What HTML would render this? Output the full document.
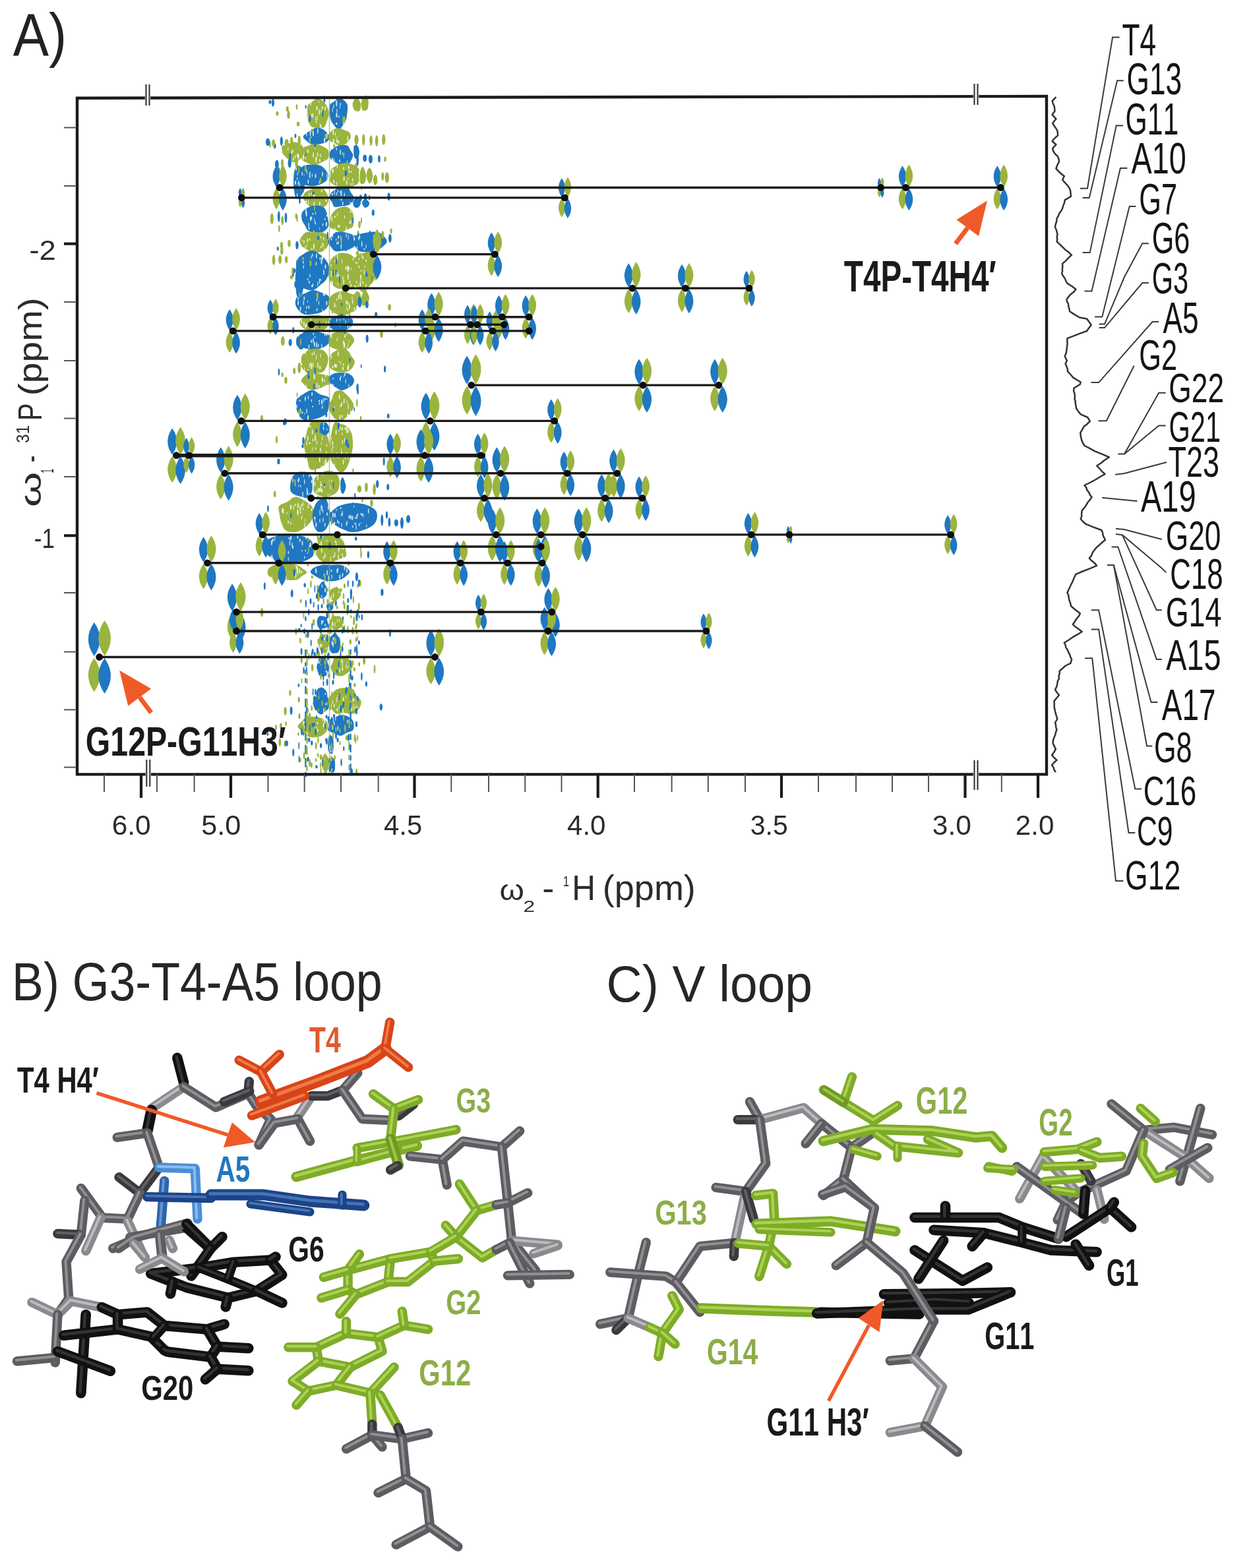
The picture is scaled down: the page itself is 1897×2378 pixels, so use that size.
<!DOCTYPE html>
<html><head><meta charset="utf-8"><title>NMR figure</title>
<style>html,body{margin:0;padding:0;background:#fff;width:1897px;height:2378px;overflow:hidden;} svg text{font-kerning:none;font-family:"Liberation Sans",Arial,sans-serif;}</style>
</head><body><svg width="1897" height="2378" viewBox="0 0 1897 2378" style="display:block"><g id="peaks"><path d="M498.9,172.0 C499.0,175.6 497.3,179.3 496.0,182.9 C494.7,186.4 493.5,191.5 491.2,193.3 C488.8,195.0 485.0,193.4 482.0,193.3 C479.0,193.2 475.6,194.3 473.1,192.7 C470.6,191.1 468.3,186.9 467.2,183.5 C466.0,180.0 466.3,175.9 466.2,172.0 C466.1,168.1 465.3,163.2 466.7,160.1 C468.0,157.1 471.6,155.7 474.1,153.8 C476.7,151.9 479.4,148.7 482.0,148.7 C484.6,148.7 487.6,151.5 489.9,153.6 C492.2,155.7 494.3,158.3 495.8,161.3 C497.3,164.4 498.9,168.4 498.9,172.0Z" fill="#9ab43e"/><ellipse cx="479.7" cy="185.1" rx="0.6" ry="2.2" fill="#ffffff" fill-opacity="0.80"/><ellipse cx="485.8" cy="189.9" rx="0.8" ry="2.7" fill="#ffffff" fill-opacity="0.80"/><ellipse cx="496.3" cy="153.9" rx="1.0" ry="2.4" fill="#ffffff" fill-opacity="0.80"/><ellipse cx="471.3" cy="156.7" rx="0.7" ry="3.9" fill="#ffffff" fill-opacity="0.80"/><ellipse cx="472.4" cy="175.3" rx="0.9" ry="2.6" fill="#ffffff" fill-opacity="0.80"/><ellipse cx="483.4" cy="154.5" rx="0.5" ry="2.1" fill="#ffffff" fill-opacity="0.80"/><ellipse cx="487.4" cy="169.1" rx="0.7" ry="3.3" fill="#ffffff" fill-opacity="0.80"/><ellipse cx="480.6" cy="164.0" rx="1.0" ry="3.6" fill="#ffffff" fill-opacity="0.80"/><ellipse cx="474.3" cy="175.0" rx="0.8" ry="4.1" fill="#ffffff" fill-opacity="0.80"/><ellipse cx="488.9" cy="163.5" rx="1.1" ry="1.9" fill="#ffffff" fill-opacity="0.80"/><ellipse cx="479.5" cy="182.3" rx="0.6" ry="3.0" fill="#ffffff" fill-opacity="0.80"/><ellipse cx="468.2" cy="178.7" rx="1.0" ry="3.2" fill="#ffffff" fill-opacity="0.80"/><ellipse cx="493.3" cy="164.5" rx="0.9" ry="3.3" fill="#ffffff" fill-opacity="0.80"/><ellipse cx="484.4" cy="170.2" rx="1.0" ry="4.3" fill="#ffffff" fill-opacity="0.80"/><ellipse cx="481.2" cy="178.6" rx="0.5" ry="3.6" fill="#ffffff" fill-opacity="0.80"/><ellipse cx="486.4" cy="191.7" rx="1.0" ry="2.4" fill="#ffffff" fill-opacity="0.80"/><ellipse cx="478.6" cy="178.7" rx="0.5" ry="2.9" fill="#ffffff" fill-opacity="0.80"/><path d="M526.4,172.0 C526.0,175.9 525.6,179.7 524.5,182.8 C523.4,185.8 521.6,187.9 519.8,190.3 C517.9,192.8 515.6,197.2 513.5,197.2 C511.4,197.3 509.0,193.0 507.1,190.7 C505.2,188.3 503.3,186.2 502.1,183.1 C500.9,180.0 500.1,176.0 499.8,172.0 C499.5,168.0 499.0,162.2 500.3,159.1 C501.5,156.0 505.0,155.3 507.2,153.5 C509.4,151.8 511.3,149.0 513.5,148.6 C515.7,148.2 518.4,149.5 520.6,151.2 C522.8,153.0 525.8,155.6 526.8,159.1 C527.7,162.5 526.8,168.1 526.4,172.0Z" fill="#1f78c1"/><ellipse cx="520.8" cy="186.6" rx="0.7" ry="2.7" fill="#ffffff" fill-opacity="0.80"/><ellipse cx="510.3" cy="187.4" rx="1.1" ry="2.0" fill="#ffffff" fill-opacity="0.80"/><ellipse cx="506.1" cy="161.3" rx="0.6" ry="3.0" fill="#ffffff" fill-opacity="0.80"/><ellipse cx="515.5" cy="162.5" rx="0.5" ry="2.8" fill="#ffffff" fill-opacity="0.80"/><ellipse cx="510.5" cy="174.7" rx="1.1" ry="3.6" fill="#ffffff" fill-opacity="0.80"/><ellipse cx="513.9" cy="176.7" rx="0.9" ry="1.7" fill="#ffffff" fill-opacity="0.80"/><ellipse cx="522.7" cy="183.2" rx="1.0" ry="3.9" fill="#ffffff" fill-opacity="0.80"/><ellipse cx="511.0" cy="168.0" rx="0.6" ry="3.4" fill="#ffffff" fill-opacity="0.80"/><ellipse cx="503.4" cy="154.7" rx="0.6" ry="2.0" fill="#ffffff" fill-opacity="0.80"/><ellipse cx="509.8" cy="154.1" rx="0.5" ry="2.0" fill="#ffffff" fill-opacity="0.80"/><ellipse cx="504.3" cy="166.5" rx="0.5" ry="4.1" fill="#ffffff" fill-opacity="0.80"/><ellipse cx="516.1" cy="157.9" rx="0.7" ry="2.5" fill="#ffffff" fill-opacity="0.80"/><ellipse cx="510.4" cy="156.9" rx="1.0" ry="4.5" fill="#ffffff" fill-opacity="0.80"/><path d="M499.6,207.5 C499.8,209.6 498.8,212.2 497.1,213.9 C495.4,215.6 491.9,216.7 489.2,217.5 C486.4,218.4 483.5,219.0 480.5,219.1 C477.5,219.3 473.9,219.2 471.2,218.2 C468.6,217.3 466.7,215.4 464.8,213.6 C462.9,211.8 459.7,209.5 459.7,207.5 C459.8,205.5 463.2,203.2 465.2,201.6 C467.2,199.9 469.4,199.0 472.0,197.6 C474.5,196.2 477.5,193.5 480.5,193.2 C483.5,193.0 487.6,194.9 490.2,196.3 C492.7,197.7 494.2,199.7 495.7,201.6 C497.3,203.5 499.4,205.4 499.6,207.5Z" fill="#1f78c1"/><ellipse cx="481.9" cy="198.5" rx="0.8" ry="4.4" fill="#ffffff" fill-opacity="0.80"/><ellipse cx="492.5" cy="211.2" rx="0.7" ry="2.6" fill="#ffffff" fill-opacity="0.80"/><ellipse cx="469.5" cy="212.7" rx="0.8" ry="3.8" fill="#ffffff" fill-opacity="0.80"/><ellipse cx="474.9" cy="202.2" rx="1.0" ry="4.5" fill="#ffffff" fill-opacity="0.80"/><ellipse cx="492.1" cy="213.3" rx="1.0" ry="3.7" fill="#ffffff" fill-opacity="0.80"/><ellipse cx="471.5" cy="207.8" rx="0.7" ry="1.6" fill="#ffffff" fill-opacity="0.80"/><ellipse cx="464.9" cy="203.3" rx="0.7" ry="3.6" fill="#ffffff" fill-opacity="0.80"/><ellipse cx="495.6" cy="206.5" rx="1.1" ry="4.5" fill="#ffffff" fill-opacity="0.80"/><ellipse cx="495.5" cy="204.9" rx="0.6" ry="2.2" fill="#ffffff" fill-opacity="0.80"/><ellipse cx="470.5" cy="201.9" rx="0.9" ry="4.2" fill="#ffffff" fill-opacity="0.80"/><path d="M531.9,207.5 C531.7,209.7 529.9,212.0 528.4,213.9 C527.0,215.8 525.3,217.8 523.1,219.1 C520.8,220.3 517.5,221.6 515.0,221.3 C512.5,221.0 510.3,218.7 508.0,217.5 C505.6,216.4 502.7,215.9 501.0,214.2 C499.3,212.5 497.9,209.8 497.9,207.5 C497.8,205.2 499.1,202.6 500.6,200.6 C502.1,198.7 504.3,196.7 506.7,195.7 C509.1,194.7 512.4,194.4 515.0,194.7 C517.6,194.9 519.8,196.2 522.2,197.2 C524.6,198.2 527.8,198.9 529.4,200.6 C531.1,202.3 532.0,205.3 531.9,207.5Z" fill="#9ab43e"/><ellipse cx="510.6" cy="213.2" rx="1.1" ry="2.7" fill="#ffffff" fill-opacity="0.80"/><ellipse cx="512.4" cy="216.0" rx="0.9" ry="2.0" fill="#ffffff" fill-opacity="0.80"/><ellipse cx="505.3" cy="200.9" rx="1.0" ry="3.9" fill="#ffffff" fill-opacity="0.80"/><ellipse cx="505.8" cy="213.7" rx="1.1" ry="3.5" fill="#ffffff" fill-opacity="0.80"/><ellipse cx="511.1" cy="208.4" rx="0.6" ry="1.5" fill="#ffffff" fill-opacity="0.80"/><ellipse cx="527.2" cy="210.3" rx="0.8" ry="4.3" fill="#ffffff" fill-opacity="0.80"/><ellipse cx="513.3" cy="214.6" rx="1.0" ry="2.1" fill="#ffffff" fill-opacity="0.80"/><ellipse cx="508.5" cy="203.6" rx="0.6" ry="3.3" fill="#ffffff" fill-opacity="0.80"/><path d="M498.6,234.5 C498.5,237.0 498.3,239.9 496.4,241.8 C494.6,243.8 490.7,244.8 487.4,246.3 C484.2,247.8 480.6,250.8 477.0,250.9 C473.4,251.0 469.2,248.5 466.0,247.0 C462.7,245.5 459.4,244.0 457.4,241.9 C455.3,239.8 454.0,237.1 453.7,234.5 C453.3,231.9 453.2,228.4 455.3,226.3 C457.3,224.2 462.2,223.2 465.8,221.8 C469.4,220.4 473.2,218.1 477.0,218.1 C480.8,218.0 485.1,220.1 488.4,221.6 C491.8,223.0 495.3,224.8 497.0,227.0 C498.7,229.1 498.6,232.0 498.6,234.5Z" fill="#9ab43e"/><ellipse cx="477.9" cy="223.4" rx="0.8" ry="2.0" fill="#ffffff" fill-opacity="0.80"/><ellipse cx="457.2" cy="241.4" rx="0.6" ry="2.9" fill="#ffffff" fill-opacity="0.80"/><ellipse cx="486.0" cy="235.8" rx="0.7" ry="3.1" fill="#ffffff" fill-opacity="0.80"/><ellipse cx="479.2" cy="241.0" rx="0.6" ry="3.2" fill="#ffffff" fill-opacity="0.80"/><ellipse cx="466.9" cy="229.4" rx="1.0" ry="3.0" fill="#ffffff" fill-opacity="0.80"/><ellipse cx="479.5" cy="240.5" rx="1.0" ry="2.8" fill="#ffffff" fill-opacity="0.80"/><ellipse cx="481.5" cy="234.6" rx="0.8" ry="3.6" fill="#ffffff" fill-opacity="0.80"/><ellipse cx="475.1" cy="235.3" rx="0.8" ry="4.3" fill="#ffffff" fill-opacity="0.80"/><ellipse cx="485.0" cy="243.2" rx="1.1" ry="2.3" fill="#ffffff" fill-opacity="0.80"/><ellipse cx="479.4" cy="244.7" rx="1.0" ry="1.9" fill="#ffffff" fill-opacity="0.80"/><ellipse cx="461.9" cy="233.2" rx="0.5" ry="2.2" fill="#ffffff" fill-opacity="0.80"/><ellipse cx="459.9" cy="238.4" rx="1.0" ry="4.2" fill="#ffffff" fill-opacity="0.80"/><ellipse cx="463.2" cy="239.5" rx="0.9" ry="1.9" fill="#ffffff" fill-opacity="0.80"/><ellipse cx="492.3" cy="245.3" rx="0.6" ry="4.4" fill="#ffffff" fill-opacity="0.80"/><path d="M535.3,234.5 C535.6,236.8 534.5,239.5 533.2,241.9 C531.9,244.4 530.3,247.5 527.7,249.0 C525.1,250.4 520.6,251.1 517.5,250.6 C514.4,250.2 511.7,247.8 509.1,246.4 C506.6,244.9 503.6,243.8 502.0,241.8 C500.3,239.9 499.2,236.9 499.2,234.5 C499.3,232.1 500.7,229.3 502.3,227.3 C504.0,225.3 506.5,223.7 509.1,222.5 C511.6,221.3 514.5,220.5 517.5,220.2 C520.5,219.9 524.8,219.6 527.1,220.9 C529.4,222.2 530.1,225.6 531.4,227.9 C532.8,230.2 535.0,232.2 535.3,234.5Z" fill="#1f78c1"/><ellipse cx="519.2" cy="233.1" rx="0.5" ry="2.5" fill="#ffffff" fill-opacity="0.80"/><ellipse cx="521.3" cy="234.8" rx="0.5" ry="4.5" fill="#ffffff" fill-opacity="0.80"/><ellipse cx="526.4" cy="245.3" rx="0.6" ry="2.3" fill="#ffffff" fill-opacity="0.80"/><ellipse cx="503.2" cy="240.9" rx="0.7" ry="1.9" fill="#ffffff" fill-opacity="0.80"/><ellipse cx="515.1" cy="244.0" rx="1.0" ry="2.3" fill="#ffffff" fill-opacity="0.80"/><ellipse cx="506.6" cy="244.1" rx="0.8" ry="3.6" fill="#ffffff" fill-opacity="0.80"/><ellipse cx="504.8" cy="224.3" rx="0.9" ry="2.8" fill="#ffffff" fill-opacity="0.80"/><ellipse cx="504.2" cy="244.6" rx="0.9" ry="3.9" fill="#ffffff" fill-opacity="0.80"/><ellipse cx="504.6" cy="242.7" rx="0.5" ry="4.1" fill="#ffffff" fill-opacity="0.80"/><ellipse cx="516.1" cy="230.8" rx="0.8" ry="4.3" fill="#ffffff" fill-opacity="0.80"/><ellipse cx="510.3" cy="226.0" rx="0.8" ry="2.2" fill="#ffffff" fill-opacity="0.80"/><path d="M497.6,266.0 C497.7,268.6 496.7,271.8 494.8,274.0 C492.8,276.3 489.2,278.2 485.9,279.5 C482.5,280.9 478.4,282.1 474.5,282.3 C470.6,282.4 465.8,281.8 462.3,280.5 C458.8,279.2 455.9,276.8 453.5,274.3 C451.0,271.9 447.4,268.8 447.4,266.0 C447.4,263.2 451.2,260.2 453.5,257.7 C455.9,255.2 458.3,252.1 461.8,250.8 C465.3,249.5 470.3,249.8 474.5,249.8 C478.7,249.9 483.5,250.0 486.8,251.4 C490.0,252.8 492.2,255.8 494.0,258.3 C495.8,260.7 497.5,263.4 497.6,266.0Z" fill="#1f78c1"/><ellipse cx="463.3" cy="252.4" rx="0.9" ry="3.2" fill="#ffffff" fill-opacity="0.80"/><ellipse cx="460.5" cy="265.3" rx="1.1" ry="1.8" fill="#ffffff" fill-opacity="0.80"/><ellipse cx="488.9" cy="264.1" rx="0.8" ry="4.0" fill="#ffffff" fill-opacity="0.80"/><ellipse cx="469.7" cy="266.2" rx="0.9" ry="4.4" fill="#ffffff" fill-opacity="0.80"/><ellipse cx="467.4" cy="275.3" rx="0.9" ry="3.4" fill="#ffffff" fill-opacity="0.80"/><ellipse cx="470.2" cy="261.7" rx="0.5" ry="1.9" fill="#ffffff" fill-opacity="0.80"/><ellipse cx="455.2" cy="272.7" rx="0.7" ry="2.0" fill="#ffffff" fill-opacity="0.80"/><ellipse cx="455.8" cy="275.6" rx="1.0" ry="3.5" fill="#ffffff" fill-opacity="0.80"/><ellipse cx="464.7" cy="258.8" rx="0.7" ry="2.9" fill="#ffffff" fill-opacity="0.80"/><ellipse cx="459.1" cy="264.5" rx="0.7" ry="4.4" fill="#ffffff" fill-opacity="0.80"/><ellipse cx="495.8" cy="267.3" rx="0.6" ry="4.4" fill="#ffffff" fill-opacity="0.80"/><ellipse cx="465.9" cy="262.0" rx="0.5" ry="2.6" fill="#ffffff" fill-opacity="0.80"/><ellipse cx="473.4" cy="266.1" rx="0.6" ry="3.0" fill="#ffffff" fill-opacity="0.80"/><ellipse cx="452.2" cy="259.4" rx="0.6" ry="2.7" fill="#ffffff" fill-opacity="0.80"/><ellipse cx="453.9" cy="252.6" rx="0.7" ry="2.2" fill="#ffffff" fill-opacity="0.80"/><ellipse cx="478.4" cy="266.8" rx="1.0" ry="3.5" fill="#ffffff" fill-opacity="0.80"/><ellipse cx="484.2" cy="276.6" rx="0.7" ry="2.5" fill="#ffffff" fill-opacity="0.80"/><ellipse cx="496.3" cy="256.2" rx="0.9" ry="3.4" fill="#ffffff" fill-opacity="0.80"/><path d="M543.3,266.0 C543.3,269.2 545.7,272.7 544.4,275.5 C543.1,278.2 538.9,281.2 535.3,282.6 C531.7,284.0 526.7,284.1 522.5,284.0 C518.3,283.9 513.8,283.5 510.1,282.0 C506.5,280.6 502.2,278.1 500.7,275.4 C499.2,272.7 500.9,269.0 501.1,266.0 C501.4,263.0 500.5,259.7 502.1,257.2 C503.7,254.7 507.4,252.5 510.8,250.8 C514.2,249.1 518.5,247.3 522.5,247.1 C526.5,246.9 531.4,248.1 535.1,249.7 C538.7,251.3 543.0,253.8 544.4,256.6 C545.7,259.3 543.3,262.8 543.3,266.0Z" fill="#9ab43e"/><ellipse cx="525.9" cy="277.0" rx="0.9" ry="3.6" fill="#ffffff" fill-opacity="0.80"/><ellipse cx="511.4" cy="252.9" rx="0.6" ry="2.6" fill="#ffffff" fill-opacity="0.80"/><ellipse cx="506.3" cy="275.4" rx="0.8" ry="3.4" fill="#ffffff" fill-opacity="0.80"/><ellipse cx="527.7" cy="271.1" rx="0.8" ry="1.5" fill="#ffffff" fill-opacity="0.80"/><ellipse cx="534.7" cy="273.0" rx="0.8" ry="3.1" fill="#ffffff" fill-opacity="0.80"/><ellipse cx="529.0" cy="253.8" rx="0.9" ry="2.3" fill="#ffffff" fill-opacity="0.80"/><ellipse cx="505.1" cy="259.4" rx="0.9" ry="2.1" fill="#ffffff" fill-opacity="0.80"/><ellipse cx="532.3" cy="279.3" rx="0.8" ry="2.6" fill="#ffffff" fill-opacity="0.80"/><ellipse cx="521.6" cy="271.1" rx="1.0" ry="3.4" fill="#ffffff" fill-opacity="0.80"/><ellipse cx="528.4" cy="254.2" rx="0.6" ry="2.3" fill="#ffffff" fill-opacity="0.80"/><ellipse cx="532.5" cy="260.5" rx="0.8" ry="1.5" fill="#ffffff" fill-opacity="0.80"/><ellipse cx="504.5" cy="259.5" rx="0.9" ry="3.6" fill="#ffffff" fill-opacity="0.80"/><ellipse cx="529.7" cy="260.1" rx="0.8" ry="2.9" fill="#ffffff" fill-opacity="0.80"/><ellipse cx="521.1" cy="255.3" rx="1.0" ry="2.1" fill="#ffffff" fill-opacity="0.80"/><ellipse cx="542.1" cy="278.2" rx="0.5" ry="2.9" fill="#ffffff" fill-opacity="0.80"/><ellipse cx="535.6" cy="279.1" rx="0.8" ry="2.3" fill="#ffffff" fill-opacity="0.80"/><ellipse cx="510.6" cy="278.5" rx="0.6" ry="3.2" fill="#ffffff" fill-opacity="0.80"/><path d="M498.1,299.5 C498.4,301.9 498.4,304.6 497.3,307.0 C496.1,309.4 494.0,312.8 491.2,313.8 C488.4,314.9 484.0,313.2 480.5,313.1 C477.0,313.0 472.9,314.5 470.1,313.4 C467.4,312.4 465.6,309.3 463.8,307.0 C462.0,304.7 459.6,302.1 459.5,299.5 C459.3,296.9 461.0,293.7 463.0,291.7 C465.0,289.7 468.6,288.8 471.5,287.4 C474.4,286.0 477.4,283.3 480.5,283.1 C483.6,283.0 487.6,285.0 490.1,286.6 C492.5,288.2 493.9,290.7 495.3,292.9 C496.6,295.0 497.8,297.1 498.1,299.5Z" fill="#9ab43e"/><ellipse cx="464.1" cy="299.3" rx="0.8" ry="2.4" fill="#ffffff" fill-opacity="0.80"/><ellipse cx="468.6" cy="295.9" rx="0.7" ry="4.0" fill="#ffffff" fill-opacity="0.80"/><ellipse cx="464.1" cy="305.3" rx="1.0" ry="1.9" fill="#ffffff" fill-opacity="0.80"/><ellipse cx="494.6" cy="304.4" rx="1.0" ry="2.4" fill="#ffffff" fill-opacity="0.80"/><ellipse cx="476.3" cy="297.0" rx="1.1" ry="3.3" fill="#ffffff" fill-opacity="0.80"/><ellipse cx="475.9" cy="297.8" rx="0.7" ry="1.6" fill="#ffffff" fill-opacity="0.80"/><ellipse cx="467.4" cy="307.2" rx="0.7" ry="4.3" fill="#ffffff" fill-opacity="0.80"/><ellipse cx="472.2" cy="294.1" rx="0.8" ry="2.1" fill="#ffffff" fill-opacity="0.80"/><ellipse cx="476.3" cy="310.0" rx="1.0" ry="3.9" fill="#ffffff" fill-opacity="0.80"/><ellipse cx="484.8" cy="309.0" rx="1.1" ry="3.1" fill="#ffffff" fill-opacity="0.80"/><ellipse cx="487.7" cy="289.1" rx="0.9" ry="2.9" fill="#ffffff" fill-opacity="0.80"/><path d="M536.8,299.5 C537.0,302.0 535.6,305.2 533.8,307.2 C532.0,309.3 528.9,310.8 526.1,311.8 C523.4,312.7 520.6,312.5 517.5,312.8 C514.4,313.1 509.9,314.8 507.5,313.8 C505.1,312.7 504.5,308.7 503.1,306.3 C501.8,303.9 499.6,301.8 499.4,299.5 C499.3,297.2 500.8,294.4 502.3,292.3 C503.9,290.3 506.3,288.6 508.8,287.2 C511.4,285.8 514.4,284.1 517.5,283.7 C520.6,283.4 525.2,283.6 527.6,285.1 C530.1,286.5 530.8,290.1 532.4,292.5 C533.9,294.9 536.6,297.0 536.8,299.5Z" fill="#1f78c1"/><ellipse cx="522.3" cy="294.9" rx="0.8" ry="2.7" fill="#ffffff" fill-opacity="0.80"/><ellipse cx="507.2" cy="291.7" rx="0.6" ry="4.2" fill="#ffffff" fill-opacity="0.80"/><ellipse cx="517.4" cy="293.1" rx="1.0" ry="4.5" fill="#ffffff" fill-opacity="0.80"/><ellipse cx="515.9" cy="291.2" rx="0.6" ry="1.8" fill="#ffffff" fill-opacity="0.80"/><ellipse cx="512.6" cy="290.1" rx="0.6" ry="2.3" fill="#ffffff" fill-opacity="0.80"/><ellipse cx="519.7" cy="308.4" rx="0.9" ry="2.7" fill="#ffffff" fill-opacity="0.80"/><ellipse cx="514.8" cy="300.1" rx="0.7" ry="2.5" fill="#ffffff" fill-opacity="0.80"/><ellipse cx="503.9" cy="294.4" rx="1.1" ry="1.9" fill="#ffffff" fill-opacity="0.80"/><ellipse cx="517.6" cy="302.5" rx="1.0" ry="2.1" fill="#ffffff" fill-opacity="0.80"/><ellipse cx="510.4" cy="293.7" rx="0.7" ry="2.8" fill="#ffffff" fill-opacity="0.80"/><ellipse cx="531.6" cy="307.5" rx="1.0" ry="1.6" fill="#ffffff" fill-opacity="0.80"/><path d="M497.4,333.0 C497.8,336.2 499.1,340.2 497.9,343.3 C496.7,346.4 493.4,350.0 490.2,351.6 C486.9,353.1 482.3,352.7 478.5,352.4 C474.7,352.2 470.3,352.1 467.6,350.3 C464.9,348.5 463.9,344.5 462.3,341.6 C460.6,338.7 458.4,336.2 457.7,333.0 C457.1,329.8 456.6,325.3 458.1,322.2 C459.7,319.2 463.6,316.5 467.0,314.7 C470.4,313.0 474.6,311.9 478.5,311.8 C482.4,311.7 487.5,312.1 490.4,314.1 C493.3,316.1 494.7,320.7 495.8,323.8 C497.0,327.0 497.1,329.8 497.4,333.0Z" fill="#1f78c1"/><ellipse cx="464.0" cy="321.9" rx="0.8" ry="3.5" fill="#ffffff" fill-opacity="0.80"/><ellipse cx="494.8" cy="340.1" rx="0.9" ry="3.8" fill="#ffffff" fill-opacity="0.80"/><ellipse cx="476.9" cy="334.6" rx="0.5" ry="3.8" fill="#ffffff" fill-opacity="0.80"/><ellipse cx="468.6" cy="346.4" rx="0.9" ry="2.4" fill="#ffffff" fill-opacity="0.80"/><ellipse cx="464.7" cy="325.1" rx="0.9" ry="3.6" fill="#ffffff" fill-opacity="0.80"/><ellipse cx="464.1" cy="319.3" rx="0.8" ry="3.2" fill="#ffffff" fill-opacity="0.80"/><ellipse cx="474.4" cy="324.2" rx="0.9" ry="1.5" fill="#ffffff" fill-opacity="0.80"/><ellipse cx="471.2" cy="331.7" rx="1.1" ry="3.4" fill="#ffffff" fill-opacity="0.80"/><ellipse cx="492.7" cy="332.2" rx="0.6" ry="2.2" fill="#ffffff" fill-opacity="0.80"/><ellipse cx="495.5" cy="339.5" rx="0.7" ry="1.6" fill="#ffffff" fill-opacity="0.80"/><ellipse cx="478.4" cy="338.6" rx="0.8" ry="2.3" fill="#ffffff" fill-opacity="0.80"/><ellipse cx="484.7" cy="346.6" rx="0.6" ry="1.6" fill="#ffffff" fill-opacity="0.80"/><ellipse cx="472.5" cy="330.5" rx="0.9" ry="2.1" fill="#ffffff" fill-opacity="0.80"/><ellipse cx="489.5" cy="340.7" rx="0.8" ry="2.1" fill="#ffffff" fill-opacity="0.80"/><ellipse cx="495.9" cy="327.0" rx="1.0" ry="2.2" fill="#ffffff" fill-opacity="0.80"/><ellipse cx="468.2" cy="341.3" rx="0.7" ry="4.4" fill="#ffffff" fill-opacity="0.80"/><ellipse cx="478.3" cy="323.0" rx="0.6" ry="2.8" fill="#ffffff" fill-opacity="0.80"/><path d="M536.4,333.0 C536.5,336.6 536.7,341.3 535.0,343.8 C533.2,346.4 528.7,347.1 525.8,348.5 C522.9,349.9 520.3,352.0 517.5,352.1 C514.7,352.1 512.0,350.1 509.0,348.8 C506.1,347.4 501.3,346.5 499.9,343.9 C498.6,341.3 500.3,336.3 500.9,333.0 C501.4,329.7 502.0,326.8 503.4,324.3 C504.8,321.7 507.0,319.6 509.4,317.8 C511.7,316.1 514.5,314.5 517.5,313.9 C520.5,313.4 524.6,313.0 527.5,314.4 C530.3,315.8 533.2,319.2 534.7,322.3 C536.2,325.4 536.4,329.4 536.4,333.0Z" fill="#9ab43e"/><ellipse cx="524.7" cy="348.9" rx="1.1" ry="2.5" fill="#ffffff" fill-opacity="0.80"/><ellipse cx="507.8" cy="346.9" rx="0.9" ry="1.6" fill="#ffffff" fill-opacity="0.80"/><ellipse cx="522.6" cy="329.1" rx="0.7" ry="2.5" fill="#ffffff" fill-opacity="0.80"/><ellipse cx="507.2" cy="317.1" rx="0.7" ry="2.6" fill="#ffffff" fill-opacity="0.80"/><ellipse cx="531.6" cy="321.0" rx="1.1" ry="2.1" fill="#ffffff" fill-opacity="0.80"/><ellipse cx="513.1" cy="343.3" rx="1.0" ry="2.8" fill="#ffffff" fill-opacity="0.80"/><ellipse cx="503.5" cy="332.2" rx="0.7" ry="4.3" fill="#ffffff" fill-opacity="0.80"/><ellipse cx="508.0" cy="328.7" rx="1.0" ry="1.6" fill="#ffffff" fill-opacity="0.80"/><ellipse cx="514.7" cy="343.0" rx="1.0" ry="1.6" fill="#ffffff" fill-opacity="0.80"/><ellipse cx="503.1" cy="319.0" rx="1.1" ry="2.3" fill="#ffffff" fill-opacity="0.80"/><ellipse cx="525.2" cy="345.8" rx="0.7" ry="2.3" fill="#ffffff" fill-opacity="0.80"/><ellipse cx="531.7" cy="336.7" rx="0.7" ry="3.6" fill="#ffffff" fill-opacity="0.80"/><ellipse cx="511.8" cy="325.8" rx="0.5" ry="3.8" fill="#ffffff" fill-opacity="0.80"/><ellipse cx="530.4" cy="337.3" rx="1.1" ry="1.6" fill="#ffffff" fill-opacity="0.80"/><path d="M498.4,366.5 C498.2,369.1 498.2,371.5 496.7,373.9 C495.2,376.3 493.0,379.3 489.7,380.9 C486.4,382.4 481.0,383.4 477.0,383.1 C473.0,382.8 469.0,380.7 465.9,379.1 C462.8,377.5 460.3,375.6 458.4,373.5 C456.5,371.4 454.7,368.9 454.5,366.5 C454.3,364.1 455.6,361.4 457.2,359.0 C458.9,356.7 461.1,353.3 464.4,352.2 C467.7,351.2 472.9,352.6 477.0,352.7 C481.1,352.8 485.8,351.6 489.3,352.6 C492.8,353.6 496.4,356.3 497.9,358.6 C499.5,360.9 498.6,363.9 498.4,366.5Z" fill="#9ab43e"/><ellipse cx="489.9" cy="372.8" rx="0.9" ry="2.5" fill="#ffffff" fill-opacity="0.80"/><ellipse cx="469.8" cy="363.3" rx="1.0" ry="1.7" fill="#ffffff" fill-opacity="0.80"/><ellipse cx="464.9" cy="372.3" rx="0.6" ry="1.7" fill="#ffffff" fill-opacity="0.80"/><ellipse cx="458.4" cy="367.7" rx="0.7" ry="4.4" fill="#ffffff" fill-opacity="0.80"/><ellipse cx="492.3" cy="377.7" rx="0.7" ry="1.8" fill="#ffffff" fill-opacity="0.80"/><ellipse cx="460.9" cy="366.5" rx="0.9" ry="2.8" fill="#ffffff" fill-opacity="0.80"/><ellipse cx="466.4" cy="364.6" rx="0.9" ry="3.5" fill="#ffffff" fill-opacity="0.80"/><ellipse cx="486.9" cy="374.5" rx="0.9" ry="1.9" fill="#ffffff" fill-opacity="0.80"/><ellipse cx="490.6" cy="361.8" rx="0.8" ry="2.6" fill="#ffffff" fill-opacity="0.80"/><ellipse cx="486.5" cy="359.6" rx="0.6" ry="2.2" fill="#ffffff" fill-opacity="0.80"/><ellipse cx="463.1" cy="375.3" rx="0.8" ry="2.5" fill="#ffffff" fill-opacity="0.80"/><ellipse cx="472.8" cy="377.8" rx="0.8" ry="2.2" fill="#ffffff" fill-opacity="0.80"/><ellipse cx="489.3" cy="370.0" rx="1.1" ry="1.8" fill="#ffffff" fill-opacity="0.80"/><ellipse cx="476.0" cy="373.8" rx="1.0" ry="4.2" fill="#ffffff" fill-opacity="0.80"/><path d="M538.5,366.5 C538.2,369.0 538.6,371.6 537.1,373.6 C535.6,375.6 532.3,377.1 529.4,378.3 C526.6,379.4 523.5,379.9 520.0,380.3 C516.5,380.8 511.5,381.9 508.4,380.9 C505.4,379.9 503.5,376.5 501.6,374.1 C499.7,371.7 496.9,369.0 497.1,366.5 C497.2,364.0 500.6,361.6 502.5,359.3 C504.5,356.9 505.8,353.7 508.7,352.4 C511.6,351.2 516.5,351.4 520.0,351.7 C523.5,352.1 526.6,353.2 529.8,354.3 C533.0,355.4 537.8,356.5 539.2,358.5 C540.7,360.6 538.9,364.0 538.5,366.5Z" fill="#1f78c1"/><ellipse cx="536.0" cy="357.4" rx="0.9" ry="3.4" fill="#ffffff" fill-opacity="0.80"/><ellipse cx="509.8" cy="363.5" rx="0.6" ry="2.1" fill="#ffffff" fill-opacity="0.80"/><ellipse cx="511.2" cy="368.8" rx="0.9" ry="2.1" fill="#ffffff" fill-opacity="0.80"/><ellipse cx="502.4" cy="362.5" rx="0.9" ry="2.1" fill="#ffffff" fill-opacity="0.80"/><ellipse cx="513.2" cy="359.7" rx="1.0" ry="3.1" fill="#ffffff" fill-opacity="0.80"/><ellipse cx="504.3" cy="357.3" rx="0.7" ry="3.2" fill="#ffffff" fill-opacity="0.80"/><ellipse cx="525.0" cy="357.1" rx="0.6" ry="3.6" fill="#ffffff" fill-opacity="0.80"/><ellipse cx="516.8" cy="361.5" rx="0.7" ry="4.4" fill="#ffffff" fill-opacity="0.80"/><ellipse cx="513.2" cy="368.0" rx="0.7" ry="2.7" fill="#ffffff" fill-opacity="0.80"/><ellipse cx="533.1" cy="377.9" rx="0.7" ry="2.1" fill="#ffffff" fill-opacity="0.80"/><ellipse cx="528.2" cy="359.7" rx="0.5" ry="4.2" fill="#ffffff" fill-opacity="0.80"/><ellipse cx="517.3" cy="373.9" rx="0.7" ry="4.1" fill="#ffffff" fill-opacity="0.80"/><path d="M499.8,410.0 C499.7,414.6 497.0,419.9 494.6,423.7 C492.2,427.5 488.7,430.1 485.2,432.9 C481.7,435.6 477.7,439.6 473.5,440.2 C469.3,440.9 464.0,439.0 459.8,436.7 C455.6,434.4 450.0,430.9 448.3,426.4 C446.6,421.9 449.3,415.3 449.6,410.0 C449.9,404.7 448.0,398.8 449.9,394.6 C451.7,390.4 456.7,387.4 460.7,384.9 C464.6,382.5 469.3,379.9 473.5,380.1 C477.7,380.3 482.0,383.7 485.6,386.3 C489.3,389.0 492.9,391.9 495.3,395.8 C497.6,399.8 499.9,405.4 499.8,410.0Z" fill="#1f78c1"/><ellipse cx="474.5" cy="432.1" rx="0.6" ry="3.0" fill="#ffffff" fill-opacity="0.80"/><ellipse cx="487.8" cy="434.3" rx="0.6" ry="1.9" fill="#ffffff" fill-opacity="0.80"/><ellipse cx="494.3" cy="434.7" rx="0.8" ry="1.7" fill="#ffffff" fill-opacity="0.80"/><ellipse cx="493.5" cy="404.2" rx="1.0" ry="3.4" fill="#ffffff" fill-opacity="0.80"/><ellipse cx="488.8" cy="392.3" rx="1.0" ry="2.2" fill="#ffffff" fill-opacity="0.80"/><ellipse cx="469.0" cy="428.0" rx="1.0" ry="2.0" fill="#ffffff" fill-opacity="0.80"/><ellipse cx="460.3" cy="404.8" rx="0.8" ry="2.7" fill="#ffffff" fill-opacity="0.80"/><ellipse cx="455.8" cy="396.8" rx="0.9" ry="4.2" fill="#ffffff" fill-opacity="0.80"/><ellipse cx="451.9" cy="413.2" rx="1.0" ry="1.6" fill="#ffffff" fill-opacity="0.80"/><ellipse cx="489.4" cy="390.1" rx="0.9" ry="3.2" fill="#ffffff" fill-opacity="0.80"/><ellipse cx="479.5" cy="399.9" rx="0.8" ry="3.2" fill="#ffffff" fill-opacity="0.80"/><ellipse cx="470.0" cy="418.3" rx="0.8" ry="2.8" fill="#ffffff" fill-opacity="0.80"/><ellipse cx="451.1" cy="416.2" rx="0.8" ry="2.2" fill="#ffffff" fill-opacity="0.80"/><ellipse cx="485.9" cy="424.6" rx="0.8" ry="2.0" fill="#ffffff" fill-opacity="0.80"/><ellipse cx="472.2" cy="389.6" rx="0.6" ry="2.8" fill="#ffffff" fill-opacity="0.80"/><ellipse cx="454.3" cy="407.0" rx="0.8" ry="1.6" fill="#ffffff" fill-opacity="0.80"/><ellipse cx="479.9" cy="388.3" rx="0.9" ry="3.8" fill="#ffffff" fill-opacity="0.80"/><ellipse cx="474.0" cy="386.8" rx="0.8" ry="2.6" fill="#ffffff" fill-opacity="0.80"/><ellipse cx="494.7" cy="391.1" rx="1.0" ry="4.5" fill="#ffffff" fill-opacity="0.80"/><ellipse cx="484.4" cy="426.4" rx="0.6" ry="4.4" fill="#ffffff" fill-opacity="0.80"/><ellipse cx="473.1" cy="433.7" rx="1.0" ry="2.0" fill="#ffffff" fill-opacity="0.80"/><ellipse cx="487.1" cy="432.4" rx="0.5" ry="2.6" fill="#ffffff" fill-opacity="0.80"/><ellipse cx="485.5" cy="392.3" rx="1.0" ry="2.3" fill="#ffffff" fill-opacity="0.80"/><ellipse cx="488.3" cy="391.5" rx="0.8" ry="4.3" fill="#ffffff" fill-opacity="0.80"/><ellipse cx="459.8" cy="397.7" rx="0.8" ry="2.5" fill="#ffffff" fill-opacity="0.80"/><ellipse cx="451.7" cy="393.5" rx="0.6" ry="4.3" fill="#ffffff" fill-opacity="0.80"/><ellipse cx="481.9" cy="430.6" rx="0.6" ry="3.9" fill="#ffffff" fill-opacity="0.80"/><ellipse cx="455.4" cy="411.6" rx="0.9" ry="2.6" fill="#ffffff" fill-opacity="0.80"/><ellipse cx="491.0" cy="412.9" rx="0.8" ry="4.1" fill="#ffffff" fill-opacity="0.80"/><ellipse cx="454.9" cy="435.6" rx="0.9" ry="2.7" fill="#ffffff" fill-opacity="0.80"/><ellipse cx="487.5" cy="397.8" rx="1.1" ry="3.2" fill="#ffffff" fill-opacity="0.80"/><ellipse cx="466.9" cy="423.8" rx="0.8" ry="2.0" fill="#ffffff" fill-opacity="0.80"/><path d="M547.3,410.0 C547.2,414.5 542.6,418.7 540.6,423.3 C538.5,428.0 538.1,435.4 535.1,437.9 C532.1,440.3 526.6,438.3 522.5,438.1 C518.4,437.9 514.2,438.6 510.4,436.7 C506.6,434.8 501.8,431.1 499.9,426.7 C497.9,422.2 498.4,415.4 498.6,410.0 C498.9,404.6 499.3,398.6 501.4,394.5 C503.6,390.4 507.8,387.1 511.3,385.3 C514.8,383.5 518.9,383.4 522.5,383.7 C526.1,384.0 529.8,384.9 532.9,387.0 C536.0,389.1 538.7,392.5 541.1,396.3 C543.5,400.2 547.3,405.5 547.3,410.0Z" fill="#9ab43e"/><ellipse cx="527.3" cy="406.5" rx="0.8" ry="4.2" fill="#ffffff" fill-opacity="0.80"/><ellipse cx="507.4" cy="395.8" rx="0.9" ry="1.6" fill="#ffffff" fill-opacity="0.80"/><ellipse cx="502.1" cy="402.5" rx="0.6" ry="2.6" fill="#ffffff" fill-opacity="0.80"/><ellipse cx="511.2" cy="414.3" rx="0.9" ry="2.1" fill="#ffffff" fill-opacity="0.80"/><ellipse cx="527.6" cy="408.7" rx="0.6" ry="4.3" fill="#ffffff" fill-opacity="0.80"/><ellipse cx="512.0" cy="391.8" rx="0.6" ry="3.4" fill="#ffffff" fill-opacity="0.80"/><ellipse cx="537.7" cy="424.7" rx="0.7" ry="2.3" fill="#ffffff" fill-opacity="0.80"/><ellipse cx="502.5" cy="417.5" rx="0.8" ry="2.6" fill="#ffffff" fill-opacity="0.80"/><ellipse cx="528.5" cy="407.1" rx="1.1" ry="3.7" fill="#ffffff" fill-opacity="0.80"/><ellipse cx="512.2" cy="431.0" rx="0.5" ry="3.1" fill="#ffffff" fill-opacity="0.80"/><ellipse cx="518.6" cy="396.4" rx="0.5" ry="3.8" fill="#ffffff" fill-opacity="0.80"/><ellipse cx="502.5" cy="412.6" rx="1.1" ry="1.9" fill="#ffffff" fill-opacity="0.80"/><ellipse cx="510.2" cy="415.6" rx="0.8" ry="3.4" fill="#ffffff" fill-opacity="0.80"/><ellipse cx="535.3" cy="393.1" rx="0.7" ry="2.4" fill="#ffffff" fill-opacity="0.80"/><ellipse cx="504.0" cy="430.2" rx="1.0" ry="3.6" fill="#ffffff" fill-opacity="0.80"/><ellipse cx="502.3" cy="427.9" rx="0.9" ry="2.9" fill="#ffffff" fill-opacity="0.80"/><ellipse cx="532.4" cy="407.5" rx="0.6" ry="1.8" fill="#ffffff" fill-opacity="0.80"/><ellipse cx="511.5" cy="386.0" rx="0.7" ry="3.7" fill="#ffffff" fill-opacity="0.80"/><ellipse cx="530.5" cy="428.0" rx="0.9" ry="2.3" fill="#ffffff" fill-opacity="0.80"/><ellipse cx="524.7" cy="406.7" rx="1.0" ry="3.1" fill="#ffffff" fill-opacity="0.80"/><ellipse cx="512.9" cy="417.4" rx="1.1" ry="2.2" fill="#ffffff" fill-opacity="0.80"/><ellipse cx="538.1" cy="384.8" rx="0.7" ry="2.2" fill="#ffffff" fill-opacity="0.80"/><ellipse cx="532.5" cy="433.1" rx="0.9" ry="2.5" fill="#ffffff" fill-opacity="0.80"/><ellipse cx="538.1" cy="401.1" rx="0.6" ry="4.2" fill="#ffffff" fill-opacity="0.80"/><ellipse cx="527.9" cy="420.0" rx="0.9" ry="4.4" fill="#ffffff" fill-opacity="0.80"/><ellipse cx="521.2" cy="427.7" rx="0.9" ry="4.1" fill="#ffffff" fill-opacity="0.80"/><ellipse cx="519.9" cy="421.7" rx="0.8" ry="2.4" fill="#ffffff" fill-opacity="0.80"/><ellipse cx="510.7" cy="416.4" rx="0.5" ry="4.2" fill="#ffffff" fill-opacity="0.80"/><ellipse cx="507.9" cy="385.4" rx="0.6" ry="4.3" fill="#ffffff" fill-opacity="0.80"/><path d="M499.0,459.5 C498.4,462.7 496.9,465.8 494.7,468.2 C492.5,470.6 489.2,472.8 485.8,474.1 C482.4,475.5 478.6,476.0 474.5,476.5 C470.4,476.9 465.0,478.0 461.2,476.8 C457.4,475.6 454.0,472.2 451.7,469.3 C449.5,466.5 447.9,462.8 447.8,459.5 C447.7,456.2 448.6,451.9 451.2,449.4 C453.7,447.0 459.2,446.3 463.1,444.7 C467.0,443.2 470.5,440.2 474.5,440.0 C478.5,439.8 482.9,442.0 486.8,443.5 C490.8,445.1 496.2,446.6 498.2,449.2 C500.3,451.9 499.6,456.3 499.0,459.5Z" fill="#1f78c1"/><ellipse cx="488.9" cy="471.6" rx="0.5" ry="4.1" fill="#ffffff" fill-opacity="0.80"/><ellipse cx="493.1" cy="473.3" rx="0.6" ry="2.1" fill="#ffffff" fill-opacity="0.80"/><ellipse cx="457.0" cy="445.1" rx="1.0" ry="3.9" fill="#ffffff" fill-opacity="0.80"/><ellipse cx="480.5" cy="469.6" rx="0.9" ry="2.4" fill="#ffffff" fill-opacity="0.80"/><ellipse cx="456.5" cy="447.0" rx="1.0" ry="2.1" fill="#ffffff" fill-opacity="0.80"/><ellipse cx="466.4" cy="457.1" rx="0.5" ry="2.3" fill="#ffffff" fill-opacity="0.80"/><ellipse cx="464.7" cy="466.2" rx="0.7" ry="2.5" fill="#ffffff" fill-opacity="0.80"/><ellipse cx="495.4" cy="459.6" rx="1.0" ry="3.4" fill="#ffffff" fill-opacity="0.80"/><ellipse cx="453.4" cy="456.8" rx="0.8" ry="3.8" fill="#ffffff" fill-opacity="0.80"/><ellipse cx="467.6" cy="465.8" rx="0.8" ry="2.1" fill="#ffffff" fill-opacity="0.80"/><ellipse cx="490.8" cy="446.8" rx="1.0" ry="2.0" fill="#ffffff" fill-opacity="0.80"/><ellipse cx="452.1" cy="450.3" rx="1.0" ry="4.4" fill="#ffffff" fill-opacity="0.80"/><ellipse cx="452.2" cy="459.2" rx="0.8" ry="3.9" fill="#ffffff" fill-opacity="0.80"/><ellipse cx="460.3" cy="459.3" rx="0.7" ry="4.0" fill="#ffffff" fill-opacity="0.80"/><ellipse cx="463.7" cy="473.3" rx="0.7" ry="2.1" fill="#ffffff" fill-opacity="0.80"/><ellipse cx="483.5" cy="459.4" rx="0.6" ry="3.4" fill="#ffffff" fill-opacity="0.80"/><ellipse cx="455.6" cy="468.4" rx="0.9" ry="3.9" fill="#ffffff" fill-opacity="0.80"/><ellipse cx="480.3" cy="455.0" rx="0.7" ry="2.7" fill="#ffffff" fill-opacity="0.80"/><ellipse cx="492.1" cy="446.7" rx="1.0" ry="1.6" fill="#ffffff" fill-opacity="0.80"/><ellipse cx="461.3" cy="452.2" rx="1.0" ry="3.0" fill="#ffffff" fill-opacity="0.80"/><path d="M540.2,459.5 C540.2,463.0 541.4,467.3 539.7,469.9 C537.9,472.5 533.0,473.5 529.7,474.9 C526.5,476.4 523.4,478.2 520.0,478.4 C516.6,478.6 512.7,477.6 509.5,476.1 C506.3,474.7 502.8,472.4 500.9,469.6 C499.0,466.8 497.9,462.8 497.9,459.5 C498.0,456.2 499.3,452.3 501.4,449.6 C503.4,447.0 506.9,445.0 510.0,443.6 C513.1,442.2 516.7,441.1 520.0,441.2 C523.3,441.4 526.3,443.0 529.5,444.4 C532.8,445.7 537.7,446.7 539.5,449.2 C541.3,451.7 540.2,456.0 540.2,459.5Z" fill="#9ab43e"/><ellipse cx="525.8" cy="467.0" rx="0.6" ry="2.8" fill="#ffffff" fill-opacity="0.80"/><ellipse cx="529.8" cy="462.0" rx="0.6" ry="2.9" fill="#ffffff" fill-opacity="0.80"/><ellipse cx="533.9" cy="451.4" rx="0.6" ry="2.4" fill="#ffffff" fill-opacity="0.80"/><ellipse cx="527.3" cy="470.2" rx="0.6" ry="2.0" fill="#ffffff" fill-opacity="0.80"/><ellipse cx="510.9" cy="454.1" rx="0.8" ry="2.0" fill="#ffffff" fill-opacity="0.80"/><ellipse cx="513.8" cy="449.9" rx="1.1" ry="3.7" fill="#ffffff" fill-opacity="0.80"/><ellipse cx="505.7" cy="473.8" rx="0.6" ry="2.7" fill="#ffffff" fill-opacity="0.80"/><ellipse cx="537.4" cy="468.6" rx="0.9" ry="2.8" fill="#ffffff" fill-opacity="0.80"/><ellipse cx="509.1" cy="463.8" rx="0.6" ry="2.1" fill="#ffffff" fill-opacity="0.80"/><ellipse cx="516.0" cy="445.1" rx="0.7" ry="3.9" fill="#ffffff" fill-opacity="0.80"/><ellipse cx="527.0" cy="459.5" rx="0.9" ry="2.9" fill="#ffffff" fill-opacity="0.80"/><ellipse cx="507.1" cy="462.7" rx="0.7" ry="3.7" fill="#ffffff" fill-opacity="0.80"/><ellipse cx="534.7" cy="457.3" rx="0.8" ry="3.7" fill="#ffffff" fill-opacity="0.80"/><ellipse cx="517.2" cy="451.1" rx="0.9" ry="4.1" fill="#ffffff" fill-opacity="0.80"/><ellipse cx="529.9" cy="465.7" rx="1.0" ry="3.5" fill="#ffffff" fill-opacity="0.80"/><ellipse cx="525.1" cy="458.1" rx="0.7" ry="3.4" fill="#ffffff" fill-opacity="0.80"/><path d="M497.7,490.0 C497.3,492.1 497.8,494.2 496.4,496.1 C495.0,498.0 492.5,500.3 489.2,501.4 C486.0,502.6 481.0,503.1 477.0,503.0 C473.0,502.9 468.3,502.2 465.2,501.0 C462.1,499.8 460.2,497.6 458.4,495.8 C456.6,494.0 454.7,492.0 454.5,490.0 C454.4,488.0 455.6,485.7 457.4,483.9 C459.2,482.1 462.0,480.0 465.2,479.0 C468.5,478.0 473.1,477.9 477.0,477.9 C480.9,477.9 485.3,478.0 488.9,478.8 C492.6,479.7 497.4,481.3 498.9,483.2 C500.3,485.0 498.1,487.9 497.7,490.0Z" fill="#9ab43e"/><ellipse cx="464.3" cy="492.8" rx="1.0" ry="2.7" fill="#ffffff" fill-opacity="0.80"/><ellipse cx="476.6" cy="498.5" rx="0.5" ry="3.1" fill="#ffffff" fill-opacity="0.80"/><ellipse cx="463.4" cy="495.1" rx="1.1" ry="3.1" fill="#ffffff" fill-opacity="0.80"/><ellipse cx="461.0" cy="491.3" rx="0.8" ry="3.7" fill="#ffffff" fill-opacity="0.80"/><ellipse cx="477.5" cy="492.5" rx="1.0" ry="3.1" fill="#ffffff" fill-opacity="0.80"/><ellipse cx="473.4" cy="498.1" rx="0.6" ry="3.6" fill="#ffffff" fill-opacity="0.80"/><ellipse cx="472.7" cy="494.7" rx="0.6" ry="4.5" fill="#ffffff" fill-opacity="0.80"/><ellipse cx="471.2" cy="482.0" rx="0.7" ry="2.7" fill="#ffffff" fill-opacity="0.80"/><ellipse cx="457.5" cy="488.5" rx="0.8" ry="3.6" fill="#ffffff" fill-opacity="0.80"/><ellipse cx="471.1" cy="485.8" rx="0.6" ry="3.7" fill="#ffffff" fill-opacity="0.80"/><ellipse cx="494.6" cy="490.5" rx="0.6" ry="3.9" fill="#ffffff" fill-opacity="0.80"/><path d="M535.2,490.0 C535.0,492.0 533.7,494.1 532.2,495.8 C530.6,497.4 528.2,498.5 525.8,499.8 C523.3,501.0 520.5,502.9 517.5,503.2 C514.5,503.5 510.4,502.6 507.7,501.5 C505.0,500.4 502.6,498.3 501.2,496.4 C499.8,494.5 499.4,492.1 499.4,490.0 C499.5,487.9 499.9,485.4 501.5,483.7 C503.1,482.1 506.3,481.2 509.0,480.0 C511.7,478.8 514.6,476.3 517.5,476.3 C520.4,476.2 523.6,478.4 526.3,479.7 C529.0,480.9 532.3,481.9 533.8,483.6 C535.3,485.3 535.5,488.0 535.2,490.0Z" fill="#1f78c1"/><ellipse cx="527.4" cy="495.7" rx="0.8" ry="2.4" fill="#ffffff" fill-opacity="0.80"/><ellipse cx="519.0" cy="483.3" rx="1.0" ry="2.6" fill="#ffffff" fill-opacity="0.80"/><ellipse cx="528.4" cy="485.8" rx="0.7" ry="2.3" fill="#ffffff" fill-opacity="0.80"/><ellipse cx="515.2" cy="484.3" rx="0.5" ry="3.7" fill="#ffffff" fill-opacity="0.80"/><ellipse cx="510.7" cy="485.4" rx="0.7" ry="2.9" fill="#ffffff" fill-opacity="0.80"/><ellipse cx="515.3" cy="492.5" rx="0.9" ry="2.6" fill="#ffffff" fill-opacity="0.80"/><ellipse cx="530.8" cy="496.4" rx="0.5" ry="4.0" fill="#ffffff" fill-opacity="0.80"/><ellipse cx="530.1" cy="495.1" rx="0.6" ry="4.0" fill="#ffffff" fill-opacity="0.80"/><ellipse cx="521.6" cy="481.3" rx="0.5" ry="4.4" fill="#ffffff" fill-opacity="0.80"/><path d="M500.9,516.5 C500.3,519.0 497.8,521.6 495.4,523.5 C493.0,525.5 489.9,527.1 486.6,528.2 C483.2,529.3 479.2,530.1 475.5,530.2 C471.8,530.2 467.8,529.6 464.1,528.6 C460.3,527.7 454.9,526.5 452.9,524.5 C450.9,522.4 451.4,519.0 452.0,516.5 C452.5,514.0 454.4,512.0 456.1,509.7 C457.8,507.3 458.9,503.8 462.1,502.3 C465.3,500.8 471.4,500.1 475.5,500.5 C479.6,500.9 482.9,503.3 486.7,504.6 C490.6,505.9 496.3,506.3 498.7,508.3 C501.0,510.3 501.4,514.0 500.9,516.5Z" fill="#1f78c1"/><ellipse cx="480.2" cy="523.0" rx="0.9" ry="4.2" fill="#ffffff" fill-opacity="0.80"/><ellipse cx="487.9" cy="524.3" rx="0.6" ry="3.6" fill="#ffffff" fill-opacity="0.80"/><ellipse cx="476.8" cy="522.1" rx="0.8" ry="4.1" fill="#ffffff" fill-opacity="0.80"/><ellipse cx="477.9" cy="511.1" rx="0.6" ry="1.9" fill="#ffffff" fill-opacity="0.80"/><ellipse cx="475.2" cy="506.3" rx="0.8" ry="1.9" fill="#ffffff" fill-opacity="0.80"/><ellipse cx="475.1" cy="516.5" rx="0.8" ry="4.1" fill="#ffffff" fill-opacity="0.80"/><ellipse cx="454.3" cy="524.3" rx="0.8" ry="3.2" fill="#ffffff" fill-opacity="0.80"/><ellipse cx="482.6" cy="524.3" rx="0.7" ry="2.8" fill="#ffffff" fill-opacity="0.80"/><ellipse cx="495.3" cy="506.7" rx="0.9" ry="3.4" fill="#ffffff" fill-opacity="0.80"/><ellipse cx="455.2" cy="519.0" rx="0.9" ry="4.3" fill="#ffffff" fill-opacity="0.80"/><ellipse cx="468.2" cy="527.6" rx="0.8" ry="3.0" fill="#ffffff" fill-opacity="0.80"/><ellipse cx="492.6" cy="505.8" rx="0.9" ry="3.4" fill="#ffffff" fill-opacity="0.80"/><ellipse cx="468.6" cy="524.8" rx="0.7" ry="2.9" fill="#ffffff" fill-opacity="0.80"/><ellipse cx="476.6" cy="522.7" rx="0.6" ry="2.8" fill="#ffffff" fill-opacity="0.80"/><ellipse cx="472.2" cy="517.7" rx="1.0" ry="2.4" fill="#ffffff" fill-opacity="0.80"/><path d="M537.1,516.5 C537.0,519.0 534.7,521.6 532.9,523.8 C531.1,526.0 529.2,528.3 526.6,529.4 C524.0,530.6 520.5,530.6 517.5,530.6 C514.5,530.6 511.3,530.4 508.4,529.5 C505.5,528.5 501.6,527.0 499.9,524.8 C498.3,522.7 498.5,519.2 498.6,516.5 C498.7,513.8 498.9,510.6 500.6,508.5 C502.3,506.4 506.0,505.1 508.8,504.1 C511.6,503.0 514.6,502.2 517.5,502.2 C520.4,502.2 523.5,503.1 526.2,504.2 C528.8,505.3 531.8,506.8 533.6,508.9 C535.4,510.9 537.2,514.0 537.1,516.5Z" fill="#9ab43e"/><ellipse cx="521.7" cy="523.0" rx="0.5" ry="3.7" fill="#ffffff" fill-opacity="0.80"/><ellipse cx="529.5" cy="517.5" rx="0.5" ry="2.4" fill="#ffffff" fill-opacity="0.80"/><ellipse cx="502.2" cy="509.4" rx="1.1" ry="3.3" fill="#ffffff" fill-opacity="0.80"/><ellipse cx="522.4" cy="523.1" rx="1.0" ry="3.3" fill="#ffffff" fill-opacity="0.80"/><ellipse cx="521.1" cy="519.4" rx="0.9" ry="3.3" fill="#ffffff" fill-opacity="0.80"/><ellipse cx="523.1" cy="509.9" rx="0.9" ry="2.9" fill="#ffffff" fill-opacity="0.80"/><ellipse cx="525.6" cy="507.3" rx="0.6" ry="1.6" fill="#ffffff" fill-opacity="0.80"/><ellipse cx="526.0" cy="526.0" rx="0.9" ry="2.6" fill="#ffffff" fill-opacity="0.80"/><ellipse cx="527.5" cy="523.1" rx="0.8" ry="2.3" fill="#ffffff" fill-opacity="0.80"/><ellipse cx="511.4" cy="514.7" rx="0.7" ry="2.8" fill="#ffffff" fill-opacity="0.80"/><ellipse cx="521.9" cy="526.5" rx="0.5" ry="3.2" fill="#ffffff" fill-opacity="0.80"/><path d="M497.4,548.0 C497.1,550.8 496.3,553.2 495.0,556.0 C493.7,558.7 492.3,562.6 489.3,564.3 C486.3,565.9 481.1,565.8 477.0,565.8 C472.9,565.9 467.7,566.2 464.4,564.7 C461.2,563.2 458.7,559.4 457.4,556.6 C456.2,553.9 456.7,550.9 456.8,548.0 C456.8,545.1 456.3,542.1 457.7,539.5 C459.1,536.9 462.1,534.3 465.3,532.5 C468.5,530.7 472.9,528.9 477.0,528.7 C481.1,528.4 486.5,529.3 489.8,531.1 C493.0,532.9 495.4,536.5 496.7,539.3 C498.0,542.1 497.6,545.2 497.4,548.0Z" fill="#9ab43e"/><ellipse cx="473.5" cy="536.9" rx="0.9" ry="2.1" fill="#ffffff" fill-opacity="0.80"/><ellipse cx="463.1" cy="534.4" rx="0.5" ry="3.6" fill="#ffffff" fill-opacity="0.80"/><ellipse cx="461.9" cy="561.1" rx="0.6" ry="4.1" fill="#ffffff" fill-opacity="0.80"/><ellipse cx="462.2" cy="534.5" rx="0.9" ry="2.2" fill="#ffffff" fill-opacity="0.80"/><ellipse cx="486.3" cy="539.2" rx="0.5" ry="3.8" fill="#ffffff" fill-opacity="0.80"/><ellipse cx="485.5" cy="558.0" rx="0.9" ry="1.8" fill="#ffffff" fill-opacity="0.80"/><ellipse cx="482.1" cy="553.9" rx="0.8" ry="4.3" fill="#ffffff" fill-opacity="0.80"/><ellipse cx="467.2" cy="561.0" rx="0.9" ry="1.5" fill="#ffffff" fill-opacity="0.80"/><ellipse cx="457.6" cy="552.2" rx="1.0" ry="1.7" fill="#ffffff" fill-opacity="0.80"/><ellipse cx="469.4" cy="554.4" rx="0.6" ry="4.1" fill="#ffffff" fill-opacity="0.80"/><ellipse cx="476.5" cy="535.7" rx="0.7" ry="3.2" fill="#ffffff" fill-opacity="0.80"/><ellipse cx="474.5" cy="553.0" rx="0.6" ry="3.9" fill="#ffffff" fill-opacity="0.80"/><ellipse cx="471.5" cy="552.1" rx="0.9" ry="2.8" fill="#ffffff" fill-opacity="0.80"/><ellipse cx="472.4" cy="556.0" rx="1.1" ry="3.9" fill="#ffffff" fill-opacity="0.80"/><ellipse cx="479.7" cy="542.2" rx="0.5" ry="4.4" fill="#ffffff" fill-opacity="0.80"/><ellipse cx="485.1" cy="557.2" rx="0.7" ry="3.3" fill="#ffffff" fill-opacity="0.80"/><path d="M537.8,548.0 C538.1,551.0 536.3,554.9 534.5,557.5 C532.7,560.0 529.7,562.3 526.8,563.5 C524.0,564.7 520.5,564.8 517.5,564.7 C514.5,564.6 511.4,564.1 508.6,562.9 C505.7,561.7 501.7,560.1 500.3,557.6 C498.8,555.1 499.7,551.1 499.8,548.0 C500.0,544.9 499.6,541.4 501.0,538.9 C502.4,536.3 505.4,534.1 508.2,532.5 C510.9,530.8 514.3,529.0 517.5,528.8 C520.7,528.7 524.8,529.9 527.3,531.7 C529.8,533.5 530.7,537.0 532.4,539.7 C534.2,542.4 537.4,545.0 537.8,548.0Z" fill="#9ab43e"/><ellipse cx="502.1" cy="541.4" rx="0.8" ry="3.3" fill="#ffffff" fill-opacity="0.80"/><ellipse cx="527.3" cy="558.8" rx="0.5" ry="4.0" fill="#ffffff" fill-opacity="0.80"/><ellipse cx="527.2" cy="558.3" rx="0.8" ry="2.3" fill="#ffffff" fill-opacity="0.80"/><ellipse cx="528.4" cy="556.6" rx="0.9" ry="4.2" fill="#ffffff" fill-opacity="0.80"/><ellipse cx="512.8" cy="536.4" rx="0.8" ry="3.9" fill="#ffffff" fill-opacity="0.80"/><ellipse cx="508.2" cy="555.0" rx="1.1" ry="2.2" fill="#ffffff" fill-opacity="0.80"/><ellipse cx="520.8" cy="553.0" rx="0.8" ry="2.1" fill="#ffffff" fill-opacity="0.80"/><ellipse cx="509.9" cy="555.0" rx="1.0" ry="2.9" fill="#ffffff" fill-opacity="0.80"/><ellipse cx="504.7" cy="556.6" rx="1.0" ry="2.2" fill="#ffffff" fill-opacity="0.80"/><ellipse cx="520.0" cy="559.1" rx="1.0" ry="3.1" fill="#ffffff" fill-opacity="0.80"/><ellipse cx="516.8" cy="550.5" rx="0.6" ry="2.1" fill="#ffffff" fill-opacity="0.80"/><ellipse cx="507.6" cy="553.6" rx="0.7" ry="3.2" fill="#ffffff" fill-opacity="0.80"/><ellipse cx="514.5" cy="548.5" rx="0.6" ry="1.6" fill="#ffffff" fill-opacity="0.80"/><path d="M502.4,577.5 C501.9,579.7 498.8,582.1 496.4,583.7 C494.0,585.4 491.1,586.4 488.2,587.6 C485.2,588.8 482.0,590.5 478.5,590.8 C475.0,591.1 469.9,590.6 467.1,589.4 C464.3,588.2 463.3,585.4 461.6,583.4 C459.8,581.4 456.8,579.5 456.7,577.5 C456.5,575.5 458.9,573.2 460.7,571.3 C462.6,569.4 464.8,567.2 467.8,566.3 C470.8,565.4 475.1,565.9 478.5,566.1 C481.9,566.3 484.5,566.9 488.0,567.6 C491.4,568.3 496.7,568.7 499.1,570.3 C501.5,572.0 502.8,575.3 502.4,577.5Z" fill="#9ab43e"/><ellipse cx="492.0" cy="577.2" rx="0.8" ry="2.3" fill="#ffffff" fill-opacity="0.80"/><ellipse cx="488.8" cy="576.1" rx="1.1" ry="3.8" fill="#ffffff" fill-opacity="0.80"/><ellipse cx="490.3" cy="586.3" rx="0.7" ry="1.6" fill="#ffffff" fill-opacity="0.80"/><ellipse cx="467.4" cy="571.4" rx="0.6" ry="1.7" fill="#ffffff" fill-opacity="0.80"/><ellipse cx="480.6" cy="584.5" rx="0.8" ry="4.3" fill="#ffffff" fill-opacity="0.80"/><ellipse cx="493.7" cy="569.2" rx="0.9" ry="2.7" fill="#ffffff" fill-opacity="0.80"/><ellipse cx="464.4" cy="586.2" rx="0.7" ry="3.2" fill="#ffffff" fill-opacity="0.80"/><ellipse cx="483.7" cy="586.2" rx="0.9" ry="2.7" fill="#ffffff" fill-opacity="0.80"/><ellipse cx="476.6" cy="571.0" rx="1.1" ry="4.5" fill="#ffffff" fill-opacity="0.80"/><ellipse cx="468.2" cy="568.7" rx="0.7" ry="2.6" fill="#ffffff" fill-opacity="0.80"/><ellipse cx="493.4" cy="585.2" rx="1.0" ry="1.6" fill="#ffffff" fill-opacity="0.80"/><path d="M537.0,577.5 C536.9,579.8 535.7,582.3 534.1,584.3 C532.4,586.2 529.7,587.8 526.9,589.0 C524.2,590.3 520.4,592.1 517.5,591.9 C514.6,591.6 511.8,588.9 509.4,587.5 C507.0,586.0 504.9,585.0 503.1,583.4 C501.2,581.7 498.7,579.7 498.2,577.5 C497.7,575.3 498.4,572.3 500.1,570.4 C501.7,568.4 505.1,566.7 508.0,565.9 C510.9,565.0 514.4,565.2 517.5,565.2 C520.6,565.3 524.0,565.2 526.8,566.1 C529.6,567.0 532.5,568.8 534.2,570.7 C535.9,572.6 537.0,575.2 537.0,577.5Z" fill="#1f78c1"/><ellipse cx="505.3" cy="574.2" rx="0.7" ry="1.9" fill="#ffffff" fill-opacity="0.80"/><ellipse cx="516.9" cy="571.2" rx="0.6" ry="1.9" fill="#ffffff" fill-opacity="0.80"/><ellipse cx="523.0" cy="568.2" rx="0.9" ry="2.1" fill="#ffffff" fill-opacity="0.80"/><ellipse cx="503.1" cy="585.6" rx="0.6" ry="4.3" fill="#ffffff" fill-opacity="0.80"/><ellipse cx="528.9" cy="584.9" rx="0.6" ry="2.8" fill="#ffffff" fill-opacity="0.80"/><ellipse cx="505.0" cy="585.6" rx="1.0" ry="3.4" fill="#ffffff" fill-opacity="0.80"/><ellipse cx="516.0" cy="574.5" rx="1.0" ry="2.9" fill="#ffffff" fill-opacity="0.80"/><ellipse cx="521.5" cy="570.7" rx="0.6" ry="1.7" fill="#ffffff" fill-opacity="0.80"/><ellipse cx="524.1" cy="578.5" rx="0.6" ry="4.1" fill="#ffffff" fill-opacity="0.80"/><path d="M498.5,615.5 C498.0,619.4 498.1,623.4 496.0,626.3 C493.8,629.3 489.4,631.4 485.7,633.1 C481.9,634.8 477.9,635.9 473.5,636.4 C469.1,637.0 462.8,638.0 459.2,636.2 C455.5,634.5 453.1,629.6 451.4,626.1 C449.8,622.7 449.2,619.1 449.1,615.5 C449.0,611.9 448.6,607.5 450.6,604.5 C452.5,601.4 457.0,599.4 460.8,597.2 C464.6,595.0 469.4,591.1 473.5,591.2 C477.6,591.4 481.3,596.1 485.5,598.1 C489.8,600.1 496.9,600.3 499.1,603.2 C501.3,606.1 499.1,611.6 498.5,615.5Z" fill="#1f78c1"/><ellipse cx="452.7" cy="630.1" rx="0.9" ry="2.1" fill="#ffffff" fill-opacity="0.80"/><ellipse cx="472.4" cy="607.6" rx="0.7" ry="2.1" fill="#ffffff" fill-opacity="0.80"/><ellipse cx="467.1" cy="633.7" rx="1.1" ry="4.3" fill="#ffffff" fill-opacity="0.80"/><ellipse cx="454.6" cy="607.7" rx="1.0" ry="1.7" fill="#ffffff" fill-opacity="0.80"/><ellipse cx="484.1" cy="607.9" rx="1.1" ry="1.5" fill="#ffffff" fill-opacity="0.80"/><ellipse cx="487.9" cy="609.6" rx="0.6" ry="1.5" fill="#ffffff" fill-opacity="0.80"/><ellipse cx="489.1" cy="616.5" rx="0.6" ry="2.8" fill="#ffffff" fill-opacity="0.80"/><ellipse cx="492.9" cy="605.1" rx="0.8" ry="1.9" fill="#ffffff" fill-opacity="0.80"/><ellipse cx="458.5" cy="625.5" rx="0.9" ry="2.1" fill="#ffffff" fill-opacity="0.80"/><ellipse cx="453.7" cy="600.2" rx="0.9" ry="3.0" fill="#ffffff" fill-opacity="0.80"/><ellipse cx="462.9" cy="604.6" rx="0.9" ry="3.6" fill="#ffffff" fill-opacity="0.80"/><ellipse cx="488.1" cy="618.6" rx="0.6" ry="1.7" fill="#ffffff" fill-opacity="0.80"/><ellipse cx="484.4" cy="612.1" rx="0.9" ry="1.7" fill="#ffffff" fill-opacity="0.80"/><ellipse cx="488.1" cy="609.4" rx="1.0" ry="4.1" fill="#ffffff" fill-opacity="0.80"/><ellipse cx="473.2" cy="597.6" rx="1.0" ry="2.9" fill="#ffffff" fill-opacity="0.80"/><ellipse cx="491.0" cy="606.9" rx="0.6" ry="4.0" fill="#ffffff" fill-opacity="0.80"/><ellipse cx="467.3" cy="603.0" rx="0.7" ry="3.3" fill="#ffffff" fill-opacity="0.80"/><ellipse cx="450.2" cy="616.2" rx="0.8" ry="3.0" fill="#ffffff" fill-opacity="0.80"/><ellipse cx="455.7" cy="623.4" rx="1.0" ry="4.1" fill="#ffffff" fill-opacity="0.80"/><ellipse cx="465.1" cy="623.3" rx="0.7" ry="3.8" fill="#ffffff" fill-opacity="0.80"/><ellipse cx="452.9" cy="629.3" rx="1.1" ry="3.0" fill="#ffffff" fill-opacity="0.80"/><ellipse cx="474.1" cy="616.6" rx="0.8" ry="1.6" fill="#ffffff" fill-opacity="0.80"/><ellipse cx="495.5" cy="605.3" rx="0.6" ry="1.8" fill="#ffffff" fill-opacity="0.80"/><ellipse cx="461.8" cy="627.2" rx="0.5" ry="1.8" fill="#ffffff" fill-opacity="0.80"/><path d="M536.6,615.5 C536.6,618.9 533.9,622.9 532.1,625.8 C530.3,628.6 528.0,630.4 525.5,632.5 C523.1,634.5 520.4,637.7 517.5,638.2 C514.6,638.6 510.9,637.0 508.2,635.0 C505.6,633.1 503.3,629.9 501.7,626.6 C500.0,623.4 498.2,619.0 498.4,615.5 C498.7,612.0 501.7,609.0 503.2,605.5 C504.8,602.0 505.2,596.8 507.6,594.6 C510.0,592.4 514.5,591.6 517.5,592.2 C520.5,592.8 523.2,596.2 525.6,598.4 C528.0,600.6 530.0,602.6 531.8,605.4 C533.7,608.3 536.5,612.1 536.6,615.5Z" fill="#9ab43e"/><ellipse cx="517.3" cy="615.5" rx="0.7" ry="1.9" fill="#ffffff" fill-opacity="0.80"/><ellipse cx="514.6" cy="602.1" rx="0.9" ry="4.1" fill="#ffffff" fill-opacity="0.80"/><ellipse cx="506.6" cy="618.2" rx="0.9" ry="2.0" fill="#ffffff" fill-opacity="0.80"/><ellipse cx="527.6" cy="631.7" rx="0.7" ry="2.8" fill="#ffffff" fill-opacity="0.80"/><ellipse cx="528.0" cy="616.4" rx="0.7" ry="4.3" fill="#ffffff" fill-opacity="0.80"/><ellipse cx="526.1" cy="609.5" rx="0.6" ry="2.5" fill="#ffffff" fill-opacity="0.80"/><ellipse cx="515.5" cy="633.3" rx="1.0" ry="4.2" fill="#ffffff" fill-opacity="0.80"/><ellipse cx="527.3" cy="628.4" rx="0.5" ry="3.1" fill="#ffffff" fill-opacity="0.80"/><ellipse cx="531.7" cy="631.6" rx="0.6" ry="2.8" fill="#ffffff" fill-opacity="0.80"/><ellipse cx="521.6" cy="610.5" rx="0.8" ry="1.7" fill="#ffffff" fill-opacity="0.80"/><ellipse cx="515.4" cy="615.7" rx="0.5" ry="1.9" fill="#ffffff" fill-opacity="0.80"/><ellipse cx="532.1" cy="625.7" rx="1.1" ry="3.4" fill="#ffffff" fill-opacity="0.80"/><ellipse cx="527.1" cy="629.7" rx="1.0" ry="1.6" fill="#ffffff" fill-opacity="0.80"/><ellipse cx="521.9" cy="606.8" rx="0.9" ry="2.3" fill="#ffffff" fill-opacity="0.80"/><ellipse cx="518.8" cy="631.2" rx="0.9" ry="2.3" fill="#ffffff" fill-opacity="0.80"/><ellipse cx="518.1" cy="613.0" rx="1.1" ry="2.4" fill="#ffffff" fill-opacity="0.80"/><path d="M461.9,275.0 C462.1,279.2 462.2,285.0 461.4,288.3 C460.7,291.7 458.8,293.1 457.5,295.3 C456.2,297.4 455.0,300.6 453.5,301.3 C452.0,302.1 449.9,302.0 448.6,299.7 C447.3,297.5 446.4,292.0 445.8,287.9 C445.2,283.8 445.1,279.3 445.2,275.0 C445.2,270.7 445.3,266.0 445.9,262.2 C446.6,258.5 447.8,254.3 449.0,252.5 C450.3,250.7 452.1,251.1 453.5,251.4 C454.9,251.8 456.4,252.7 457.5,254.7 C458.7,256.7 459.7,259.9 460.5,263.3 C461.2,266.6 461.8,270.8 461.9,275.0Z" fill="#1f78c1"/><ellipse cx="450.8" cy="270.9" rx="0.7" ry="2.2" fill="#ffffff" fill-opacity="0.80"/><ellipse cx="448.1" cy="277.0" rx="1.0" ry="3.3" fill="#ffffff" fill-opacity="0.80"/><ellipse cx="454.4" cy="281.6" rx="0.6" ry="3.6" fill="#ffffff" fill-opacity="0.80"/><ellipse cx="453.0" cy="277.1" rx="0.9" ry="2.9" fill="#ffffff" fill-opacity="0.80"/><ellipse cx="451.0" cy="263.7" rx="0.6" ry="3.0" fill="#ffffff" fill-opacity="0.80"/><ellipse cx="452.0" cy="278.8" rx="0.5" ry="2.6" fill="#ffffff" fill-opacity="0.80"/><ellipse cx="458.2" cy="263.5" rx="0.8" ry="3.0" fill="#ffffff" fill-opacity="0.80"/><ellipse cx="450.7" cy="296.5" rx="0.7" ry="3.8" fill="#ffffff" fill-opacity="0.80"/><ellipse cx="449.1" cy="255.9" rx="1.0" ry="2.8" fill="#ffffff" fill-opacity="0.80"/><path d="M459.0,230.0 C458.8,232.6 459.2,235.3 458.1,237.5 C457.1,239.7 454.9,241.7 452.7,243.2 C450.5,244.7 447.5,246.5 445.0,246.3 C442.5,246.1 440.0,243.6 437.9,242.1 C435.8,240.6 434.1,239.2 432.4,237.2 C430.7,235.2 428.0,232.6 427.7,230.0 C427.4,227.4 429.0,223.9 430.7,221.8 C432.4,219.8 435.5,218.8 437.8,217.7 C440.2,216.6 442.6,215.3 445.0,215.2 C447.4,215.0 450.2,216.0 452.5,217.1 C454.9,218.2 458.0,219.8 459.1,221.9 C460.2,224.1 459.1,227.4 459.0,230.0Z" fill="#9ab43e"/><ellipse cx="448.0" cy="238.4" rx="1.0" ry="3.1" fill="#ffffff" fill-opacity="0.80"/><ellipse cx="451.2" cy="235.8" rx="1.0" ry="2.9" fill="#ffffff" fill-opacity="0.80"/><ellipse cx="452.4" cy="235.0" rx="1.0" ry="1.9" fill="#ffffff" fill-opacity="0.80"/><ellipse cx="454.6" cy="218.1" rx="1.0" ry="3.3" fill="#ffffff" fill-opacity="0.80"/><ellipse cx="444.9" cy="241.1" rx="0.8" ry="2.8" fill="#ffffff" fill-opacity="0.80"/><ellipse cx="452.4" cy="238.9" rx="0.9" ry="2.6" fill="#ffffff" fill-opacity="0.80"/><ellipse cx="443.8" cy="229.0" rx="0.9" ry="2.4" fill="#ffffff" fill-opacity="0.80"/><ellipse cx="442.2" cy="231.3" rx="0.7" ry="2.5" fill="#ffffff" fill-opacity="0.80"/><ellipse cx="452.5" cy="238.4" rx="0.8" ry="2.8" fill="#ffffff" fill-opacity="0.80"/><ellipse cx="436.8" cy="225.3" rx="0.6" ry="3.2" fill="#ffffff" fill-opacity="0.80"/><path d="M544.2,263.5 C544.4,266.9 544.3,272.6 543.6,275.4 C542.9,278.2 541.2,280.2 540.0,280.3 C538.8,280.4 536.9,278.7 536.2,275.9 C535.6,273.1 535.9,267.3 536.0,263.5 C536.1,259.8 536.3,256.3 536.9,253.4 C537.6,250.5 539.1,246.1 540.0,246.4 C540.9,246.6 541.9,252.3 542.6,255.1 C543.3,258.0 544.0,260.2 544.2,263.5Z" fill="#9ab43e"/><path d="M555.3,266.4 C555.3,269.4 554.4,274.0 553.5,276.1 C552.7,278.2 551.2,278.8 550.0,279.0 C548.8,279.1 546.9,279.0 546.2,276.9 C545.4,274.8 545.4,269.6 545.5,266.4 C545.6,263.2 546.0,259.8 546.8,257.6 C547.6,255.4 549.0,253.0 550.0,253.1 C551.0,253.2 552.2,255.8 553.0,258.0 C553.9,260.2 555.2,263.4 555.3,266.4Z" fill="#9ab43e"/><path d="M565.3,266.6 C565.3,269.4 564.3,273.4 563.4,275.3 C562.5,277.3 561.0,278.6 560.0,278.3 C559.0,277.9 558.0,275.4 557.3,273.4 C556.6,271.5 555.8,269.0 555.7,266.6 C555.7,264.1 556.2,260.7 556.9,258.7 C557.7,256.7 558.9,254.8 560.0,254.7 C561.1,254.6 562.4,256.2 563.3,258.1 C564.2,260.1 565.3,263.7 565.3,266.6Z" fill="#9ab43e"/><path d="M586.7,366.5 C586.4,369.1 583.1,371.8 580.5,373.9 C578.0,376.1 574.9,377.9 571.3,379.2 C567.7,380.6 563.4,381.6 559.0,381.9 C554.6,382.2 548.5,382.3 545.0,381.0 C541.6,379.6 540.1,376.1 538.2,373.7 C536.3,371.3 534.3,369.0 533.9,366.5 C533.5,364.0 533.5,360.5 535.7,358.5 C538.0,356.5 543.6,355.6 547.5,354.6 C551.4,353.5 554.8,352.6 559.0,352.2 C563.2,351.8 569.0,351.0 572.9,352.1 C576.8,353.1 580.0,356.0 582.3,358.4 C584.6,360.9 587.0,363.9 586.7,366.5Z" fill="#1f78c1"/><ellipse cx="559.6" cy="357.5" rx="1.0" ry="3.6" fill="#ffffff" fill-opacity="0.80"/><ellipse cx="573.1" cy="377.8" rx="1.0" ry="2.8" fill="#ffffff" fill-opacity="0.80"/><ellipse cx="543.9" cy="361.7" rx="0.8" ry="3.0" fill="#ffffff" fill-opacity="0.80"/><ellipse cx="545.3" cy="359.2" rx="0.9" ry="3.3" fill="#ffffff" fill-opacity="0.80"/><ellipse cx="552.5" cy="377.9" rx="0.9" ry="1.6" fill="#ffffff" fill-opacity="0.80"/><ellipse cx="555.1" cy="373.1" rx="0.7" ry="3.6" fill="#ffffff" fill-opacity="0.80"/><ellipse cx="537.2" cy="362.0" rx="1.0" ry="3.3" fill="#ffffff" fill-opacity="0.80"/><ellipse cx="566.4" cy="359.5" rx="0.8" ry="3.2" fill="#ffffff" fill-opacity="0.80"/><ellipse cx="548.7" cy="369.9" rx="0.8" ry="4.5" fill="#ffffff" fill-opacity="0.80"/><ellipse cx="562.3" cy="364.5" rx="0.6" ry="2.0" fill="#ffffff" fill-opacity="0.80"/><ellipse cx="570.4" cy="357.5" rx="0.6" ry="2.0" fill="#ffffff" fill-opacity="0.80"/><ellipse cx="560.0" cy="373.9" rx="0.9" ry="3.9" fill="#ffffff" fill-opacity="0.80"/><ellipse cx="539.7" cy="355.3" rx="1.0" ry="2.5" fill="#ffffff" fill-opacity="0.80"/><ellipse cx="568.5" cy="363.1" rx="0.6" ry="2.3" fill="#ffffff" fill-opacity="0.80"/><ellipse cx="541.4" cy="375.8" rx="0.8" ry="2.5" fill="#ffffff" fill-opacity="0.80"/><path d="M569.5,410.5 C569.2,415.7 568.5,421.4 566.9,425.3 C565.3,429.2 562.4,430.9 559.9,434.0 C557.4,437.1 554.8,443.2 552.0,443.7 C549.2,444.3 545.8,440.1 543.0,437.3 C540.2,434.6 536.4,431.8 535.0,427.4 C533.6,422.9 534.4,415.9 534.6,410.5 C534.8,405.1 534.7,399.0 536.2,394.9 C537.8,390.7 541.1,387.7 543.7,385.8 C546.3,383.9 549.0,384.2 552.0,383.4 C555.0,382.7 559.0,379.7 561.8,381.5 C564.5,383.2 567.3,389.2 568.6,394.0 C569.9,398.9 569.8,405.3 569.5,410.5Z" fill="#9ab43e"/><ellipse cx="546.4" cy="431.6" rx="1.0" ry="2.4" fill="#ffffff" fill-opacity="0.80"/><ellipse cx="555.1" cy="434.9" rx="0.8" ry="4.3" fill="#ffffff" fill-opacity="0.80"/><ellipse cx="544.3" cy="404.7" rx="0.9" ry="2.2" fill="#ffffff" fill-opacity="0.80"/><ellipse cx="546.3" cy="430.4" rx="0.8" ry="3.9" fill="#ffffff" fill-opacity="0.80"/><ellipse cx="544.3" cy="393.2" rx="0.7" ry="2.1" fill="#ffffff" fill-opacity="0.80"/><ellipse cx="566.1" cy="399.4" rx="0.8" ry="1.8" fill="#ffffff" fill-opacity="0.80"/><ellipse cx="553.0" cy="404.4" rx="0.7" ry="1.7" fill="#ffffff" fill-opacity="0.80"/><ellipse cx="540.7" cy="427.8" rx="0.7" ry="2.2" fill="#ffffff" fill-opacity="0.80"/><ellipse cx="542.7" cy="399.0" rx="0.6" ry="1.6" fill="#ffffff" fill-opacity="0.80"/><ellipse cx="556.9" cy="402.1" rx="0.6" ry="3.6" fill="#ffffff" fill-opacity="0.80"/><ellipse cx="539.8" cy="398.3" rx="1.0" ry="1.9" fill="#ffffff" fill-opacity="0.80"/><ellipse cx="550.3" cy="428.3" rx="1.0" ry="2.0" fill="#ffffff" fill-opacity="0.80"/><ellipse cx="547.6" cy="422.3" rx="0.7" ry="4.4" fill="#ffffff" fill-opacity="0.80"/><ellipse cx="543.2" cy="434.4" rx="0.8" ry="2.2" fill="#ffffff" fill-opacity="0.80"/><ellipse cx="550.6" cy="390.9" rx="0.9" ry="2.3" fill="#ffffff" fill-opacity="0.80"/><ellipse cx="564.0" cy="415.1" rx="0.7" ry="2.2" fill="#ffffff" fill-opacity="0.80"/><ellipse cx="555.2" cy="395.3" rx="1.0" ry="1.9" fill="#ffffff" fill-opacity="0.80"/><ellipse cx="552.4" cy="412.8" rx="0.7" ry="3.8" fill="#ffffff" fill-opacity="0.80"/><ellipse cx="548.5" cy="418.8" rx="0.8" ry="2.4" fill="#ffffff" fill-opacity="0.80"/><ellipse cx="548.7" cy="388.6" rx="0.6" ry="4.1" fill="#ffffff" fill-opacity="0.80"/><ellipse cx="546.6" cy="419.1" rx="0.6" ry="3.2" fill="#ffffff" fill-opacity="0.80"/><ellipse cx="547.8" cy="410.5" rx="0.7" ry="1.7" fill="#ffffff" fill-opacity="0.80"/><path d="M461.8,423.4 C461.9,429.4 460.2,437.4 459.1,442.1 C457.9,446.7 456.5,450.4 455.0,451.2 C453.5,452.1 451.0,451.9 449.8,447.2 C448.7,442.6 448.0,431.3 448.0,423.4 C448.0,415.4 448.7,405.3 449.9,399.7 C451.0,394.2 453.5,389.2 455.0,390.2 C456.5,391.2 457.7,400.3 458.8,405.9 C459.9,411.4 461.8,417.3 461.8,423.4Z" fill="#1f78c1"/><path d="M547.2,307.2 C547.2,309.0 546.0,311.4 545.0,312.7 C544.0,314.1 542.6,315.1 541.2,315.3 C539.9,315.4 538.0,314.8 537.0,313.5 C536.0,312.1 535.1,309.1 535.2,307.2 C535.3,305.2 536.7,303.4 537.7,301.8 C538.7,300.3 540.0,297.7 541.2,297.6 C542.5,297.6 544.0,300.0 545.0,301.6 C546.0,303.2 547.2,305.3 547.2,307.2Z" fill="#1f78c1"/><path d="M560.3,308.1 C560.4,309.6 559.2,311.9 558.1,313.0 C557.0,314.2 555.0,315.2 553.8,315.0 C552.5,314.8 551.3,312.9 550.5,311.8 C549.7,310.6 549.2,309.4 549.2,308.1 C549.1,306.8 549.5,305.1 550.3,304.2 C551.1,303.2 552.6,302.5 553.8,302.5 C554.9,302.4 556.3,303.0 557.4,303.9 C558.5,304.9 560.2,306.6 560.3,308.1Z" fill="#1f78c1"/><path d="M547.2,452.2 C547.1,454.7 545.7,456.8 544.7,458.8 C543.7,460.8 542.5,464.1 541.2,464.3 C540.0,464.5 538.2,462.0 537.2,460.0 C536.1,458.0 535.1,454.7 535.1,452.2 C535.2,449.8 536.6,447.2 537.7,445.5 C538.7,443.7 539.9,442.1 541.2,441.9 C542.6,441.7 544.5,442.4 545.5,444.2 C546.5,445.9 547.3,449.8 547.2,452.2Z" fill="#9ab43e"/><path d="M560.0,452.0 C560.0,454.8 558.4,458.8 557.4,460.7 C556.3,462.5 555.1,462.6 553.8,462.9 C552.4,463.3 550.2,464.6 549.2,462.8 C548.2,461.0 547.7,455.1 547.9,452.0 C548.1,448.9 549.5,446.3 550.5,444.3 C551.5,442.3 552.6,440.0 553.8,440.0 C554.9,440.0 556.1,442.0 557.1,444.0 C558.2,446.0 560.0,449.2 560.0,452.0Z" fill="#9ab43e"/><path d="M460.6,517.5 C460.6,520.9 461.0,525.3 460.3,527.3 C459.6,529.4 457.8,529.8 456.5,529.9 C455.2,529.9 453.6,529.6 452.7,527.5 C451.7,525.5 450.8,520.6 450.9,517.5 C451.0,514.4 452.4,510.9 453.3,509.1 C454.2,507.3 455.3,507.1 456.5,506.7 C457.7,506.3 459.9,504.9 460.6,506.7 C461.3,508.5 460.7,514.0 460.6,517.5Z" fill="#1f78c1"/><path d="M544.9,230.1 C545.0,232.7 544.4,236.7 543.6,238.5 C542.8,240.4 541.1,241.3 540.0,241.1 C538.9,241.0 537.5,239.2 536.9,237.4 C536.3,235.5 536.4,232.6 536.3,230.1 C536.3,227.5 535.9,223.8 536.6,222.0 C537.2,220.3 538.9,219.8 540.0,219.9 C541.1,219.9 542.4,220.9 543.2,222.6 C544.0,224.3 544.9,227.4 544.9,230.1Z" fill="#1f78c1"/><path d="M547.3,159.1 C547.5,161.6 546.7,166.0 545.7,167.6 C544.7,169.2 542.7,168.9 541.2,168.8 C539.8,168.7 538.3,168.4 537.2,166.8 C536.1,165.2 534.6,161.7 534.6,159.1 C534.5,156.4 535.9,152.9 537.1,151.0 C538.2,149.2 540.0,147.9 541.2,148.1 C542.5,148.3 543.8,150.4 544.8,152.2 C545.8,154.0 547.2,156.5 547.3,159.1Z" fill="#9ab43e"/><path d="M558.7,156.6 C558.6,159.6 558.3,163.3 557.4,165.2 C556.6,167.0 555.1,167.5 553.8,167.8 C552.4,168.0 550.4,168.5 549.4,166.6 C548.4,164.8 547.6,159.7 547.7,156.6 C547.9,153.6 549.2,150.4 550.2,148.4 C551.2,146.5 552.5,145.1 553.8,145.0 C555.0,144.8 556.9,145.4 557.8,147.4 C558.6,149.3 558.8,153.7 558.7,156.6Z" fill="#9ab43e"/><path d="M499.5,676.0 C500.0,682.3 500.5,691.3 498.9,696.5 C497.3,701.6 492.8,704.5 489.8,707.0 C486.7,709.4 483.8,710.6 480.5,711.3 C477.2,712.0 472.5,714.1 470.0,711.1 C467.5,708.0 466.8,698.8 465.3,692.9 C463.8,687.1 461.1,681.8 461.0,676.0 C460.8,670.2 463.0,664.0 464.5,658.2 C466.0,652.4 467.5,644.7 470.2,641.5 C472.8,638.2 477.1,638.4 480.5,638.5 C483.9,638.6 488.2,638.5 490.7,641.9 C493.3,645.3 494.4,653.2 495.8,658.9 C497.3,664.6 499.0,669.7 499.5,676.0Z" fill="#9ab43e"/><ellipse cx="486.0" cy="682.5" rx="0.8" ry="3.8" fill="#ffffff" fill-opacity="0.80"/><ellipse cx="491.4" cy="650.6" rx="0.7" ry="2.6" fill="#ffffff" fill-opacity="0.80"/><ellipse cx="470.8" cy="647.0" rx="0.7" ry="2.1" fill="#ffffff" fill-opacity="0.80"/><ellipse cx="487.2" cy="672.6" rx="0.6" ry="2.5" fill="#ffffff" fill-opacity="0.80"/><ellipse cx="479.5" cy="667.0" rx="0.6" ry="1.7" fill="#ffffff" fill-opacity="0.80"/><ellipse cx="464.4" cy="708.5" rx="1.0" ry="1.8" fill="#ffffff" fill-opacity="0.80"/><ellipse cx="487.7" cy="707.7" rx="0.8" ry="1.8" fill="#ffffff" fill-opacity="0.80"/><ellipse cx="480.1" cy="671.7" rx="0.6" ry="3.1" fill="#ffffff" fill-opacity="0.80"/><ellipse cx="464.3" cy="703.7" rx="0.9" ry="3.4" fill="#ffffff" fill-opacity="0.80"/><ellipse cx="494.9" cy="686.1" rx="0.7" ry="2.2" fill="#ffffff" fill-opacity="0.80"/><ellipse cx="468.6" cy="644.8" rx="1.0" ry="4.0" fill="#ffffff" fill-opacity="0.80"/><ellipse cx="473.8" cy="655.3" rx="0.9" ry="4.0" fill="#ffffff" fill-opacity="0.80"/><ellipse cx="494.6" cy="654.1" rx="1.0" ry="4.0" fill="#ffffff" fill-opacity="0.80"/><ellipse cx="488.5" cy="664.6" rx="0.6" ry="4.0" fill="#ffffff" fill-opacity="0.80"/><ellipse cx="474.6" cy="667.3" rx="0.8" ry="2.6" fill="#ffffff" fill-opacity="0.80"/><ellipse cx="491.4" cy="658.8" rx="0.5" ry="3.2" fill="#ffffff" fill-opacity="0.80"/><ellipse cx="484.7" cy="697.1" rx="0.9" ry="4.2" fill="#ffffff" fill-opacity="0.80"/><ellipse cx="495.2" cy="675.6" rx="0.8" ry="2.0" fill="#ffffff" fill-opacity="0.80"/><ellipse cx="473.9" cy="681.4" rx="0.5" ry="3.6" fill="#ffffff" fill-opacity="0.80"/><ellipse cx="469.4" cy="672.3" rx="1.1" ry="1.8" fill="#ffffff" fill-opacity="0.80"/><ellipse cx="465.3" cy="672.0" rx="0.6" ry="3.7" fill="#ffffff" fill-opacity="0.80"/><ellipse cx="464.1" cy="698.5" rx="1.0" ry="3.9" fill="#ffffff" fill-opacity="0.80"/><ellipse cx="478.0" cy="661.7" rx="0.9" ry="3.0" fill="#ffffff" fill-opacity="0.80"/><ellipse cx="477.9" cy="665.4" rx="0.8" ry="3.5" fill="#ffffff" fill-opacity="0.80"/><ellipse cx="491.3" cy="702.7" rx="0.6" ry="2.4" fill="#ffffff" fill-opacity="0.80"/><ellipse cx="478.6" cy="680.2" rx="0.7" ry="2.1" fill="#ffffff" fill-opacity="0.80"/><ellipse cx="466.8" cy="664.4" rx="0.8" ry="4.4" fill="#ffffff" fill-opacity="0.80"/><ellipse cx="494.0" cy="700.1" rx="1.1" ry="4.4" fill="#ffffff" fill-opacity="0.80"/><ellipse cx="484.5" cy="696.5" rx="0.5" ry="3.5" fill="#ffffff" fill-opacity="0.80"/><path d="M535.1,676.0 C534.9,682.2 533.1,688.2 531.6,693.6 C530.0,699.1 528.4,704.7 526.0,708.7 C523.6,712.6 520.0,717.2 517.0,717.1 C514.0,717.0 510.8,711.6 508.2,708.0 C505.6,704.3 502.5,700.5 501.1,695.2 C499.8,689.9 500.0,682.2 500.2,676.0 C500.4,669.8 501.1,664.0 502.3,658.2 C503.5,652.3 504.9,643.4 507.3,640.9 C509.8,638.4 514.0,642.2 517.0,643.1 C520.0,644.0 522.5,644.0 525.2,646.3 C527.8,648.5 531.3,651.7 533.0,656.7 C534.6,661.6 535.4,669.8 535.1,676.0Z" fill="#9ab43e"/><ellipse cx="515.4" cy="648.6" rx="0.9" ry="2.6" fill="#ffffff" fill-opacity="0.80"/><ellipse cx="519.4" cy="670.5" rx="0.8" ry="3.2" fill="#ffffff" fill-opacity="0.80"/><ellipse cx="513.9" cy="650.5" rx="0.6" ry="4.2" fill="#ffffff" fill-opacity="0.80"/><ellipse cx="518.4" cy="650.4" rx="1.0" ry="2.3" fill="#ffffff" fill-opacity="0.80"/><ellipse cx="504.8" cy="678.0" rx="0.7" ry="3.0" fill="#ffffff" fill-opacity="0.80"/><ellipse cx="518.6" cy="658.0" rx="0.8" ry="1.8" fill="#ffffff" fill-opacity="0.80"/><ellipse cx="517.4" cy="681.8" rx="0.5" ry="2.7" fill="#ffffff" fill-opacity="0.80"/><ellipse cx="504.2" cy="672.0" rx="1.0" ry="3.2" fill="#ffffff" fill-opacity="0.80"/><ellipse cx="523.4" cy="693.0" rx="0.6" ry="4.5" fill="#ffffff" fill-opacity="0.80"/><ellipse cx="523.6" cy="649.7" rx="1.0" ry="2.7" fill="#ffffff" fill-opacity="0.80"/><ellipse cx="507.1" cy="706.4" rx="0.8" ry="3.8" fill="#ffffff" fill-opacity="0.80"/><ellipse cx="506.1" cy="694.2" rx="0.5" ry="2.2" fill="#ffffff" fill-opacity="0.80"/><ellipse cx="513.2" cy="644.0" rx="0.9" ry="2.1" fill="#ffffff" fill-opacity="0.80"/><ellipse cx="511.0" cy="689.7" rx="0.8" ry="4.2" fill="#ffffff" fill-opacity="0.80"/><ellipse cx="520.6" cy="700.6" rx="0.8" ry="4.3" fill="#ffffff" fill-opacity="0.80"/><ellipse cx="528.1" cy="654.1" rx="0.9" ry="2.5" fill="#ffffff" fill-opacity="0.80"/><ellipse cx="524.9" cy="687.9" rx="1.0" ry="1.9" fill="#ffffff" fill-opacity="0.80"/><ellipse cx="513.2" cy="691.7" rx="1.1" ry="3.7" fill="#ffffff" fill-opacity="0.80"/><ellipse cx="503.3" cy="682.9" rx="0.6" ry="3.1" fill="#ffffff" fill-opacity="0.80"/><ellipse cx="526.1" cy="650.5" rx="1.1" ry="3.5" fill="#ffffff" fill-opacity="0.80"/><ellipse cx="509.6" cy="655.7" rx="0.8" ry="4.0" fill="#ffffff" fill-opacity="0.80"/><ellipse cx="519.4" cy="650.5" rx="0.5" ry="1.8" fill="#ffffff" fill-opacity="0.80"/><ellipse cx="526.0" cy="655.2" rx="0.8" ry="2.4" fill="#ffffff" fill-opacity="0.80"/><ellipse cx="522.6" cy="668.1" rx="0.6" ry="4.1" fill="#ffffff" fill-opacity="0.80"/><ellipse cx="518.2" cy="688.5" rx="1.0" ry="4.3" fill="#ffffff" fill-opacity="0.80"/><ellipse cx="502.4" cy="665.6" rx="0.6" ry="3.0" fill="#ffffff" fill-opacity="0.80"/><ellipse cx="528.2" cy="695.8" rx="0.5" ry="2.0" fill="#ffffff" fill-opacity="0.80"/><path d="M499.8,650.0 C500.0,651.7 499.3,653.9 498.6,655.4 C497.9,656.8 496.6,657.9 495.5,658.7 C494.5,659.5 493.1,660.3 492.0,660.2 C490.9,660.2 489.8,659.0 488.7,658.2 C487.5,657.4 485.8,656.9 485.2,655.6 C484.5,654.2 484.9,651.9 484.9,650.0 C484.9,648.1 484.6,645.9 485.1,644.4 C485.7,642.9 487.1,641.4 488.3,640.8 C489.4,640.2 490.8,640.6 492.0,640.7 C493.2,640.8 494.5,640.7 495.5,641.4 C496.5,642.2 497.2,643.8 497.9,645.2 C498.6,646.6 499.7,648.3 499.8,650.0Z" fill="#1f78c1"/><ellipse cx="495.9" cy="651.2" rx="0.5" ry="2.0" fill="#ffffff" fill-opacity="0.80"/><ellipse cx="490.6" cy="649.5" rx="0.8" ry="2.7" fill="#ffffff" fill-opacity="0.80"/><ellipse cx="490.5" cy="643.1" rx="0.8" ry="2.5" fill="#ffffff" fill-opacity="0.80"/><path d="M473.6,735.0 C473.6,738.4 474.1,741.9 473.1,745.2 C472.1,748.5 470.3,753.6 467.7,754.9 C465.1,756.3 460.6,754.0 457.5,753.4 C454.4,752.8 451.9,752.6 449.2,751.3 C446.4,750.1 442.6,748.4 441.1,745.7 C439.6,743.0 440.0,738.4 440.3,735.0 C440.5,731.6 441.2,728.2 442.6,725.3 C443.9,722.3 445.9,718.8 448.4,717.2 C450.9,715.5 454.4,715.6 457.5,715.6 C460.6,715.5 464.1,715.4 466.8,716.9 C469.4,718.4 472.2,721.6 473.4,724.6 C474.5,727.7 473.6,731.6 473.6,735.0Z" fill="#1f78c1"/><ellipse cx="471.7" cy="751.7" rx="0.5" ry="3.2" fill="#ffffff" fill-opacity="0.80"/><ellipse cx="465.9" cy="747.7" rx="1.0" ry="3.4" fill="#ffffff" fill-opacity="0.80"/><ellipse cx="461.7" cy="730.3" rx="0.7" ry="3.9" fill="#ffffff" fill-opacity="0.80"/><ellipse cx="469.1" cy="749.9" rx="0.9" ry="2.4" fill="#ffffff" fill-opacity="0.80"/><ellipse cx="465.7" cy="743.1" rx="0.8" ry="3.4" fill="#ffffff" fill-opacity="0.80"/><ellipse cx="452.9" cy="736.7" rx="0.7" ry="1.7" fill="#ffffff" fill-opacity="0.80"/><ellipse cx="452.5" cy="729.0" rx="1.1" ry="2.9" fill="#ffffff" fill-opacity="0.80"/><ellipse cx="453.4" cy="726.3" rx="0.6" ry="2.5" fill="#ffffff" fill-opacity="0.80"/><ellipse cx="446.2" cy="718.2" rx="1.0" ry="2.9" fill="#ffffff" fill-opacity="0.80"/><ellipse cx="455.8" cy="737.3" rx="0.7" ry="2.0" fill="#ffffff" fill-opacity="0.80"/><ellipse cx="444.1" cy="728.3" rx="0.7" ry="3.7" fill="#ffffff" fill-opacity="0.80"/><ellipse cx="459.1" cy="749.9" rx="0.7" ry="4.3" fill="#ffffff" fill-opacity="0.80"/><ellipse cx="460.1" cy="720.7" rx="0.6" ry="3.2" fill="#ffffff" fill-opacity="0.80"/><ellipse cx="472.6" cy="730.1" rx="1.0" ry="2.8" fill="#ffffff" fill-opacity="0.80"/><ellipse cx="468.9" cy="720.3" rx="0.8" ry="4.2" fill="#ffffff" fill-opacity="0.80"/><path d="M514.7,735.0 C514.4,738.4 513.7,742.1 512.0,744.7 C510.2,747.3 507.0,749.3 504.2,750.8 C501.4,752.3 498.2,753.8 495.0,753.9 C491.8,754.1 488.3,753.2 485.2,751.8 C482.0,750.5 477.7,748.6 476.1,745.8 C474.5,743.0 475.4,738.5 475.6,735.0 C475.8,731.5 475.8,727.7 477.4,724.9 C479.0,722.2 482.4,720.3 485.3,718.4 C488.3,716.6 491.5,714.4 495.0,713.9 C498.5,713.4 503.2,713.9 506.3,715.6 C509.4,717.3 512.3,721.1 513.7,724.3 C515.0,727.6 515.0,731.6 514.7,735.0Z" fill="#9ab43e"/><ellipse cx="484.1" cy="743.0" rx="1.1" ry="3.3" fill="#ffffff" fill-opacity="0.80"/><ellipse cx="479.9" cy="745.5" rx="1.0" ry="2.5" fill="#ffffff" fill-opacity="0.80"/><ellipse cx="481.9" cy="724.4" rx="0.8" ry="4.1" fill="#ffffff" fill-opacity="0.80"/><ellipse cx="500.0" cy="749.4" rx="0.6" ry="2.5" fill="#ffffff" fill-opacity="0.80"/><ellipse cx="504.0" cy="740.1" rx="0.7" ry="3.5" fill="#ffffff" fill-opacity="0.80"/><ellipse cx="489.2" cy="720.0" rx="0.7" ry="1.6" fill="#ffffff" fill-opacity="0.80"/><ellipse cx="499.5" cy="729.4" rx="0.8" ry="3.3" fill="#ffffff" fill-opacity="0.80"/><ellipse cx="486.3" cy="733.8" rx="0.5" ry="4.3" fill="#ffffff" fill-opacity="0.80"/><ellipse cx="497.3" cy="751.6" rx="0.5" ry="3.3" fill="#ffffff" fill-opacity="0.80"/><ellipse cx="503.1" cy="729.2" rx="0.6" ry="2.0" fill="#ffffff" fill-opacity="0.80"/><ellipse cx="482.1" cy="744.1" rx="0.6" ry="3.9" fill="#ffffff" fill-opacity="0.80"/><ellipse cx="492.2" cy="736.3" rx="0.9" ry="3.2" fill="#ffffff" fill-opacity="0.80"/><ellipse cx="500.7" cy="738.5" rx="0.7" ry="3.7" fill="#ffffff" fill-opacity="0.80"/><ellipse cx="486.3" cy="742.2" rx="1.0" ry="3.8" fill="#ffffff" fill-opacity="0.80"/><ellipse cx="488.1" cy="744.3" rx="1.1" ry="2.9" fill="#ffffff" fill-opacity="0.80"/><ellipse cx="487.0" cy="735.8" rx="1.1" ry="1.9" fill="#ffffff" fill-opacity="0.80"/><ellipse cx="477.3" cy="734.2" rx="0.9" ry="3.8" fill="#ffffff" fill-opacity="0.80"/><path d="M524.5,737.9 C524.4,740.7 523.1,744.1 522.3,746.0 C521.5,747.8 520.6,748.9 519.8,749.0 C518.9,749.0 517.8,748.0 517.2,746.1 C516.6,744.3 516.3,740.9 516.2,737.9 C516.2,735.0 516.1,730.6 516.7,728.3 C517.3,726.0 518.8,723.8 519.8,724.0 C520.7,724.2 521.6,727.2 522.4,729.5 C523.2,731.9 524.5,735.2 524.5,737.9Z" fill="#1f78c1"/><path d="M475.2,781.0 C474.7,785.0 472.7,789.0 470.4,792.3 C468.0,795.6 464.9,798.3 461.2,800.8 C457.6,803.2 453.1,806.5 448.5,807.1 C443.9,807.8 437.0,807.0 433.3,804.6 C429.7,802.1 428.1,796.3 426.6,792.4 C425.0,788.4 424.6,785.1 424.1,781.0 C423.5,776.9 421.1,771.2 423.0,767.8 C425.0,764.5 431.3,763.3 435.6,760.9 C439.8,758.5 444.0,753.6 448.5,753.4 C453.0,753.2 458.2,757.1 462.3,759.6 C466.4,762.1 471.0,764.7 473.1,768.2 C475.3,771.8 475.6,777.0 475.2,781.0Z" fill="#9ab43e"/><ellipse cx="440.9" cy="793.6" rx="0.8" ry="2.5" fill="#ffffff" fill-opacity="0.80"/><ellipse cx="468.3" cy="764.5" rx="0.9" ry="1.7" fill="#ffffff" fill-opacity="0.80"/><ellipse cx="455.6" cy="776.9" rx="1.0" ry="1.7" fill="#ffffff" fill-opacity="0.80"/><ellipse cx="451.6" cy="777.2" rx="1.1" ry="4.3" fill="#ffffff" fill-opacity="0.80"/><ellipse cx="454.7" cy="769.4" rx="0.7" ry="2.3" fill="#ffffff" fill-opacity="0.80"/><ellipse cx="445.3" cy="769.7" rx="0.6" ry="3.8" fill="#ffffff" fill-opacity="0.80"/><ellipse cx="455.5" cy="772.5" rx="1.1" ry="2.1" fill="#ffffff" fill-opacity="0.80"/><ellipse cx="451.9" cy="766.6" rx="1.0" ry="4.1" fill="#ffffff" fill-opacity="0.80"/><ellipse cx="437.1" cy="791.6" rx="1.0" ry="2.3" fill="#ffffff" fill-opacity="0.80"/><ellipse cx="440.2" cy="780.4" rx="1.0" ry="2.0" fill="#ffffff" fill-opacity="0.80"/><ellipse cx="457.5" cy="785.1" rx="0.8" ry="3.2" fill="#ffffff" fill-opacity="0.80"/><ellipse cx="467.3" cy="768.8" rx="1.0" ry="2.6" fill="#ffffff" fill-opacity="0.80"/><ellipse cx="462.2" cy="796.3" rx="0.6" ry="4.1" fill="#ffffff" fill-opacity="0.80"/><ellipse cx="472.7" cy="772.5" rx="0.5" ry="1.8" fill="#ffffff" fill-opacity="0.80"/><ellipse cx="471.7" cy="760.4" rx="1.0" ry="2.0" fill="#ffffff" fill-opacity="0.80"/><ellipse cx="460.1" cy="764.1" rx="0.6" ry="3.5" fill="#ffffff" fill-opacity="0.80"/><ellipse cx="428.4" cy="774.3" rx="1.1" ry="3.6" fill="#ffffff" fill-opacity="0.80"/><ellipse cx="467.2" cy="801.1" rx="0.5" ry="2.2" fill="#ffffff" fill-opacity="0.80"/><ellipse cx="462.8" cy="789.0" rx="0.5" ry="3.0" fill="#ffffff" fill-opacity="0.80"/><ellipse cx="435.3" cy="778.1" rx="0.6" ry="1.6" fill="#ffffff" fill-opacity="0.80"/><ellipse cx="472.5" cy="773.3" rx="1.0" ry="1.9" fill="#ffffff" fill-opacity="0.80"/><ellipse cx="447.9" cy="765.7" rx="0.8" ry="2.0" fill="#ffffff" fill-opacity="0.80"/><ellipse cx="457.6" cy="766.2" rx="0.9" ry="3.0" fill="#ffffff" fill-opacity="0.80"/><ellipse cx="429.5" cy="774.9" rx="0.8" ry="4.3" fill="#ffffff" fill-opacity="0.80"/><ellipse cx="441.1" cy="769.0" rx="1.1" ry="4.1" fill="#ffffff" fill-opacity="0.80"/><ellipse cx="459.8" cy="771.5" rx="0.6" ry="2.3" fill="#ffffff" fill-opacity="0.80"/><ellipse cx="427.4" cy="761.8" rx="0.8" ry="2.7" fill="#ffffff" fill-opacity="0.80"/><ellipse cx="451.3" cy="775.2" rx="0.5" ry="3.6" fill="#ffffff" fill-opacity="0.80"/><path d="M501.0,781.0 C501.0,785.1 500.0,789.9 498.9,793.5 C497.7,797.1 496.0,800.4 494.1,802.7 C492.2,804.9 489.8,806.5 487.5,806.8 C485.2,807.2 482.3,806.9 480.2,804.9 C478.2,802.8 476.3,798.5 475.2,794.5 C474.2,790.5 473.6,785.3 473.8,781.0 C474.0,776.7 475.3,772.4 476.5,768.9 C477.8,765.5 479.5,762.6 481.3,760.5 C483.1,758.5 485.3,757.3 487.5,756.8 C489.7,756.2 492.9,755.1 494.7,757.2 C496.6,759.2 497.4,765.0 498.5,769.0 C499.5,772.9 500.9,776.9 501.0,781.0Z" fill="#1f78c1"/><ellipse cx="485.1" cy="777.2" rx="0.6" ry="4.5" fill="#ffffff" fill-opacity="0.80"/><ellipse cx="477.1" cy="785.5" rx="1.1" ry="2.3" fill="#ffffff" fill-opacity="0.80"/><ellipse cx="489.8" cy="775.8" rx="0.6" ry="2.1" fill="#ffffff" fill-opacity="0.80"/><ellipse cx="479.4" cy="795.4" rx="1.0" ry="4.2" fill="#ffffff" fill-opacity="0.80"/><ellipse cx="478.0" cy="789.2" rx="0.7" ry="3.4" fill="#ffffff" fill-opacity="0.80"/><ellipse cx="488.5" cy="773.3" rx="1.1" ry="1.5" fill="#ffffff" fill-opacity="0.80"/><ellipse cx="492.7" cy="795.8" rx="0.8" ry="3.3" fill="#ffffff" fill-opacity="0.80"/><ellipse cx="497.9" cy="769.8" rx="0.9" ry="3.7" fill="#ffffff" fill-opacity="0.80"/><ellipse cx="485.0" cy="789.9" rx="0.7" ry="3.1" fill="#ffffff" fill-opacity="0.80"/><ellipse cx="489.9" cy="788.4" rx="0.7" ry="3.4" fill="#ffffff" fill-opacity="0.80"/><ellipse cx="488.4" cy="769.4" rx="0.9" ry="2.3" fill="#ffffff" fill-opacity="0.80"/><ellipse cx="496.1" cy="779.9" rx="0.9" ry="3.1" fill="#ffffff" fill-opacity="0.80"/><ellipse cx="487.0" cy="769.3" rx="0.6" ry="4.3" fill="#ffffff" fill-opacity="0.80"/><path d="M571.7,785.0 C571.2,788.6 569.8,792.4 566.7,795.4 C563.6,798.4 558.6,801.0 553.3,803.0 C548.0,804.9 540.9,807.4 535.0,807.1 C529.1,806.9 522.8,803.8 517.9,801.7 C513.1,799.6 509.6,797.3 506.0,794.5 C502.3,791.7 496.2,788.3 495.8,785.0 C495.4,781.7 500.4,777.9 503.8,774.8 C507.2,771.7 511.0,768.6 516.2,766.6 C521.4,764.6 528.5,763.0 535.0,762.8 C541.5,762.6 549.2,763.6 554.9,765.5 C560.6,767.3 566.5,770.5 569.3,773.8 C572.1,777.0 572.1,781.4 571.7,785.0Z" fill="#1f78c1"/><ellipse cx="504.9" cy="781.0" rx="1.0" ry="4.0" fill="#ffffff" fill-opacity="0.80"/><ellipse cx="510.1" cy="773.2" rx="0.7" ry="1.8" fill="#ffffff" fill-opacity="0.80"/><ellipse cx="525.5" cy="795.3" rx="0.8" ry="2.9" fill="#ffffff" fill-opacity="0.80"/><ellipse cx="507.8" cy="781.4" rx="1.1" ry="3.6" fill="#ffffff" fill-opacity="0.80"/><ellipse cx="531.7" cy="784.3" rx="1.0" ry="3.8" fill="#ffffff" fill-opacity="0.80"/><ellipse cx="511.9" cy="791.1" rx="0.7" ry="3.1" fill="#ffffff" fill-opacity="0.80"/><ellipse cx="517.7" cy="780.6" rx="0.7" ry="2.6" fill="#ffffff" fill-opacity="0.80"/><ellipse cx="503.2" cy="774.8" rx="0.8" ry="1.7" fill="#ffffff" fill-opacity="0.80"/><ellipse cx="513.8" cy="792.4" rx="0.7" ry="2.5" fill="#ffffff" fill-opacity="0.80"/><ellipse cx="518.0" cy="796.4" rx="0.6" ry="3.4" fill="#ffffff" fill-opacity="0.80"/><ellipse cx="558.7" cy="774.9" rx="0.8" ry="3.9" fill="#ffffff" fill-opacity="0.80"/><ellipse cx="542.8" cy="780.6" rx="0.5" ry="2.8" fill="#ffffff" fill-opacity="0.80"/><ellipse cx="526.2" cy="792.2" rx="0.7" ry="2.7" fill="#ffffff" fill-opacity="0.80"/><ellipse cx="544.8" cy="795.6" rx="0.7" ry="2.7" fill="#ffffff" fill-opacity="0.80"/><ellipse cx="540.2" cy="799.4" rx="0.6" ry="4.4" fill="#ffffff" fill-opacity="0.80"/><ellipse cx="549.0" cy="780.7" rx="0.9" ry="2.5" fill="#ffffff" fill-opacity="0.80"/><ellipse cx="506.7" cy="793.7" rx="0.7" ry="3.1" fill="#ffffff" fill-opacity="0.80"/><ellipse cx="534.8" cy="798.6" rx="1.0" ry="1.6" fill="#ffffff" fill-opacity="0.80"/><ellipse cx="541.1" cy="783.7" rx="0.8" ry="4.0" fill="#ffffff" fill-opacity="0.80"/><ellipse cx="529.4" cy="784.1" rx="1.0" ry="2.8" fill="#ffffff" fill-opacity="0.80"/><ellipse cx="534.4" cy="785.4" rx="1.0" ry="3.5" fill="#ffffff" fill-opacity="0.80"/><ellipse cx="550.9" cy="781.7" rx="0.5" ry="3.5" fill="#ffffff" fill-opacity="0.80"/><ellipse cx="538.6" cy="794.2" rx="1.0" ry="1.9" fill="#ffffff" fill-opacity="0.80"/><ellipse cx="516.6" cy="770.6" rx="1.0" ry="1.8" fill="#ffffff" fill-opacity="0.80"/><ellipse cx="507.8" cy="793.6" rx="0.8" ry="1.7" fill="#ffffff" fill-opacity="0.80"/><ellipse cx="546.9" cy="792.2" rx="0.8" ry="1.7" fill="#ffffff" fill-opacity="0.80"/><ellipse cx="547.6" cy="782.2" rx="0.9" ry="4.5" fill="#ffffff" fill-opacity="0.80"/><ellipse cx="555.9" cy="797.6" rx="0.6" ry="2.5" fill="#ffffff" fill-opacity="0.80"/><ellipse cx="536.2" cy="768.2" rx="1.1" ry="2.3" fill="#ffffff" fill-opacity="0.80"/><ellipse cx="519.3" cy="778.6" rx="0.7" ry="4.1" fill="#ffffff" fill-opacity="0.80"/><ellipse cx="538.7" cy="785.4" rx="0.8" ry="1.7" fill="#ffffff" fill-opacity="0.80"/><path d="M474.7,831.5 C475.1,835.4 477.0,840.1 474.2,843.5 C471.5,847.0 464.5,850.1 458.4,852.1 C452.3,854.1 444.0,856.0 437.5,855.5 C431.0,855.1 424.4,851.9 419.1,849.6 C413.9,847.3 408.9,844.8 406.1,841.8 C403.4,838.8 403.1,835.1 402.7,831.5 C402.2,827.9 400.8,823.4 403.4,820.3 C406.1,817.2 412.9,814.7 418.6,812.9 C424.3,811.1 431.1,809.6 437.5,809.5 C443.9,809.5 451.2,810.6 456.9,812.4 C462.7,814.1 469.0,817.0 472.0,820.2 C474.9,823.4 474.3,827.6 474.7,831.5Z" fill="#1f78c1"/><ellipse cx="428.0" cy="842.7" rx="0.6" ry="4.3" fill="#ffffff" fill-opacity="0.80"/><ellipse cx="441.5" cy="814.9" rx="0.7" ry="3.1" fill="#ffffff" fill-opacity="0.80"/><ellipse cx="431.0" cy="833.9" rx="0.7" ry="2.3" fill="#ffffff" fill-opacity="0.80"/><ellipse cx="458.5" cy="823.8" rx="0.9" ry="3.9" fill="#ffffff" fill-opacity="0.80"/><ellipse cx="444.0" cy="829.8" rx="1.1" ry="2.8" fill="#ffffff" fill-opacity="0.80"/><ellipse cx="464.3" cy="815.1" rx="0.8" ry="3.4" fill="#ffffff" fill-opacity="0.80"/><ellipse cx="405.5" cy="844.9" rx="0.5" ry="3.3" fill="#ffffff" fill-opacity="0.80"/><ellipse cx="414.8" cy="847.1" rx="0.8" ry="3.9" fill="#ffffff" fill-opacity="0.80"/><ellipse cx="437.4" cy="837.9" rx="0.9" ry="2.4" fill="#ffffff" fill-opacity="0.80"/><ellipse cx="417.0" cy="844.0" rx="0.6" ry="4.3" fill="#ffffff" fill-opacity="0.80"/><ellipse cx="416.7" cy="816.7" rx="0.6" ry="3.9" fill="#ffffff" fill-opacity="0.80"/><ellipse cx="469.5" cy="828.3" rx="0.9" ry="2.3" fill="#ffffff" fill-opacity="0.80"/><ellipse cx="466.3" cy="838.4" rx="0.6" ry="1.7" fill="#ffffff" fill-opacity="0.80"/><ellipse cx="451.4" cy="814.5" rx="1.0" ry="2.4" fill="#ffffff" fill-opacity="0.80"/><ellipse cx="418.5" cy="834.5" rx="0.7" ry="3.2" fill="#ffffff" fill-opacity="0.80"/><ellipse cx="412.9" cy="846.7" rx="0.7" ry="4.0" fill="#ffffff" fill-opacity="0.80"/><ellipse cx="412.8" cy="842.6" rx="1.1" ry="2.7" fill="#ffffff" fill-opacity="0.80"/><ellipse cx="404.3" cy="827.1" rx="0.9" ry="2.2" fill="#ffffff" fill-opacity="0.80"/><ellipse cx="440.7" cy="816.5" rx="0.8" ry="3.7" fill="#ffffff" fill-opacity="0.80"/><ellipse cx="432.5" cy="838.1" rx="0.6" ry="4.0" fill="#ffffff" fill-opacity="0.80"/><ellipse cx="410.7" cy="847.2" rx="1.1" ry="4.3" fill="#ffffff" fill-opacity="0.80"/><ellipse cx="439.4" cy="823.8" rx="0.7" ry="3.8" fill="#ffffff" fill-opacity="0.80"/><ellipse cx="437.3" cy="847.4" rx="0.6" ry="3.0" fill="#ffffff" fill-opacity="0.80"/><ellipse cx="463.3" cy="835.1" rx="0.8" ry="1.8" fill="#ffffff" fill-opacity="0.80"/><ellipse cx="411.9" cy="823.0" rx="1.0" ry="4.0" fill="#ffffff" fill-opacity="0.80"/><ellipse cx="418.1" cy="847.2" rx="0.5" ry="3.3" fill="#ffffff" fill-opacity="0.80"/><ellipse cx="470.7" cy="825.7" rx="1.1" ry="3.5" fill="#ffffff" fill-opacity="0.80"/><ellipse cx="405.6" cy="825.3" rx="0.8" ry="2.2" fill="#ffffff" fill-opacity="0.80"/><ellipse cx="454.7" cy="819.6" rx="1.0" ry="2.4" fill="#ffffff" fill-opacity="0.80"/><ellipse cx="406.9" cy="833.7" rx="0.6" ry="3.2" fill="#ffffff" fill-opacity="0.80"/><ellipse cx="457.9" cy="835.0" rx="0.8" ry="1.6" fill="#ffffff" fill-opacity="0.80"/><ellipse cx="438.4" cy="816.6" rx="0.9" ry="1.9" fill="#ffffff" fill-opacity="0.80"/><ellipse cx="443.0" cy="826.1" rx="0.7" ry="3.5" fill="#ffffff" fill-opacity="0.80"/><ellipse cx="413.6" cy="819.3" rx="1.1" ry="2.5" fill="#ffffff" fill-opacity="0.80"/><ellipse cx="461.8" cy="845.3" rx="0.8" ry="1.9" fill="#ffffff" fill-opacity="0.80"/><path d="M523.5,831.5 C524.1,835.2 526.5,840.7 524.6,843.6 C522.6,846.5 515.9,847.2 511.8,848.9 C507.7,850.6 504.2,853.3 500.0,853.6 C495.8,853.9 490.3,852.9 486.9,850.8 C483.5,848.8 481.7,844.8 479.5,841.6 C477.4,838.3 474.2,834.9 474.2,831.5 C474.2,828.1 477.2,824.5 479.3,821.3 C481.4,818.1 483.4,814.2 486.9,812.2 C490.3,810.2 495.7,809.2 500.0,809.3 C504.3,809.4 509.1,810.9 512.6,812.9 C516.1,814.9 519.1,818.1 520.9,821.2 C522.7,824.3 522.9,827.8 523.5,831.5Z" fill="#9ab43e"/><ellipse cx="495.6" cy="820.5" rx="0.6" ry="2.2" fill="#ffffff" fill-opacity="0.80"/><ellipse cx="517.1" cy="831.6" rx="1.0" ry="1.5" fill="#ffffff" fill-opacity="0.80"/><ellipse cx="520.4" cy="831.1" rx="1.0" ry="3.2" fill="#ffffff" fill-opacity="0.80"/><ellipse cx="508.7" cy="821.5" rx="1.0" ry="2.0" fill="#ffffff" fill-opacity="0.80"/><ellipse cx="489.2" cy="814.1" rx="0.7" ry="3.1" fill="#ffffff" fill-opacity="0.80"/><ellipse cx="490.4" cy="845.9" rx="0.6" ry="3.2" fill="#ffffff" fill-opacity="0.80"/><ellipse cx="487.8" cy="835.0" rx="1.0" ry="3.6" fill="#ffffff" fill-opacity="0.80"/><ellipse cx="479.9" cy="822.1" rx="0.9" ry="4.4" fill="#ffffff" fill-opacity="0.80"/><ellipse cx="478.9" cy="835.9" rx="0.9" ry="3.9" fill="#ffffff" fill-opacity="0.80"/><ellipse cx="492.7" cy="843.0" rx="0.8" ry="4.3" fill="#ffffff" fill-opacity="0.80"/><ellipse cx="477.5" cy="847.8" rx="0.7" ry="2.7" fill="#ffffff" fill-opacity="0.80"/><ellipse cx="481.1" cy="822.1" rx="0.9" ry="3.5" fill="#ffffff" fill-opacity="0.80"/><ellipse cx="484.0" cy="825.7" rx="0.6" ry="2.1" fill="#ffffff" fill-opacity="0.80"/><ellipse cx="487.1" cy="825.2" rx="1.1" ry="4.5" fill="#ffffff" fill-opacity="0.80"/><ellipse cx="513.4" cy="830.7" rx="0.8" ry="3.8" fill="#ffffff" fill-opacity="0.80"/><ellipse cx="518.8" cy="840.8" rx="0.9" ry="2.1" fill="#ffffff" fill-opacity="0.80"/><ellipse cx="505.8" cy="844.3" rx="1.0" ry="1.8" fill="#ffffff" fill-opacity="0.80"/><ellipse cx="510.0" cy="825.9" rx="0.6" ry="4.4" fill="#ffffff" fill-opacity="0.80"/><ellipse cx="507.9" cy="840.6" rx="0.6" ry="4.0" fill="#ffffff" fill-opacity="0.80"/><ellipse cx="520.1" cy="846.5" rx="0.9" ry="4.0" fill="#ffffff" fill-opacity="0.80"/><ellipse cx="513.9" cy="834.8" rx="0.8" ry="4.0" fill="#ffffff" fill-opacity="0.80"/><ellipse cx="513.1" cy="845.2" rx="0.7" ry="4.4" fill="#ffffff" fill-opacity="0.80"/><ellipse cx="501.5" cy="848.0" rx="0.6" ry="4.4" fill="#ffffff" fill-opacity="0.80"/><path d="M465.2,868.0 C465.0,870.0 460.3,871.9 457.6,873.8 C455.0,875.7 453.5,878.6 449.5,879.6 C445.5,880.5 438.5,879.8 433.5,879.6 C428.5,879.3 424.0,878.8 419.8,877.9 C415.5,877.0 410.4,875.8 408.1,874.1 C405.8,872.5 405.8,870.0 405.7,868.0 C405.7,866.0 406.0,863.8 407.9,861.8 C409.8,859.9 413.0,857.4 417.2,856.2 C421.5,855.1 428.2,855.0 433.5,855.1 C438.8,855.2 444.9,855.6 449.1,856.8 C453.2,857.9 455.8,860.1 458.5,862.0 C461.2,863.9 465.3,866.0 465.2,868.0Z" fill="#9ab43e"/><ellipse cx="448.5" cy="873.3" rx="0.9" ry="4.3" fill="#ffffff" fill-opacity="0.80"/><ellipse cx="450.8" cy="866.3" rx="0.6" ry="3.5" fill="#ffffff" fill-opacity="0.80"/><ellipse cx="451.3" cy="865.1" rx="0.9" ry="4.0" fill="#ffffff" fill-opacity="0.80"/><ellipse cx="449.0" cy="859.1" rx="0.8" ry="1.5" fill="#ffffff" fill-opacity="0.80"/><ellipse cx="412.9" cy="873.6" rx="0.8" ry="3.3" fill="#ffffff" fill-opacity="0.80"/><ellipse cx="431.2" cy="865.0" rx="0.6" ry="2.6" fill="#ffffff" fill-opacity="0.80"/><ellipse cx="451.8" cy="870.1" rx="0.7" ry="1.8" fill="#ffffff" fill-opacity="0.80"/><ellipse cx="421.4" cy="871.6" rx="0.8" ry="3.5" fill="#ffffff" fill-opacity="0.80"/><ellipse cx="449.8" cy="861.2" rx="0.9" ry="1.6" fill="#ffffff" fill-opacity="0.80"/><ellipse cx="450.6" cy="862.3" rx="0.7" ry="4.4" fill="#ffffff" fill-opacity="0.80"/><ellipse cx="426.2" cy="863.0" rx="1.0" ry="3.3" fill="#ffffff" fill-opacity="0.80"/><ellipse cx="454.4" cy="866.1" rx="0.8" ry="4.4" fill="#ffffff" fill-opacity="0.80"/><ellipse cx="433.9" cy="876.8" rx="0.6" ry="4.0" fill="#ffffff" fill-opacity="0.80"/><ellipse cx="415.6" cy="868.5" rx="0.5" ry="2.0" fill="#ffffff" fill-opacity="0.80"/><ellipse cx="457.1" cy="867.2" rx="1.0" ry="2.3" fill="#ffffff" fill-opacity="0.80"/><path d="M530.1,868.0 C529.7,869.9 527.1,871.8 524.9,873.6 C522.7,875.4 520.7,877.5 517.0,878.8 C513.2,880.1 507.3,881.5 502.5,881.4 C497.7,881.4 492.2,880.0 488.2,878.7 C484.1,877.5 481.3,875.8 478.5,874.0 C475.6,872.2 471.5,870.1 471.0,868.0 C470.4,865.9 472.6,863.1 475.4,861.2 C478.2,859.4 483.1,857.6 487.6,856.9 C492.1,856.1 497.6,856.9 502.5,856.9 C507.4,856.9 513.2,856.1 517.2,857.0 C521.3,857.8 524.8,860.1 526.9,861.9 C529.1,863.7 530.4,866.1 530.1,868.0Z" fill="#1f78c1"/><ellipse cx="525.9" cy="865.5" rx="0.9" ry="3.4" fill="#ffffff" fill-opacity="0.80"/><ellipse cx="496.2" cy="868.4" rx="0.9" ry="4.2" fill="#ffffff" fill-opacity="0.80"/><ellipse cx="502.4" cy="865.5" rx="1.1" ry="1.7" fill="#ffffff" fill-opacity="0.80"/><ellipse cx="519.6" cy="871.3" rx="0.8" ry="2.8" fill="#ffffff" fill-opacity="0.80"/><ellipse cx="515.3" cy="875.0" rx="0.9" ry="3.7" fill="#ffffff" fill-opacity="0.80"/><ellipse cx="478.8" cy="864.9" rx="0.6" ry="4.4" fill="#ffffff" fill-opacity="0.80"/><ellipse cx="522.5" cy="861.6" rx="0.9" ry="3.2" fill="#ffffff" fill-opacity="0.80"/><ellipse cx="479.4" cy="866.1" rx="0.9" ry="3.4" fill="#ffffff" fill-opacity="0.80"/><ellipse cx="491.3" cy="872.7" rx="0.7" ry="3.1" fill="#ffffff" fill-opacity="0.80"/><ellipse cx="498.5" cy="876.6" rx="0.9" ry="3.9" fill="#ffffff" fill-opacity="0.80"/><ellipse cx="511.5" cy="865.8" rx="1.1" ry="3.6" fill="#ffffff" fill-opacity="0.80"/><ellipse cx="512.2" cy="864.0" rx="0.6" ry="3.2" fill="#ffffff" fill-opacity="0.80"/><ellipse cx="519.1" cy="873.3" rx="0.7" ry="1.9" fill="#ffffff" fill-opacity="0.80"/><ellipse cx="503.3" cy="874.8" rx="0.6" ry="3.7" fill="#ffffff" fill-opacity="0.80"/><path d="M495.7,896.0 C495.7,898.0 495.6,900.3 495.0,901.9 C494.4,903.5 493.3,904.6 492.2,905.6 C491.2,906.5 490.1,907.6 489.0,907.8 C487.9,907.9 486.6,907.2 485.5,906.4 C484.3,905.6 482.7,904.6 482.0,902.9 C481.2,901.1 480.7,898.1 480.9,896.0 C481.1,893.9 482.4,892.0 483.2,890.3 C483.9,888.6 484.6,887.1 485.5,885.8 C486.5,884.5 487.9,882.3 489.0,882.3 C490.1,882.4 491.4,884.8 492.4,886.1 C493.4,887.4 494.5,888.4 495.0,890.1 C495.6,891.7 495.7,894.0 495.7,896.0Z" fill="#1f78c1"/><ellipse cx="488.4" cy="889.0" rx="0.7" ry="2.7" fill="#ffffff" fill-opacity="0.80"/><ellipse cx="487.9" cy="904.3" rx="0.7" ry="2.1" fill="#ffffff" fill-opacity="0.80"/><ellipse cx="493.1" cy="895.1" rx="1.0" ry="3.4" fill="#ffffff" fill-opacity="0.80"/><path d="M516.9,901.0 C516.8,902.7 515.7,904.6 514.9,905.9 C514.0,907.3 513.0,908.2 511.8,909.2 C510.7,910.2 509.3,911.8 508.0,911.9 C506.7,912.0 505.1,910.8 503.9,909.9 C502.7,908.9 501.4,907.7 500.7,906.2 C499.9,904.7 499.4,902.8 499.3,901.0 C499.3,899.2 499.6,896.9 500.4,895.5 C501.1,894.1 502.8,893.3 504.1,892.6 C505.3,891.8 506.6,891.3 508.0,891.0 C509.4,890.8 511.4,890.4 512.6,891.2 C513.8,892.0 514.5,894.2 515.3,895.8 C516.0,897.4 516.9,899.3 516.9,901.0Z" fill="#9ab43e"/><ellipse cx="505.5" cy="902.8" rx="0.7" ry="3.8" fill="#ffffff" fill-opacity="0.80"/><ellipse cx="502.5" cy="905.6" rx="0.8" ry="2.6" fill="#ffffff" fill-opacity="0.80"/><ellipse cx="513.3" cy="897.7" rx="0.6" ry="1.7" fill="#ffffff" fill-opacity="0.80"/><path d="M505.3,920.5 C505.3,921.5 505.2,922.7 504.8,923.5 C504.4,924.4 503.5,925.2 502.7,925.6 C501.9,926.0 500.9,926.0 500.0,926.0 C499.1,926.1 497.9,926.3 497.2,925.8 C496.5,925.3 496.3,923.9 495.9,923.1 C495.6,922.2 495.1,921.4 495.0,920.5 C494.9,919.6 495.0,918.5 495.3,917.6 C495.7,916.7 496.3,915.5 497.1,915.0 C497.9,914.6 499.1,914.6 500.0,914.7 C500.9,914.7 501.9,914.9 502.7,915.4 C503.5,915.8 504.4,916.6 504.8,917.5 C505.2,918.3 505.3,919.5 505.3,920.5Z" fill="#1f78c1"/><ellipse cx="499.4" cy="922.7" rx="0.9" ry="2.5" fill="#ffffff" fill-opacity="0.80"/><path d="M497.1,944.0 C497.3,945.7 497.4,948.1 496.7,949.5 C496.1,951.0 494.3,951.9 493.0,952.6 C491.7,953.3 490.4,953.3 489.0,953.5 C487.6,953.7 485.7,954.4 484.5,953.7 C483.3,953.0 482.4,950.8 481.7,949.2 C481.1,947.6 480.7,945.8 480.6,944.0 C480.6,942.2 480.9,940.3 481.5,938.6 C482.1,937.0 483.2,934.9 484.4,934.2 C485.7,933.5 487.6,934.4 489.0,934.6 C490.4,934.8 491.9,934.6 493.0,935.4 C494.1,936.2 494.8,938.0 495.5,939.4 C496.1,940.8 496.9,942.3 497.1,944.0Z" fill="#1f78c1"/><ellipse cx="488.0" cy="944.0" rx="1.0" ry="3.5" fill="#ffffff" fill-opacity="0.80"/><ellipse cx="489.9" cy="942.7" rx="0.8" ry="2.3" fill="#ffffff" fill-opacity="0.80"/><ellipse cx="493.1" cy="948.0" rx="1.0" ry="2.0" fill="#ffffff" fill-opacity="0.80"/><path d="M519.7,944.0 C519.8,945.8 519.4,948.0 518.6,949.5 C517.8,951.0 516.1,952.0 514.7,952.9 C513.2,953.9 511.6,955.1 510.0,955.3 C508.4,955.4 506.3,954.7 504.9,953.8 C503.4,952.8 502.2,951.1 501.4,949.5 C500.6,947.8 499.9,945.8 499.9,944.0 C499.9,942.2 500.8,940.3 501.6,938.7 C502.4,937.0 503.5,934.9 504.9,934.3 C506.3,933.6 508.3,934.5 510.0,934.6 C511.7,934.7 513.5,934.0 514.9,934.6 C516.3,935.3 517.7,937.0 518.5,938.6 C519.3,940.2 519.7,942.2 519.7,944.0Z" fill="#9ab43e"/><ellipse cx="511.6" cy="940.9" rx="0.5" ry="3.3" fill="#ffffff" fill-opacity="0.80"/><ellipse cx="514.5" cy="940.8" rx="0.6" ry="2.2" fill="#ffffff" fill-opacity="0.80"/><ellipse cx="504.3" cy="946.5" rx="1.1" ry="3.9" fill="#ffffff" fill-opacity="0.80"/><ellipse cx="508.0" cy="946.8" rx="0.5" ry="4.0" fill="#ffffff" fill-opacity="0.80"/><path d="M499.0,976.0 C498.9,978.3 498.0,980.5 497.3,982.8 C496.7,985.1 496.3,988.6 495.3,989.8 C494.2,991.0 492.4,990.3 491.0,990.1 C489.6,989.9 488.1,989.9 487.1,988.7 C486.0,987.5 485.3,985.0 484.6,982.9 C483.8,980.8 482.9,978.5 482.8,976.0 C482.6,973.5 483.1,970.6 483.7,968.2 C484.3,965.8 485.3,962.6 486.5,961.6 C487.7,960.6 489.5,962.3 491.0,962.3 C492.5,962.2 494.4,960.4 495.5,961.6 C496.6,962.7 497.0,966.6 497.5,969.0 C498.1,971.4 499.0,973.7 499.0,976.0Z" fill="#9ab43e"/><ellipse cx="487.7" cy="979.1" rx="0.7" ry="2.5" fill="#ffffff" fill-opacity="0.80"/><ellipse cx="491.8" cy="969.2" rx="1.0" ry="2.1" fill="#ffffff" fill-opacity="0.80"/><ellipse cx="495.1" cy="983.4" rx="0.8" ry="1.6" fill="#ffffff" fill-opacity="0.80"/><ellipse cx="494.3" cy="964.7" rx="0.8" ry="2.8" fill="#ffffff" fill-opacity="0.80"/><ellipse cx="485.8" cy="979.1" rx="0.9" ry="3.3" fill="#ffffff" fill-opacity="0.80"/><path d="M516.1,976.0 C516.1,978.6 515.9,981.5 515.2,983.7 C514.6,986.0 513.5,988.6 512.2,989.7 C511.0,990.8 509.5,990.3 508.0,990.4 C506.5,990.6 504.8,991.5 503.5,990.6 C502.1,989.6 500.7,987.1 499.9,984.6 C499.2,982.2 499.1,978.9 499.1,976.0 C499.1,973.1 499.2,969.6 500.0,967.4 C500.8,965.3 502.7,964.6 504.0,963.2 C505.3,961.7 506.7,958.6 508.0,958.7 C509.3,958.9 510.5,962.4 511.7,964.0 C512.9,965.6 514.4,966.3 515.2,968.3 C515.9,970.3 516.1,973.4 516.1,976.0Z" fill="#1f78c1"/><ellipse cx="503.6" cy="974.9" rx="0.9" ry="3.6" fill="#ffffff" fill-opacity="0.80"/><ellipse cx="507.5" cy="972.2" rx="0.6" ry="2.7" fill="#ffffff" fill-opacity="0.80"/><ellipse cx="505.4" cy="968.7" rx="0.9" ry="3.0" fill="#ffffff" fill-opacity="0.80"/><ellipse cx="507.3" cy="968.7" rx="0.9" ry="2.1" fill="#ffffff" fill-opacity="0.80"/><ellipse cx="505.2" cy="977.4" rx="0.9" ry="4.4" fill="#ffffff" fill-opacity="0.80"/><path d="M498.9,1011.5 C499.1,1013.9 498.8,1017.0 498.0,1019.2 C497.2,1021.4 495.6,1023.6 494.2,1024.8 C492.7,1025.9 490.7,1026.2 489.0,1026.1 C487.3,1026.1 485.3,1025.6 484.1,1024.2 C482.9,1022.8 482.4,1019.8 481.7,1017.7 C481.1,1015.6 480.3,1013.6 480.3,1011.5 C480.3,1009.4 481.2,1007.5 481.8,1005.4 C482.4,1003.2 482.7,999.8 483.9,998.4 C485.1,997.0 487.3,996.7 489.0,996.9 C490.7,997.0 492.6,997.7 493.8,999.1 C495.1,1000.4 495.8,1002.9 496.6,1004.9 C497.5,1007.0 498.7,1009.1 498.9,1011.5Z" fill="#1f78c1"/><ellipse cx="487.0" cy="1004.4" rx="0.9" ry="4.5" fill="#ffffff" fill-opacity="0.80"/><ellipse cx="486.3" cy="1001.9" rx="0.6" ry="2.6" fill="#ffffff" fill-opacity="0.80"/><ellipse cx="494.6" cy="1017.9" rx="0.8" ry="1.8" fill="#ffffff" fill-opacity="0.80"/><ellipse cx="483.5" cy="1004.2" rx="1.0" ry="2.9" fill="#ffffff" fill-opacity="0.80"/><ellipse cx="495.9" cy="1020.1" rx="1.0" ry="2.9" fill="#ffffff" fill-opacity="0.80"/><path d="M534.9,1011.5 C534.4,1013.8 531.9,1016.0 530.1,1017.8 C528.4,1019.7 526.7,1021.1 524.5,1022.4 C522.4,1023.7 519.6,1025.4 517.0,1025.6 C514.4,1025.8 510.9,1024.8 508.7,1023.6 C506.4,1022.3 504.8,1020.0 503.6,1018.0 C502.4,1016.0 501.2,1013.6 501.4,1011.5 C501.5,1009.4 503.2,1007.6 504.2,1005.3 C505.3,1003.1 505.7,999.7 507.9,998.3 C510.0,996.9 513.9,996.9 517.0,996.9 C520.1,996.9 523.5,997.0 526.2,998.2 C528.9,999.3 531.6,1001.5 533.1,1003.7 C534.5,1006.0 535.4,1009.2 534.9,1011.5Z" fill="#9ab43e"/><ellipse cx="515.2" cy="1016.4" rx="0.7" ry="3.9" fill="#ffffff" fill-opacity="0.80"/><ellipse cx="526.6" cy="1003.8" rx="0.5" ry="2.1" fill="#ffffff" fill-opacity="0.80"/><ellipse cx="519.4" cy="1009.0" rx="0.5" ry="4.0" fill="#ffffff" fill-opacity="0.80"/><ellipse cx="525.0" cy="1010.7" rx="0.5" ry="4.2" fill="#ffffff" fill-opacity="0.80"/><ellipse cx="518.0" cy="1002.5" rx="0.7" ry="3.4" fill="#ffffff" fill-opacity="0.80"/><ellipse cx="527.8" cy="1011.2" rx="0.9" ry="2.1" fill="#ffffff" fill-opacity="0.80"/><ellipse cx="509.8" cy="1020.0" rx="0.7" ry="1.8" fill="#ffffff" fill-opacity="0.80"/><ellipse cx="519.6" cy="1003.7" rx="0.6" ry="2.9" fill="#ffffff" fill-opacity="0.80"/><ellipse cx="519.4" cy="1014.4" rx="0.9" ry="2.8" fill="#ffffff" fill-opacity="0.80"/><path d="M498.2,1063.5 C498.5,1066.8 499.3,1071.5 498.4,1074.1 C497.5,1076.7 494.7,1077.5 492.8,1079.0 C491.0,1080.6 489.4,1083.2 487.5,1083.4 C485.6,1083.7 483.5,1082.1 481.7,1080.5 C479.9,1078.9 477.8,1076.8 476.7,1074.0 C475.6,1071.1 474.7,1066.8 474.9,1063.5 C475.1,1060.2 476.7,1057.1 477.8,1054.1 C478.9,1051.1 479.7,1047.4 481.3,1045.5 C482.9,1043.5 485.5,1042.4 487.5,1042.5 C489.5,1042.6 491.9,1044.3 493.4,1046.2 C495.0,1048.2 496.2,1051.4 497.0,1054.3 C497.8,1057.2 498.0,1060.2 498.2,1063.5Z" fill="#1f78c1"/><ellipse cx="495.3" cy="1066.8" rx="0.5" ry="2.2" fill="#ffffff" fill-opacity="0.80"/><ellipse cx="496.8" cy="1054.5" rx="0.7" ry="3.9" fill="#ffffff" fill-opacity="0.80"/><ellipse cx="493.7" cy="1067.9" rx="0.9" ry="1.6" fill="#ffffff" fill-opacity="0.80"/><ellipse cx="479.8" cy="1079.2" rx="1.0" ry="1.6" fill="#ffffff" fill-opacity="0.80"/><ellipse cx="478.9" cy="1054.9" rx="1.1" ry="2.2" fill="#ffffff" fill-opacity="0.80"/><ellipse cx="490.8" cy="1077.7" rx="0.9" ry="4.3" fill="#ffffff" fill-opacity="0.80"/><ellipse cx="483.0" cy="1052.1" rx="0.5" ry="3.8" fill="#ffffff" fill-opacity="0.80"/><ellipse cx="480.0" cy="1079.1" rx="0.9" ry="2.1" fill="#ffffff" fill-opacity="0.80"/><ellipse cx="493.3" cy="1052.4" rx="0.8" ry="1.8" fill="#ffffff" fill-opacity="0.80"/><path d="M547.5,1063.5 C548.2,1066.8 546.7,1071.3 544.7,1074.5 C542.6,1077.7 539.1,1081.5 535.4,1082.6 C531.7,1083.7 526.8,1081.2 522.5,1081.2 C518.2,1081.1 513.2,1083.6 509.8,1082.4 C506.4,1081.1 504.0,1076.8 502.0,1073.7 C499.9,1070.5 497.3,1066.9 497.3,1063.5 C497.3,1060.1 500.0,1056.4 502.2,1053.5 C504.4,1050.5 507.1,1047.4 510.5,1045.6 C513.8,1043.9 518.4,1043.1 522.5,1043.0 C526.6,1042.8 532.0,1042.9 535.0,1044.9 C538.1,1046.8 538.6,1051.4 540.7,1054.5 C542.8,1057.6 546.9,1060.2 547.5,1063.5Z" fill="#9ab43e"/><ellipse cx="504.2" cy="1065.0" rx="0.7" ry="2.7" fill="#ffffff" fill-opacity="0.80"/><ellipse cx="502.3" cy="1071.6" rx="0.5" ry="4.0" fill="#ffffff" fill-opacity="0.80"/><ellipse cx="535.3" cy="1062.1" rx="0.6" ry="3.5" fill="#ffffff" fill-opacity="0.80"/><ellipse cx="510.5" cy="1061.2" rx="0.6" ry="4.4" fill="#ffffff" fill-opacity="0.80"/><ellipse cx="524.4" cy="1058.6" rx="0.6" ry="3.7" fill="#ffffff" fill-opacity="0.80"/><ellipse cx="536.8" cy="1075.0" rx="0.6" ry="2.6" fill="#ffffff" fill-opacity="0.80"/><ellipse cx="514.4" cy="1072.2" rx="0.6" ry="3.3" fill="#ffffff" fill-opacity="0.80"/><ellipse cx="542.1" cy="1072.4" rx="0.5" ry="1.7" fill="#ffffff" fill-opacity="0.80"/><ellipse cx="506.7" cy="1069.9" rx="0.9" ry="3.1" fill="#ffffff" fill-opacity="0.80"/><ellipse cx="520.7" cy="1060.4" rx="0.9" ry="3.4" fill="#ffffff" fill-opacity="0.80"/><ellipse cx="539.6" cy="1071.2" rx="1.0" ry="4.2" fill="#ffffff" fill-opacity="0.80"/><ellipse cx="536.3" cy="1070.7" rx="0.5" ry="3.5" fill="#ffffff" fill-opacity="0.80"/><ellipse cx="536.8" cy="1061.2" rx="1.0" ry="2.0" fill="#ffffff" fill-opacity="0.80"/><ellipse cx="540.7" cy="1061.6" rx="0.9" ry="2.3" fill="#ffffff" fill-opacity="0.80"/><ellipse cx="514.3" cy="1058.5" rx="0.7" ry="1.8" fill="#ffffff" fill-opacity="0.80"/><ellipse cx="520.2" cy="1079.4" rx="0.9" ry="4.3" fill="#ffffff" fill-opacity="0.80"/><ellipse cx="533.3" cy="1074.6" rx="1.1" ry="3.8" fill="#ffffff" fill-opacity="0.80"/><ellipse cx="513.2" cy="1055.2" rx="0.7" ry="1.6" fill="#ffffff" fill-opacity="0.80"/><ellipse cx="511.5" cy="1076.2" rx="1.1" ry="2.5" fill="#ffffff" fill-opacity="0.80"/><path d="M497.2,1102.0 C497.1,1104.8 496.0,1107.8 494.2,1110.2 C492.3,1112.7 489.4,1115.2 486.2,1116.6 C482.9,1118.0 478.2,1118.7 474.5,1118.5 C470.8,1118.4 466.5,1117.1 463.8,1115.5 C461.0,1113.9 459.8,1111.2 457.8,1109.0 C455.7,1106.7 451.7,1104.4 451.5,1102.0 C451.4,1099.6 454.9,1096.9 456.9,1094.6 C458.9,1092.3 460.6,1089.5 463.5,1088.2 C466.5,1086.9 470.9,1087.0 474.5,1087.0 C478.1,1087.1 481.8,1087.4 485.3,1088.5 C488.7,1089.6 493.0,1091.2 495.0,1093.4 C497.0,1095.7 497.3,1099.2 497.2,1102.0Z" fill="#9ab43e"/><ellipse cx="462.0" cy="1102.7" rx="0.9" ry="3.1" fill="#ffffff" fill-opacity="0.80"/><ellipse cx="490.7" cy="1099.8" rx="1.0" ry="3.6" fill="#ffffff" fill-opacity="0.80"/><ellipse cx="491.8" cy="1092.2" rx="0.6" ry="2.4" fill="#ffffff" fill-opacity="0.80"/><ellipse cx="489.5" cy="1090.3" rx="0.7" ry="3.6" fill="#ffffff" fill-opacity="0.80"/><ellipse cx="492.6" cy="1094.2" rx="0.8" ry="3.6" fill="#ffffff" fill-opacity="0.80"/><ellipse cx="481.6" cy="1107.9" rx="1.0" ry="2.2" fill="#ffffff" fill-opacity="0.80"/><ellipse cx="465.5" cy="1090.7" rx="0.9" ry="2.1" fill="#ffffff" fill-opacity="0.80"/><ellipse cx="465.6" cy="1113.1" rx="0.9" ry="3.3" fill="#ffffff" fill-opacity="0.80"/><ellipse cx="480.3" cy="1104.3" rx="0.9" ry="2.4" fill="#ffffff" fill-opacity="0.80"/><ellipse cx="458.4" cy="1091.6" rx="0.5" ry="2.6" fill="#ffffff" fill-opacity="0.80"/><ellipse cx="461.3" cy="1092.7" rx="0.8" ry="4.4" fill="#ffffff" fill-opacity="0.80"/><ellipse cx="481.4" cy="1096.6" rx="1.0" ry="2.0" fill="#ffffff" fill-opacity="0.80"/><ellipse cx="459.7" cy="1097.3" rx="0.7" ry="3.6" fill="#ffffff" fill-opacity="0.80"/><path d="M536.5,1100.0 C536.6,1102.5 536.8,1105.7 535.0,1107.6 C533.2,1109.5 528.7,1109.9 525.7,1111.3 C522.6,1112.7 519.7,1115.8 516.5,1115.9 C513.3,1116.0 509.9,1113.4 506.7,1112.0 C503.6,1110.7 498.9,1109.8 497.5,1107.8 C496.2,1105.8 498.5,1102.6 498.5,1100.0 C498.5,1097.4 496.1,1094.2 497.6,1092.2 C499.0,1090.3 503.9,1089.6 507.0,1088.3 C510.2,1087.0 513.1,1084.6 516.5,1084.4 C519.9,1084.1 524.3,1085.2 527.4,1086.6 C530.4,1088.0 533.3,1090.3 534.8,1092.5 C536.3,1094.7 536.5,1097.5 536.5,1100.0Z" fill="#1f78c1"/><ellipse cx="508.7" cy="1089.2" rx="0.6" ry="4.2" fill="#ffffff" fill-opacity="0.80"/><ellipse cx="504.5" cy="1103.5" rx="0.9" ry="3.5" fill="#ffffff" fill-opacity="0.80"/><ellipse cx="505.3" cy="1092.2" rx="0.6" ry="4.4" fill="#ffffff" fill-opacity="0.80"/><ellipse cx="512.4" cy="1103.3" rx="0.8" ry="2.2" fill="#ffffff" fill-opacity="0.80"/><ellipse cx="501.3" cy="1089.3" rx="1.0" ry="1.9" fill="#ffffff" fill-opacity="0.80"/><ellipse cx="532.7" cy="1097.0" rx="0.9" ry="1.9" fill="#ffffff" fill-opacity="0.80"/><ellipse cx="526.6" cy="1094.5" rx="0.7" ry="3.1" fill="#ffffff" fill-opacity="0.80"/><ellipse cx="502.9" cy="1094.5" rx="1.0" ry="2.4" fill="#ffffff" fill-opacity="0.80"/><ellipse cx="512.3" cy="1105.8" rx="0.6" ry="2.1" fill="#ffffff" fill-opacity="0.80"/><ellipse cx="506.7" cy="1097.5" rx="0.7" ry="3.4" fill="#ffffff" fill-opacity="0.80"/><ellipse cx="515.5" cy="1108.1" rx="0.5" ry="3.5" fill="#ffffff" fill-opacity="0.80"/><ellipse cx="528.3" cy="1094.2" rx="0.5" ry="2.8" fill="#ffffff" fill-opacity="0.80"/><path d="M505.7,1129.0 C505.8,1131.5 505.8,1134.3 505.5,1136.7 C505.2,1139.0 504.6,1142.0 504.0,1143.1 C503.3,1144.1 502.3,1143.3 501.5,1142.9 C500.7,1142.6 500.0,1142.2 499.4,1141.2 C498.7,1140.1 497.8,1138.7 497.5,1136.7 C497.1,1134.7 497.1,1131.5 497.2,1129.0 C497.2,1126.5 497.4,1124.0 497.7,1121.8 C498.0,1119.6 498.6,1116.9 499.2,1115.8 C499.8,1114.7 500.8,1114.8 501.5,1115.0 C502.2,1115.2 502.9,1115.9 503.6,1117.0 C504.3,1118.1 505.1,1119.5 505.4,1121.5 C505.8,1123.5 505.7,1126.5 505.7,1129.0Z" fill="#1f78c1"/><ellipse cx="501.3" cy="1139.5" rx="0.8" ry="1.7" fill="#ffffff" fill-opacity="0.80"/><ellipse cx="500.1" cy="1134.9" rx="0.8" ry="4.1" fill="#ffffff" fill-opacity="0.80"/><ellipse cx="503.8" cy="1137.6" rx="0.6" ry="4.3" fill="#ffffff" fill-opacity="0.80"/><path d="M499.3,1158.0 C499.2,1160.3 498.7,1162.8 498.1,1164.8 C497.6,1166.7 496.9,1168.0 496.1,1169.5 C495.4,1171.0 494.4,1173.7 493.5,1173.7 C492.6,1173.7 491.6,1171.2 490.8,1169.6 C490.1,1168.1 489.5,1166.4 489.0,1164.5 C488.6,1162.6 488.3,1160.4 488.1,1158.0 C487.9,1155.6 487.6,1152.1 488.0,1150.1 C488.5,1148.0 489.8,1146.8 490.7,1145.6 C491.6,1144.4 492.6,1142.6 493.5,1142.8 C494.4,1143.0 495.3,1145.4 496.1,1146.8 C496.9,1148.1 497.9,1149.0 498.4,1150.9 C498.9,1152.7 499.3,1155.7 499.3,1158.0Z" fill="#9ab43e"/><ellipse cx="492.2" cy="1151.5" rx="0.9" ry="2.6" fill="#ffffff" fill-opacity="0.80"/><ellipse cx="490.8" cy="1168.7" rx="0.8" ry="2.0" fill="#ffffff" fill-opacity="0.80"/><ellipse cx="490.1" cy="1161.4" rx="0.8" ry="1.6" fill="#ffffff" fill-opacity="0.80"/><path d="M508.1,1161.0 C508.1,1163.0 508.1,1165.3 507.8,1167.0 C507.5,1168.6 506.7,1170.1 506.1,1170.9 C505.5,1171.7 504.7,1171.6 504.0,1171.6 C503.3,1171.6 502.5,1171.6 501.9,1170.8 C501.3,1170.0 500.7,1168.4 500.3,1166.8 C499.9,1165.2 499.6,1162.8 499.7,1161.0 C499.8,1159.2 500.4,1157.6 500.7,1155.8 C501.1,1154.1 501.2,1151.7 501.8,1150.5 C502.3,1149.2 503.3,1148.4 504.0,1148.5 C504.7,1148.5 505.5,1149.6 506.2,1150.6 C506.9,1151.7 507.6,1153.1 507.9,1154.8 C508.2,1156.6 508.1,1159.0 508.1,1161.0Z" fill="#1f78c1"/><ellipse cx="503.5" cy="1167.4" rx="0.6" ry="2.2" fill="#ffffff" fill-opacity="0.80"/><rect x="462.2" y="985.0" width="2.4" height="10.8" fill="#1f78c1"/><rect x="462.2" y="1004.3" width="2.4" height="6.7" fill="#1f78c1"/><rect x="462.2" y="1016.0" width="2.4" height="6.3" fill="#1f78c1"/><rect x="462.2" y="1028.5" width="2.4" height="7.1" fill="#1f78c1"/><rect x="462.2" y="1040.6" width="2.4" height="12.0" fill="#1f78c1"/><rect x="462.2" y="1059.5" width="2.4" height="13.5" fill="#1f78c1"/><rect x="462.2" y="1079.0" width="2.4" height="11.4" fill="#1f78c1"/><rect x="462.2" y="1094.5" width="2.4" height="13.6" fill="#1f78c1"/><rect x="462.2" y="1113.3" width="2.4" height="9.8" fill="#1f78c1"/><rect x="462.2" y="1129.7" width="2.4" height="13.6" fill="#1f78c1"/><rect x="462.2" y="1149.7" width="2.4" height="13.9" fill="#1f78c1"/><rect x="462.2" y="1170.7" width="2.4" height="7.7" fill="#1f78c1"/><rect x="530.4" y="985.0" width="2.4" height="7.6" fill="#1f78c1"/><rect x="530.4" y="1001.6" width="2.4" height="9.7" fill="#1f78c1"/><rect x="530.4" y="1016.4" width="2.4" height="13.7" fill="#1f78c1"/><rect x="530.4" y="1035.7" width="2.4" height="9.3" fill="#1f78c1"/><rect x="530.4" y="1050.7" width="2.4" height="11.3" fill="#1f78c1"/><rect x="530.4" y="1066.1" width="2.4" height="9.0" fill="#1f78c1"/><rect x="530.4" y="1079.9" width="2.4" height="12.6" fill="#1f78c1"/><rect x="530.4" y="1096.6" width="2.4" height="10.9" fill="#1f78c1"/><rect x="530.4" y="1112.7" width="2.4" height="9.6" fill="#1f78c1"/><rect x="530.4" y="1129.2" width="2.4" height="11.7" fill="#1f78c1"/><rect x="530.4" y="1145.5" width="2.4" height="7.9" fill="#1f78c1"/><rect x="530.4" y="1158.1" width="2.4" height="13.7" fill="#1f78c1"/><rect x="464.3" y="985.0" width="2.4" height="7.1" fill="#9ab43e"/><rect x="464.3" y="998.7" width="2.4" height="10.7" fill="#9ab43e"/><rect x="464.3" y="1017.8" width="2.4" height="6.5" fill="#9ab43e"/><rect x="464.3" y="1029.4" width="2.4" height="7.3" fill="#9ab43e"/><rect x="464.3" y="1043.7" width="2.4" height="9.6" fill="#9ab43e"/><rect x="464.3" y="1059.4" width="2.4" height="13.1" fill="#9ab43e"/><rect x="464.3" y="1079.8" width="2.4" height="12.9" fill="#9ab43e"/><rect x="464.3" y="1101.4" width="2.4" height="8.2" fill="#9ab43e"/><rect x="464.3" y="1118.3" width="2.4" height="9.3" fill="#9ab43e"/><rect x="464.3" y="1131.8" width="2.4" height="13.3" fill="#9ab43e"/><rect x="464.3" y="1149.7" width="2.4" height="6.1" fill="#9ab43e"/><rect x="464.3" y="1161.2" width="2.4" height="8.3" fill="#9ab43e"/><rect x="528.3" y="985.0" width="2.4" height="13.0" fill="#9ab43e"/><rect x="528.3" y="1004.1" width="2.4" height="10.2" fill="#9ab43e"/><rect x="528.3" y="1022.5" width="2.4" height="12.5" fill="#9ab43e"/><rect x="528.3" y="1042.3" width="2.4" height="10.1" fill="#9ab43e"/><rect x="528.3" y="1057.0" width="2.4" height="7.9" fill="#9ab43e"/><rect x="528.3" y="1072.2" width="2.4" height="10.7" fill="#9ab43e"/><rect x="528.3" y="1090.9" width="2.4" height="13.2" fill="#9ab43e"/><rect x="528.3" y="1112.9" width="2.4" height="7.5" fill="#9ab43e"/><rect x="528.3" y="1124.8" width="2.4" height="13.2" fill="#9ab43e"/><rect x="528.3" y="1144.8" width="2.4" height="7.5" fill="#9ab43e"/><rect x="528.3" y="1159.8" width="2.4" height="8.0" fill="#9ab43e"/><line x1="499.5" y1="150" x2="499.5" y2="1172" stroke="#9ab43e" stroke-width="1.5" opacity="0.7"/><ellipse cx="547.0" cy="786.7" rx="2.0" ry="6.2" fill="#1f78c1"/><ellipse cx="397.0" cy="634.9" rx="2.1" ry="5.6" fill="#9ab43e"/><ellipse cx="432.0" cy="1127.7" rx="1.5" ry="4.7" fill="#9ab43e"/><ellipse cx="591.4" cy="361.3" rx="2.4" ry="6.6" fill="#1f78c1"/><ellipse cx="442.7" cy="900.0" rx="2.0" ry="6.1" fill="#1f78c1"/><ellipse cx="421.2" cy="377.0" rx="1.5" ry="3.1" fill="#1f78c1"/><ellipse cx="422.9" cy="564.3" rx="1.3" ry="5.3" fill="#1f78c1"/><ellipse cx="588.2" cy="738.5" rx="2.0" ry="4.7" fill="#1f78c1"/><ellipse cx="431.0" cy="641.3" rx="2.0" ry="3.6" fill="#1f78c1"/><ellipse cx="552.2" cy="1002.3" rx="2.0" ry="5.8" fill="#9ab43e"/><ellipse cx="593.1" cy="350.2" rx="1.6" ry="4.0" fill="#9ab43e"/><ellipse cx="563.4" cy="763.1" rx="2.3" ry="5.4" fill="#9ab43e"/><ellipse cx="435.7" cy="165.3" rx="2.1" ry="4.1" fill="#9ab43e"/><ellipse cx="409.4" cy="154.8" rx="2.0" ry="3.0" fill="#1f78c1"/><ellipse cx="442.1" cy="420.4" rx="2.4" ry="3.1" fill="#9ab43e"/><ellipse cx="418.4" cy="1103.3" rx="1.4" ry="4.3" fill="#9ab43e"/><ellipse cx="448.0" cy="206.1" rx="1.4" ry="3.4" fill="#1f78c1"/><ellipse cx="448.9" cy="957.6" rx="1.6" ry="5.0" fill="#9ab43e"/><ellipse cx="433.6" cy="1097.5" rx="1.3" ry="3.6" fill="#9ab43e"/><ellipse cx="542.0" cy="384.0" rx="2.2" ry="3.4" fill="#9ab43e"/><ellipse cx="540.1" cy="970.1" rx="1.5" ry="3.4" fill="#9ab43e"/><ellipse cx="423.3" cy="346.6" rx="1.3" ry="5.5" fill="#9ab43e"/><ellipse cx="444.4" cy="413.7" rx="1.8" ry="5.9" fill="#1f78c1"/><ellipse cx="401.3" cy="888.8" rx="1.5" ry="5.6" fill="#1f78c1"/><ellipse cx="579.9" cy="358.7" rx="2.0" ry="4.0" fill="#1f78c1"/><ellipse cx="427.3" cy="380.8" rx="2.2" ry="5.9" fill="#9ab43e"/><ellipse cx="591.5" cy="960.2" rx="1.6" ry="5.9" fill="#1f78c1"/><ellipse cx="406.4" cy="771.4" rx="1.3" ry="5.1" fill="#1f78c1"/><ellipse cx="426.0" cy="1100.3" rx="1.8" ry="3.8" fill="#9ab43e"/><ellipse cx="419.5" cy="666.9" rx="1.6" ry="5.9" fill="#9ab43e"/><ellipse cx="416.8" cy="221.5" rx="1.8" ry="4.0" fill="#1f78c1"/><ellipse cx="541.0" cy="935.7" rx="1.7" ry="6.7" fill="#1f78c1"/><ellipse cx="586.5" cy="781.1" rx="1.7" ry="5.5" fill="#1f78c1"/><ellipse cx="452.1" cy="188.1" rx="2.3" ry="3.5" fill="#9ab43e"/><ellipse cx="548.9" cy="936.2" rx="1.3" ry="4.6" fill="#1f78c1"/><ellipse cx="414.3" cy="1132.8" rx="1.5" ry="6.1" fill="#1f78c1"/><ellipse cx="422.7" cy="258.7" rx="1.4" ry="5.1" fill="#1f78c1"/><ellipse cx="565.8" cy="322.5" rx="2.1" ry="4.7" fill="#1f78c1"/><ellipse cx="444.8" cy="1141.2" rx="1.5" ry="6.0" fill="#1f78c1"/><ellipse cx="577.8" cy="1072.3" rx="2.3" ry="5.4" fill="#1f78c1"/><ellipse cx="454.2" cy="624.5" rx="2.1" ry="3.5" fill="#9ab43e"/><ellipse cx="434.7" cy="1127.4" rx="2.2" ry="4.4" fill="#1f78c1"/><ellipse cx="445.8" cy="410.3" rx="2.4" ry="3.6" fill="#1f78c1"/><ellipse cx="570.2" cy="477.7" rx="2.1" ry="4.4" fill="#1f78c1"/><ellipse cx="433.4" cy="576.8" rx="2.2" ry="5.3" fill="#9ab43e"/><ellipse cx="397.1" cy="928.7" rx="2.3" ry="6.8" fill="#9ab43e"/><ellipse cx="562.9" cy="421.3" rx="1.6" ry="4.4" fill="#1f78c1"/><ellipse cx="441.6" cy="1077.7" rx="2.0" ry="6.5" fill="#1f78c1"/><ellipse cx="549.9" cy="399.3" rx="2.2" ry="7.0" fill="#9ab43e"/><ellipse cx="544.3" cy="919.9" rx="1.5" ry="5.6" fill="#9ab43e"/><ellipse cx="422.4" cy="699.9" rx="2.2" ry="4.4" fill="#1f78c1"/><ellipse cx="568.0" cy="1014.8" rx="1.4" ry="6.8" fill="#9ab43e"/><ellipse cx="547.6" cy="840.5" rx="1.3" ry="6.5" fill="#9ab43e"/><ellipse cx="555.4" cy="1037.2" rx="1.6" ry="4.0" fill="#1f78c1"/><ellipse cx="415.6" cy="483.7" rx="2.2" ry="3.9" fill="#1f78c1"/><ellipse cx="409.5" cy="219.0" rx="1.4" ry="4.8" fill="#9ab43e"/><ellipse cx="590.6" cy="466.1" rx="2.3" ry="4.9" fill="#9ab43e"/><ellipse cx="579.4" cy="898.4" rx="2.2" ry="5.3" fill="#1f78c1"/><ellipse cx="416.7" cy="749.2" rx="1.8" ry="4.9" fill="#9ab43e"/><ellipse cx="591.5" cy="859.8" rx="2.3" ry="3.1" fill="#1f78c1"/><ellipse cx="542.1" cy="587.9" rx="1.8" ry="6.3" fill="#1f78c1"/><ellipse cx="556.7" cy="513.7" rx="2.1" ry="6.2" fill="#1f78c1"/><ellipse cx="439.9" cy="1050.8" rx="1.7" ry="4.5" fill="#9ab43e"/><ellipse cx="540.5" cy="1098.4" rx="1.6" ry="4.3" fill="#1f78c1"/><ellipse cx="545.1" cy="340.6" rx="1.8" ry="5.7" fill="#9ab43e"/><ellipse cx="424.4" cy="1125.8" rx="1.9" ry="6.2" fill="#9ab43e"/><ellipse cx="432.6" cy="1078.4" rx="2.1" ry="6.5" fill="#9ab43e"/><ellipse cx="437.5" cy="173.9" rx="2.3" ry="6.6" fill="#9ab43e"/><ellipse cx="590.8" cy="671.0" rx="1.9" ry="3.6" fill="#9ab43e"/><ellipse cx="448.1" cy="431.5" rx="1.8" ry="4.9" fill="#1f78c1"/><ellipse cx="413.9" cy="155.8" rx="2.1" ry="6.0" fill="#1f78c1"/><ellipse cx="443.6" cy="410.7" rx="1.4" ry="5.4" fill="#9ab43e"/><ellipse cx="580.3" cy="356.0" rx="2.1" ry="6.0" fill="#9ab43e"/><ellipse cx="541.0" cy="874.8" rx="2.2" ry="6.7" fill="#1f78c1"/><ellipse cx="405.8" cy="1113.0" rx="1.3" ry="3.3" fill="#1f78c1"/><ellipse cx="558.4" cy="841.2" rx="1.8" ry="5.6" fill="#1f78c1"/><ellipse cx="599.5" cy="492.8" rx="1.5" ry="3.8" fill="#9ab43e"/><ellipse cx="428.1" cy="568.3" rx="1.6" ry="3.6" fill="#9ab43e"/><ellipse cx="439.8" cy="236.7" rx="1.6" ry="5.0" fill="#1f78c1"/><ellipse cx="432.6" cy="639.3" rx="2.4" ry="4.9" fill="#1f78c1"/><ellipse cx="588.7" cy="630.9" rx="1.9" ry="3.6" fill="#1f78c1"/><ellipse cx="429.7" cy="224.8" rx="2.4" ry="4.6" fill="#9ab43e"/><ellipse cx="572.2" cy="734.0" rx="2.2" ry="5.9" fill="#1f78c1"/><ellipse cx="583.6" cy="559.7" rx="1.6" ry="5.2" fill="#1f78c1"/><ellipse cx="589.6" cy="298.2" rx="2.2" ry="6.2" fill="#1f78c1"/><ellipse cx="432.4" cy="267.7" rx="2.2" ry="3.1" fill="#9ab43e"/><ellipse cx="578.5" cy="506.8" rx="2.3" ry="5.6" fill="#9ab43e"/><ellipse cx="556.1" cy="415.8" rx="1.7" ry="4.5" fill="#1f78c1"/><ellipse cx="582.2" cy="699.7" rx="1.6" ry="6.3" fill="#1f78c1"/><ellipse cx="427.8" cy="853.8" rx="1.4" ry="3.2" fill="#1f78c1"/><ellipse cx="560.1" cy="299.8" rx="1.3" ry="4.1" fill="#1f78c1"/><ellipse cx="545.4" cy="884.5" rx="2.3" ry="5.2" fill="#9ab43e"/><ellipse cx="584.0" cy="241.4" rx="1.7" ry="3.8" fill="#9ab43e"/><ellipse cx="548.4" cy="1025.8" rx="1.3" ry="6.5" fill="#1f78c1"/><ellipse cx="549.5" cy="758.9" rx="1.2" ry="3.2" fill="#9ab43e"/><ellipse cx="420.5" cy="172.2" rx="2.0" ry="3.4" fill="#9ab43e"/><ellipse cx="428.2" cy="334.5" rx="2.0" ry="6.9" fill="#9ab43e"/><ellipse cx="475.6" cy="944.1" rx="1.8" ry="5.0" fill="#9ab43e"/><ellipse cx="468.3" cy="928.4" rx="1.2" ry="5.1" fill="#1f78c1"/><ellipse cx="457.5" cy="1032.5" rx="0.9" ry="4.0" fill="#9ab43e"/><ellipse cx="525.6" cy="1046.0" rx="1.7" ry="4.6" fill="#1f78c1"/><ellipse cx="483.3" cy="992.6" rx="1.7" ry="5.7" fill="#9ab43e"/><ellipse cx="504.2" cy="917.3" rx="1.2" ry="4.9" fill="#1f78c1"/><ellipse cx="452.4" cy="1113.2" rx="1.4" ry="2.5" fill="#9ab43e"/><ellipse cx="526.2" cy="998.0" rx="1.4" ry="5.0" fill="#9ab43e"/><ellipse cx="490.0" cy="1160.1" rx="1.7" ry="4.7" fill="#9ab43e"/><ellipse cx="481.4" cy="986.8" rx="1.7" ry="5.3" fill="#1f78c1"/><ellipse cx="525.3" cy="1118.9" rx="1.5" ry="3.6" fill="#9ab43e"/><ellipse cx="522.5" cy="952.9" rx="1.0" ry="5.5" fill="#9ab43e"/><ellipse cx="497.5" cy="956.7" rx="1.0" ry="5.8" fill="#9ab43e"/><ellipse cx="522.4" cy="919.3" rx="1.4" ry="5.7" fill="#9ab43e"/><ellipse cx="506.5" cy="1001.9" rx="1.0" ry="5.2" fill="#9ab43e"/><ellipse cx="461.6" cy="957.2" rx="1.7" ry="4.0" fill="#1f78c1"/><ellipse cx="519.6" cy="951.2" rx="1.5" ry="2.8" fill="#9ab43e"/><ellipse cx="497.9" cy="1089.4" rx="1.5" ry="3.5" fill="#1f78c1"/><ellipse cx="486.5" cy="1148.2" rx="1.8" ry="4.0" fill="#9ab43e"/><ellipse cx="505.2" cy="1115.1" rx="1.3" ry="5.5" fill="#9ab43e"/><ellipse cx="489.3" cy="1157.2" rx="1.0" ry="5.1" fill="#1f78c1"/><ellipse cx="465.5" cy="1076.8" rx="1.8" ry="4.4" fill="#1f78c1"/><ellipse cx="520.9" cy="914.0" rx="1.2" ry="3.4" fill="#9ab43e"/><ellipse cx="527.8" cy="884.9" rx="1.0" ry="5.5" fill="#1f78c1"/><ellipse cx="535.1" cy="885.2" rx="1.3" ry="5.0" fill="#1f78c1"/><ellipse cx="519.8" cy="976.9" rx="1.1" ry="3.0" fill="#9ab43e"/><ellipse cx="527.8" cy="910.7" rx="1.4" ry="3.7" fill="#1f78c1"/><ellipse cx="467.2" cy="1151.2" rx="1.6" ry="3.4" fill="#1f78c1"/><ellipse cx="536.9" cy="940.7" rx="1.5" ry="5.9" fill="#9ab43e"/><ellipse cx="523.7" cy="1062.4" rx="1.7" ry="4.1" fill="#9ab43e"/><ellipse cx="461.1" cy="1146.4" rx="1.5" ry="5.1" fill="#9ab43e"/><ellipse cx="473.6" cy="1012.6" rx="1.8" ry="5.7" fill="#9ab43e"/><ellipse cx="466.9" cy="1078.1" rx="1.3" ry="3.1" fill="#9ab43e"/><ellipse cx="464.8" cy="1014.7" rx="1.1" ry="3.8" fill="#1f78c1"/><ellipse cx="503.5" cy="1101.3" rx="1.0" ry="5.6" fill="#9ab43e"/><ellipse cx="486.2" cy="1160.1" rx="1.0" ry="4.5" fill="#9ab43e"/><ellipse cx="541.9" cy="989.4" rx="1.2" ry="2.6" fill="#9ab43e"/><ellipse cx="471.0" cy="911.8" rx="1.5" ry="4.5" fill="#1f78c1"/><ellipse cx="540.2" cy="1078.6" rx="1.8" ry="4.7" fill="#1f78c1"/><ellipse cx="502.5" cy="1131.2" rx="1.2" ry="4.6" fill="#9ab43e"/><ellipse cx="479.9" cy="1162.9" rx="1.8" ry="2.7" fill="#1f78c1"/><ellipse cx="452.9" cy="1039.3" rx="1.4" ry="2.9" fill="#1f78c1"/><ellipse cx="529.8" cy="1073.7" rx="1.7" ry="6.0" fill="#9ab43e"/><ellipse cx="515.1" cy="1086.8" rx="0.9" ry="4.0" fill="#1f78c1"/><ellipse cx="542.1" cy="968.0" rx="0.9" ry="4.0" fill="#9ab43e"/><ellipse cx="535.9" cy="1050.1" rx="0.9" ry="3.2" fill="#9ab43e"/><ellipse cx="468.7" cy="1122.2" rx="1.7" ry="3.4" fill="#1f78c1"/><ellipse cx="533.9" cy="1028.1" rx="1.8" ry="3.9" fill="#1f78c1"/><ellipse cx="516.9" cy="895.0" rx="1.8" ry="2.9" fill="#9ab43e"/><ellipse cx="521.4" cy="955.3" rx="1.2" ry="4.8" fill="#1f78c1"/><ellipse cx="540.7" cy="1170.2" rx="1.5" ry="4.8" fill="#9ab43e"/><ellipse cx="467.0" cy="1090.6" rx="1.2" ry="5.7" fill="#9ab43e"/><ellipse cx="475.7" cy="917.1" rx="1.0" ry="4.6" fill="#1f78c1"/><ellipse cx="526.5" cy="922.5" rx="1.4" ry="4.5" fill="#9ab43e"/><ellipse cx="490.4" cy="1036.4" rx="1.0" ry="4.0" fill="#1f78c1"/><ellipse cx="474.0" cy="1099.8" rx="1.6" ry="3.3" fill="#1f78c1"/><ellipse cx="460.6" cy="1016.8" rx="1.2" ry="5.2" fill="#1f78c1"/><ellipse cx="472.7" cy="1074.0" rx="1.3" ry="4.3" fill="#9ab43e"/><ellipse cx="537.9" cy="1054.4" rx="1.0" ry="2.8" fill="#1f78c1"/><ellipse cx="482.8" cy="901.4" rx="1.3" ry="3.6" fill="#9ab43e"/><ellipse cx="499.6" cy="1153.2" rx="1.0" ry="3.6" fill="#1f78c1"/><ellipse cx="482.2" cy="1145.2" rx="1.3" ry="3.1" fill="#9ab43e"/><ellipse cx="456.2" cy="911.4" rx="1.5" ry="3.0" fill="#9ab43e"/><ellipse cx="510.1" cy="892.3" rx="1.2" ry="2.9" fill="#9ab43e"/><ellipse cx="521.1" cy="1087.9" rx="1.1" ry="4.8" fill="#9ab43e"/><ellipse cx="492.3" cy="1071.4" rx="1.7" ry="2.5" fill="#1f78c1"/><ellipse cx="472.7" cy="993.3" rx="1.0" ry="4.9" fill="#1f78c1"/><ellipse cx="544.4" cy="974.5" rx="1.5" ry="3.3" fill="#1f78c1"/><ellipse cx="489.3" cy="1079.5" rx="1.0" ry="2.7" fill="#1f78c1"/><ellipse cx="502.5" cy="1169.2" rx="1.0" ry="4.3" fill="#9ab43e"/><ellipse cx="497.4" cy="932.6" rx="1.3" ry="5.3" fill="#9ab43e"/><ellipse cx="479.2" cy="1152.4" rx="1.3" ry="3.0" fill="#9ab43e"/><ellipse cx="497.0" cy="912.7" rx="1.5" ry="4.5" fill="#9ab43e"/><ellipse cx="542.8" cy="888.4" rx="1.6" ry="2.9" fill="#9ab43e"/><ellipse cx="481.9" cy="891.0" rx="1.6" ry="3.7" fill="#9ab43e"/><ellipse cx="516.7" cy="983.9" rx="1.1" ry="5.9" fill="#9ab43e"/><ellipse cx="492.7" cy="876.1" rx="1.6" ry="5.5" fill="#1f78c1"/><ellipse cx="511.2" cy="921.1" rx="1.5" ry="2.9" fill="#9ab43e"/><ellipse cx="487.4" cy="1074.4" rx="0.9" ry="3.7" fill="#1f78c1"/><ellipse cx="533.3" cy="1170.9" rx="1.7" ry="5.3" fill="#1f78c1"/><ellipse cx="532.5" cy="1049.7" rx="1.5" ry="5.8" fill="#9ab43e"/><ellipse cx="504.6" cy="933.4" rx="1.3" ry="3.7" fill="#9ab43e"/><ellipse cx="486.8" cy="1026.6" rx="1.1" ry="3.5" fill="#9ab43e"/><ellipse cx="498.8" cy="1024.7" rx="1.5" ry="3.1" fill="#1f78c1"/><ellipse cx="501.5" cy="956.9" rx="1.5" ry="5.2" fill="#9ab43e"/><ellipse cx="500.1" cy="948.9" rx="1.4" ry="3.8" fill="#9ab43e"/><ellipse cx="479.0" cy="994.4" rx="1.6" ry="4.2" fill="#9ab43e"/><ellipse cx="520.0" cy="938.2" rx="1.2" ry="3.6" fill="#1f78c1"/><ellipse cx="485.4" cy="1099.1" rx="1.1" ry="3.3" fill="#9ab43e"/><ellipse cx="524.9" cy="1069.4" rx="1.5" ry="4.9" fill="#9ab43e"/><ellipse cx="477.4" cy="893.1" rx="0.9" ry="5.9" fill="#1f78c1"/><ellipse cx="500.8" cy="1074.1" rx="1.6" ry="3.3" fill="#9ab43e"/><ellipse cx="483.3" cy="907.2" rx="1.6" ry="4.2" fill="#9ab43e"/><ellipse cx="486.3" cy="955.1" rx="1.5" ry="5.6" fill="#1f78c1"/><ellipse cx="530.9" cy="1132.7" rx="1.3" ry="3.6" fill="#1f78c1"/><ellipse cx="542.6" cy="929.5" rx="1.2" ry="5.7" fill="#1f78c1"/><ellipse cx="531.3" cy="973.5" rx="1.7" ry="4.0" fill="#9ab43e"/><ellipse cx="469.9" cy="1104.5" rx="1.0" ry="5.7" fill="#1f78c1"/><ellipse cx="492.9" cy="993.1" rx="1.1" ry="2.6" fill="#9ab43e"/><ellipse cx="488.3" cy="987.6" rx="1.2" ry="5.2" fill="#1f78c1"/><ellipse cx="483.0" cy="1076.8" rx="1.1" ry="2.6" fill="#9ab43e"/><ellipse cx="514.7" cy="1056.5" rx="1.1" ry="5.5" fill="#1f78c1"/><ellipse cx="536.6" cy="944.3" rx="1.4" ry="3.6" fill="#9ab43e"/><ellipse cx="455.4" cy="971.6" rx="1.4" ry="4.3" fill="#9ab43e"/><ellipse cx="463.4" cy="938.2" rx="1.3" ry="3.8" fill="#1f78c1"/><ellipse cx="535.9" cy="909.5" rx="1.1" ry="5.5" fill="#9ab43e"/><ellipse cx="474.7" cy="1049.4" rx="0.9" ry="5.3" fill="#1f78c1"/><ellipse cx="527.4" cy="954.9" rx="1.3" ry="6.0" fill="#9ab43e"/><ellipse cx="457.1" cy="988.0" rx="1.5" ry="5.2" fill="#1f78c1"/><ellipse cx="530.3" cy="1037.9" rx="1.6" ry="2.9" fill="#1f78c1"/><ellipse cx="476.2" cy="1098.5" rx="1.8" ry="2.8" fill="#1f78c1"/><ellipse cx="495.0" cy="938.1" rx="1.0" ry="2.8" fill="#1f78c1"/><ellipse cx="486.3" cy="1003.5" rx="1.2" ry="5.0" fill="#9ab43e"/><ellipse cx="500.0" cy="1166.6" rx="1.4" ry="4.2" fill="#1f78c1"/><ellipse cx="486.6" cy="1130.8" rx="1.7" ry="3.8" fill="#1f78c1"/><ellipse cx="483.2" cy="1057.6" rx="1.2" ry="2.8" fill="#9ab43e"/><ellipse cx="540.8" cy="984.7" rx="1.5" ry="4.4" fill="#1f78c1"/><ellipse cx="482.5" cy="972.5" rx="1.2" ry="4.0" fill="#9ab43e"/><ellipse cx="541.0" cy="982.2" rx="1.0" ry="4.8" fill="#1f78c1"/><ellipse cx="513.8" cy="1007.6" rx="1.1" ry="5.3" fill="#1f78c1"/><ellipse cx="494.5" cy="1122.1" rx="1.6" ry="2.6" fill="#1f78c1"/><ellipse cx="472.4" cy="1160.3" rx="1.5" ry="4.2" fill="#9ab43e"/><ellipse cx="495.9" cy="933.7" rx="1.5" ry="4.9" fill="#1f78c1"/><ellipse cx="476.1" cy="1066.4" rx="1.5" ry="3.1" fill="#1f78c1"/><ellipse cx="499.4" cy="968.3" rx="1.0" ry="4.2" fill="#9ab43e"/><ellipse cx="509.3" cy="915.0" rx="1.5" ry="4.4" fill="#1f78c1"/><ellipse cx="509.4" cy="1106.6" rx="1.1" ry="4.0" fill="#9ab43e"/><ellipse cx="529.2" cy="1043.3" rx="1.2" ry="4.1" fill="#9ab43e"/><ellipse cx="542.2" cy="1119.2" rx="1.0" ry="4.6" fill="#9ab43e"/><ellipse cx="455.1" cy="1152.4" rx="1.6" ry="3.4" fill="#9ab43e"/><ellipse cx="530.7" cy="927.6" rx="1.4" ry="2.6" fill="#9ab43e"/><ellipse cx="534.8" cy="1005.7" rx="1.5" ry="4.4" fill="#9ab43e"/><ellipse cx="532.2" cy="935.3" rx="1.2" ry="2.6" fill="#9ab43e"/><ellipse cx="483.3" cy="894.6" rx="1.5" ry="2.9" fill="#1f78c1"/><ellipse cx="466.9" cy="961.9" rx="1.7" ry="5.7" fill="#1f78c1"/><ellipse cx="532.9" cy="1169.0" rx="1.6" ry="3.5" fill="#1f78c1"/><ellipse cx="538.2" cy="1115.8" rx="1.1" ry="2.8" fill="#9ab43e"/><ellipse cx="538.0" cy="1039.0" rx="1.7" ry="3.0" fill="#9ab43e"/><ellipse cx="517.0" cy="1012.8" rx="1.3" ry="3.2" fill="#9ab43e"/><ellipse cx="540.9" cy="958.5" rx="1.6" ry="3.4" fill="#9ab43e"/><ellipse cx="516.6" cy="992.6" rx="1.1" ry="5.8" fill="#1f78c1"/><ellipse cx="486.2" cy="1026.4" rx="0.9" ry="5.1" fill="#9ab43e"/><ellipse cx="521.3" cy="1135.2" rx="1.1" ry="3.7" fill="#1f78c1"/><ellipse cx="520.1" cy="1070.4" rx="1.4" ry="3.0" fill="#1f78c1"/><ellipse cx="537.4" cy="1015.1" rx="1.6" ry="3.2" fill="#9ab43e"/><ellipse cx="519.2" cy="979.9" rx="1.0" ry="3.5" fill="#9ab43e"/><ellipse cx="511.1" cy="1018.3" rx="1.4" ry="3.3" fill="#1f78c1"/><ellipse cx="492.7" cy="875.6" rx="1.1" ry="5.4" fill="#9ab43e"/><ellipse cx="503.3" cy="1053.6" rx="1.0" ry="5.2" fill="#9ab43e"/><ellipse cx="479.2" cy="1131.2" rx="1.5" ry="5.4" fill="#9ab43e"/><ellipse cx="492.6" cy="1075.0" rx="1.1" ry="2.9" fill="#9ab43e"/><ellipse cx="490.3" cy="1026.3" rx="1.1" ry="5.5" fill="#1f78c1"/><ellipse cx="488.1" cy="919.2" rx="1.4" ry="3.2" fill="#1f78c1"/><ellipse cx="496.2" cy="1034.7" rx="1.4" ry="5.4" fill="#1f78c1"/><ellipse cx="453.6" cy="1151.2" rx="0.9" ry="5.2" fill="#1f78c1"/><ellipse cx="505.0" cy="1034.8" rx="1.6" ry="3.6" fill="#1f78c1"/><ellipse cx="519.6" cy="942.8" rx="1.5" ry="3.8" fill="#9ab43e"/><ellipse cx="496.6" cy="894.4" rx="1.5" ry="3.0" fill="#9ab43e"/><ellipse cx="503.2" cy="1092.7" rx="1.7" ry="5.5" fill="#1f78c1"/><ellipse cx="456.7" cy="948.8" rx="1.1" ry="2.8" fill="#1f78c1"/><ellipse cx="497.5" cy="949.4" rx="1.3" ry="3.8" fill="#1f78c1"/><ellipse cx="525.3" cy="1089.6" rx="1.1" ry="2.5" fill="#1f78c1"/><ellipse cx="482.6" cy="907.1" rx="1.6" ry="6.0" fill="#9ab43e"/><ellipse cx="471.4" cy="885.9" rx="1.3" ry="5.8" fill="#9ab43e"/><ellipse cx="488.5" cy="967.8" rx="1.8" ry="4.3" fill="#1f78c1"/><ellipse cx="493.0" cy="1004.8" rx="1.6" ry="4.2" fill="#9ab43e"/><ellipse cx="468.6" cy="995.7" rx="1.3" ry="4.8" fill="#9ab43e"/><ellipse cx="504.1" cy="1012.0" rx="1.1" ry="4.5" fill="#9ab43e"/><ellipse cx="532.4" cy="898.7" rx="1.7" ry="5.9" fill="#1f78c1"/><ellipse cx="453.2" cy="1061.2" rx="1.7" ry="4.1" fill="#9ab43e"/><ellipse cx="464.2" cy="964.2" rx="1.6" ry="3.2" fill="#9ab43e"/><ellipse cx="511.8" cy="1070.1" rx="0.9" ry="4.0" fill="#9ab43e"/><ellipse cx="482.2" cy="1052.4" rx="1.0" ry="4.8" fill="#1f78c1"/><ellipse cx="478.7" cy="1109.8" rx="1.4" ry="5.3" fill="#1f78c1"/><ellipse cx="462.7" cy="1092.1" rx="1.7" ry="2.6" fill="#1f78c1"/><ellipse cx="519.3" cy="984.5" rx="1.3" ry="4.3" fill="#1f78c1"/><ellipse cx="490.6" cy="911.3" rx="1.2" ry="5.9" fill="#9ab43e"/><ellipse cx="487.6" cy="1004.3" rx="1.8" ry="3.6" fill="#1f78c1"/><ellipse cx="512.1" cy="1122.3" rx="1.6" ry="3.5" fill="#1f78c1"/><ellipse cx="462.2" cy="887.5" rx="1.7" ry="3.2" fill="#1f78c1"/><ellipse cx="493.0" cy="1101.6" rx="1.0" ry="4.3" fill="#1f78c1"/><ellipse cx="491.6" cy="1153.7" rx="1.1" ry="4.5" fill="#9ab43e"/><ellipse cx="490.7" cy="885.1" rx="1.7" ry="3.6" fill="#1f78c1"/><ellipse cx="506.5" cy="1086.0" rx="1.7" ry="2.9" fill="#1f78c1"/><ellipse cx="480.0" cy="1087.6" rx="1.2" ry="2.9" fill="#1f78c1"/><ellipse cx="496.0" cy="879.7" rx="1.1" ry="2.8" fill="#1f78c1"/><ellipse cx="460.4" cy="932.8" rx="1.0" ry="5.4" fill="#9ab43e"/><ellipse cx="490.8" cy="949.8" rx="1.7" ry="2.7" fill="#1f78c1"/><ellipse cx="521.0" cy="904.0" rx="1.3" ry="4.6" fill="#9ab43e"/><ellipse cx="532.3" cy="904.8" rx="1.5" ry="4.6" fill="#1f78c1"/><ellipse cx="519.1" cy="957.5" rx="1.1" ry="4.0" fill="#1f78c1"/><ellipse cx="478.2" cy="1048.9" rx="1.1" ry="4.7" fill="#1f78c1"/><ellipse cx="460.0" cy="1113.0" rx="1.1" ry="2.9" fill="#1f78c1"/><ellipse cx="499.3" cy="1024.7" rx="1.2" ry="3.9" fill="#9ab43e"/><ellipse cx="535.0" cy="956.3" rx="1.7" ry="6.0" fill="#9ab43e"/><ellipse cx="539.7" cy="951.4" rx="1.5" ry="3.2" fill="#9ab43e"/><ellipse cx="544.8" cy="1067.4" rx="1.4" ry="2.8" fill="#9ab43e"/><ellipse cx="532.3" cy="927.1" rx="1.5" ry="3.2" fill="#1f78c1"/><ellipse cx="495.0" cy="1086.9" rx="1.5" ry="2.9" fill="#1f78c1"/><ellipse cx="496.2" cy="1067.9" rx="0.9" ry="3.2" fill="#9ab43e"/><ellipse cx="541.3" cy="991.1" rx="1.2" ry="4.9" fill="#1f78c1"/><ellipse cx="520.9" cy="1068.1" rx="1.4" ry="4.3" fill="#1f78c1"/><ellipse cx="469.5" cy="1157.0" rx="1.6" ry="6.0" fill="#9ab43e"/><ellipse cx="495.3" cy="1124.2" rx="1.6" ry="5.0" fill="#1f78c1"/><ellipse cx="539.3" cy="1122.5" rx="1.1" ry="5.3" fill="#9ab43e"/><ellipse cx="496.2" cy="967.8" rx="1.6" ry="5.4" fill="#1f78c1"/><ellipse cx="530.6" cy="1073.8" rx="1.0" ry="4.5" fill="#1f78c1"/><ellipse cx="471.7" cy="975.0" rx="1.0" ry="5.0" fill="#1f78c1"/><ellipse cx="472.8" cy="1126.8" rx="1.7" ry="3.6" fill="#1f78c1"/><ellipse cx="476.9" cy="992.3" rx="1.3" ry="3.8" fill="#1f78c1"/><ellipse cx="453.2" cy="1130.9" rx="0.9" ry="5.9" fill="#1f78c1"/><ellipse cx="473.2" cy="950.1" rx="1.0" ry="5.0" fill="#1f78c1"/><ellipse cx="506.1" cy="1024.7" rx="1.2" ry="5.9" fill="#1f78c1"/><ellipse cx="486.6" cy="1168.9" rx="1.0" ry="5.5" fill="#9ab43e"/><ellipse cx="454.0" cy="1086.2" rx="1.5" ry="4.4" fill="#9ab43e"/><ellipse cx="527.6" cy="920.9" rx="1.1" ry="3.9" fill="#9ab43e"/><ellipse cx="469.8" cy="1085.4" rx="1.6" ry="4.7" fill="#9ab43e"/><ellipse cx="507.7" cy="1148.8" rx="1.4" ry="3.6" fill="#9ab43e"/><ellipse cx="538.3" cy="985.2" rx="1.2" ry="5.0" fill="#1f78c1"/><ellipse cx="538.6" cy="1066.8" rx="1.7" ry="5.2" fill="#9ab43e"/><ellipse cx="493.4" cy="1012.2" rx="1.2" ry="2.9" fill="#9ab43e"/><ellipse cx="509.6" cy="1115.3" rx="1.5" ry="5.6" fill="#1f78c1"/><ellipse cx="463.9" cy="915.3" rx="1.2" ry="5.8" fill="#1f78c1"/><ellipse cx="544.7" cy="1007.4" rx="1.5" ry="3.1" fill="#9ab43e"/><ellipse cx="542.4" cy="926.8" rx="1.3" ry="2.6" fill="#1f78c1"/><ellipse cx="496.7" cy="997.4" rx="1.3" ry="5.5" fill="#9ab43e"/><ellipse cx="524.5" cy="1049.1" rx="1.2" ry="4.2" fill="#1f78c1"/><ellipse cx="488.7" cy="1066.7" rx="1.2" ry="4.6" fill="#9ab43e"/><ellipse cx="544.7" cy="935.2" rx="0.9" ry="2.8" fill="#1f78c1"/><ellipse cx="457.2" cy="1000.6" rx="1.5" ry="5.9" fill="#9ab43e"/><ellipse cx="529.8" cy="1049.0" rx="0.9" ry="3.8" fill="#9ab43e"/><ellipse cx="476.3" cy="1059.4" rx="1.4" ry="3.8" fill="#1f78c1"/><ellipse cx="497.8" cy="995.1" rx="1.6" ry="5.3" fill="#1f78c1"/><ellipse cx="507.6" cy="909.4" rx="1.7" ry="6.0" fill="#9ab43e"/><ellipse cx="522.5" cy="888.6" rx="1.5" ry="3.5" fill="#9ab43e"/><ellipse cx="537.6" cy="1120.3" rx="1.1" ry="4.5" fill="#9ab43e"/><ellipse cx="487.2" cy="962.9" rx="1.5" ry="3.7" fill="#9ab43e"/><ellipse cx="502.5" cy="1150.7" rx="1.7" ry="4.5" fill="#9ab43e"/><ellipse cx="544.3" cy="883.7" rx="1.4" ry="5.0" fill="#1f78c1"/><ellipse cx="542.1" cy="1060.1" rx="1.5" ry="4.4" fill="#1f78c1"/><ellipse cx="517.6" cy="1156.2" rx="1.2" ry="5.6" fill="#1f78c1"/><ellipse cx="457.5" cy="1109.7" rx="1.5" ry="5.3" fill="#1f78c1"/><ellipse cx="474.1" cy="988.2" rx="1.5" ry="4.4" fill="#1f78c1"/><ellipse cx="508.3" cy="971.7" rx="1.8" ry="5.2" fill="#9ab43e"/><ellipse cx="540.5" cy="948.4" rx="1.2" ry="3.7" fill="#9ab43e"/><ellipse cx="526.7" cy="927.0" rx="1.6" ry="5.8" fill="#9ab43e"/><ellipse cx="453.7" cy="955.4" rx="1.7" ry="3.1" fill="#1f78c1"/><ellipse cx="530.2" cy="993.0" rx="1.7" ry="2.7" fill="#9ab43e"/><ellipse cx="482.6" cy="921.3" rx="1.2" ry="5.0" fill="#1f78c1"/><ellipse cx="506.0" cy="911.2" rx="1.4" ry="3.0" fill="#9ab43e"/><ellipse cx="528.3" cy="1118.8" rx="1.7" ry="5.3" fill="#1f78c1"/><ellipse cx="473.3" cy="875.3" rx="1.6" ry="2.8" fill="#9ab43e"/><ellipse cx="523.3" cy="1104.6" rx="1.6" ry="5.9" fill="#9ab43e"/><ellipse cx="482.5" cy="1122.7" rx="1.2" ry="4.9" fill="#9ab43e"/><ellipse cx="515.6" cy="1127.1" rx="1.1" ry="3.4" fill="#9ab43e"/><ellipse cx="502.5" cy="915.2" rx="1.7" ry="3.3" fill="#9ab43e"/><ellipse cx="516.8" cy="1074.9" rx="1.6" ry="5.2" fill="#1f78c1"/><ellipse cx="480.5" cy="904.2" rx="1.6" ry="4.1" fill="#1f78c1"/><ellipse cx="527.8" cy="922.4" rx="1.2" ry="5.6" fill="#1f78c1"/><ellipse cx="467.1" cy="896.8" rx="1.0" ry="4.8" fill="#9ab43e"/><ellipse cx="449.2" cy="327.7" rx="1.7" ry="3.9" fill="#9ab43e"/><ellipse cx="489.5" cy="172.4" rx="1.1" ry="5.3" fill="#1f78c1"/><ellipse cx="518.6" cy="714.8" rx="1.5" ry="2.9" fill="#9ab43e"/><ellipse cx="482.4" cy="360.9" rx="1.6" ry="3.2" fill="#1f78c1"/><ellipse cx="475.8" cy="353.3" rx="1.5" ry="4.2" fill="#9ab43e"/><ellipse cx="481.8" cy="813.6" rx="1.3" ry="4.5" fill="#9ab43e"/><ellipse cx="534.9" cy="334.6" rx="1.0" ry="4.3" fill="#1f78c1"/><ellipse cx="524.5" cy="262.7" rx="1.8" ry="4.2" fill="#1f78c1"/><ellipse cx="482.1" cy="754.4" rx="1.2" ry="2.9" fill="#9ab43e"/><ellipse cx="510.0" cy="683.1" rx="1.5" ry="3.6" fill="#9ab43e"/><ellipse cx="496.6" cy="357.2" rx="1.3" ry="5.7" fill="#1f78c1"/><ellipse cx="539.7" cy="817.0" rx="1.8" ry="3.0" fill="#1f78c1"/><ellipse cx="541.3" cy="611.0" rx="1.3" ry="6.0" fill="#9ab43e"/><ellipse cx="442.8" cy="760.4" rx="1.2" ry="5.4" fill="#9ab43e"/><ellipse cx="463.5" cy="691.8" rx="1.3" ry="3.2" fill="#1f78c1"/><ellipse cx="528.0" cy="676.3" rx="1.8" ry="3.3" fill="#1f78c1"/><ellipse cx="481.3" cy="448.6" rx="1.7" ry="5.8" fill="#9ab43e"/><ellipse cx="509.7" cy="413.2" rx="1.0" ry="4.3" fill="#1f78c1"/><ellipse cx="504.2" cy="472.0" rx="1.3" ry="3.7" fill="#9ab43e"/><ellipse cx="486.0" cy="273.7" rx="1.4" ry="4.4" fill="#9ab43e"/><ellipse cx="486.8" cy="330.0" rx="1.3" ry="4.1" fill="#1f78c1"/><ellipse cx="547.7" cy="555.4" rx="0.9" ry="3.1" fill="#1f78c1"/><ellipse cx="478.0" cy="713.4" rx="1.1" ry="5.2" fill="#9ab43e"/><ellipse cx="488.6" cy="537.0" rx="0.9" ry="2.7" fill="#9ab43e"/><ellipse cx="513.4" cy="646.2" rx="1.7" ry="5.4" fill="#1f78c1"/><ellipse cx="473.2" cy="198.2" rx="1.5" ry="3.3" fill="#9ab43e"/><ellipse cx="444.8" cy="500.7" rx="1.6" ry="4.7" fill="#1f78c1"/><ellipse cx="470.7" cy="470.9" rx="1.1" ry="3.1" fill="#1f78c1"/><ellipse cx="529.7" cy="476.4" rx="1.2" ry="5.3" fill="#9ab43e"/><ellipse cx="505.5" cy="620.9" rx="1.4" ry="3.2" fill="#1f78c1"/><ellipse cx="547.1" cy="634.0" rx="1.5" ry="2.9" fill="#9ab43e"/><ellipse cx="476.8" cy="316.1" rx="0.9" ry="4.1" fill="#9ab43e"/><ellipse cx="535.5" cy="713.5" rx="1.2" ry="3.3" fill="#9ab43e"/><ellipse cx="517.5" cy="365.0" rx="1.2" ry="5.2" fill="#9ab43e"/><ellipse cx="503.0" cy="737.1" rx="1.2" ry="6.0" fill="#9ab43e"/><ellipse cx="441.1" cy="781.7" rx="1.4" ry="3.9" fill="#1f78c1"/><ellipse cx="524.7" cy="376.8" rx="1.6" ry="4.4" fill="#1f78c1"/><ellipse cx="523.1" cy="502.3" rx="1.6" ry="3.3" fill="#1f78c1"/><ellipse cx="491.9" cy="150.4" rx="1.5" ry="5.2" fill="#1f78c1"/><ellipse cx="510.0" cy="469.1" rx="1.5" ry="3.2" fill="#9ab43e"/><ellipse cx="498.9" cy="580.5" rx="1.1" ry="3.6" fill="#9ab43e"/><ellipse cx="477.7" cy="219.1" rx="1.6" ry="4.5" fill="#1f78c1"/><ellipse cx="459.0" cy="676.8" rx="1.6" ry="3.0" fill="#1f78c1"/><ellipse cx="450.6" cy="331.2" rx="1.1" ry="5.6" fill="#9ab43e"/><ellipse cx="543.2" cy="354.0" rx="1.5" ry="4.5" fill="#9ab43e"/><ellipse cx="468.0" cy="833.7" rx="0.9" ry="3.7" fill="#9ab43e"/><ellipse cx="475.3" cy="292.9" rx="1.7" ry="2.6" fill="#1f78c1"/><ellipse cx="531.9" cy="372.5" rx="1.7" ry="3.5" fill="#1f78c1"/><ellipse cx="463.3" cy="234.0" rx="1.0" ry="3.1" fill="#1f78c1"/><ellipse cx="467.5" cy="566.4" rx="1.2" ry="4.3" fill="#1f78c1"/><ellipse cx="525.2" cy="671.3" rx="1.7" ry="5.3" fill="#1f78c1"/><ellipse cx="501.8" cy="492.4" rx="1.0" ry="5.6" fill="#1f78c1"/><ellipse cx="506.9" cy="221.0" rx="1.7" ry="2.6" fill="#9ab43e"/><ellipse cx="517.1" cy="321.5" rx="1.7" ry="3.7" fill="#9ab43e"/><ellipse cx="494.8" cy="629.0" rx="1.5" ry="4.0" fill="#1f78c1"/><ellipse cx="548.1" cy="285.1" rx="0.9" ry="3.5" fill="#9ab43e"/><ellipse cx="453.0" cy="257.2" rx="1.1" ry="5.3" fill="#9ab43e"/><ellipse cx="450.6" cy="598.6" rx="1.0" ry="3.3" fill="#9ab43e"/><ellipse cx="524.1" cy="488.6" rx="1.2" ry="3.9" fill="#9ab43e"/><ellipse cx="545.3" cy="397.6" rx="1.7" ry="3.2" fill="#9ab43e"/><ellipse cx="500.0" cy="827.7" rx="1.7" ry="5.2" fill="#1f78c1"/><ellipse cx="522.4" cy="582.6" rx="1.8" ry="2.9" fill="#1f78c1"/><ellipse cx="526.2" cy="670.7" rx="1.5" ry="3.9" fill="#1f78c1"/><ellipse cx="522.6" cy="181.2" rx="1.2" ry="5.3" fill="#9ab43e"/><ellipse cx="491.9" cy="734.9" rx="1.4" ry="2.6" fill="#1f78c1"/><ellipse cx="493.8" cy="207.0" rx="1.5" ry="4.0" fill="#9ab43e"/><ellipse cx="547.2" cy="831.7" rx="1.0" ry="5.0" fill="#9ab43e"/><ellipse cx="520.0" cy="586.3" rx="1.7" ry="4.0" fill="#1f78c1"/><ellipse cx="505.5" cy="736.6" rx="0.9" ry="5.7" fill="#1f78c1"/><ellipse cx="469.8" cy="179.6" rx="1.8" ry="5.1" fill="#1f78c1"/><ellipse cx="463.1" cy="255.5" rx="1.5" ry="4.5" fill="#9ab43e"/><ellipse cx="454.4" cy="447.6" rx="0.9" ry="4.0" fill="#9ab43e"/><ellipse cx="446.3" cy="868.4" rx="1.8" ry="5.4" fill="#1f78c1"/><ellipse cx="520.5" cy="180.4" rx="1.3" ry="4.2" fill="#9ab43e"/><ellipse cx="456.0" cy="518.8" rx="1.0" ry="5.6" fill="#9ab43e"/><ellipse cx="486.2" cy="341.6" rx="1.3" ry="4.8" fill="#1f78c1"/><ellipse cx="502.7" cy="790.8" rx="1.4" ry="6.0" fill="#9ab43e"/><ellipse cx="463.7" cy="161.9" rx="1.2" ry="2.9" fill="#1f78c1"/><ellipse cx="486.0" cy="174.9" rx="1.3" ry="5.6" fill="#9ab43e"/><ellipse cx="516.7" cy="675.5" rx="1.2" ry="5.1" fill="#9ab43e"/><ellipse cx="462.7" cy="549.5" rx="1.6" ry="3.1" fill="#9ab43e"/><ellipse cx="477.8" cy="743.5" rx="1.8" ry="2.9" fill="#9ab43e"/><ellipse cx="463.1" cy="226.8" rx="1.6" ry="4.8" fill="#9ab43e"/><ellipse cx="525.7" cy="521.5" rx="1.7" ry="4.8" fill="#9ab43e"/><ellipse cx="512.2" cy="573.9" rx="1.6" ry="4.5" fill="#1f78c1"/><ellipse cx="454.2" cy="456.6" rx="1.3" ry="4.5" fill="#1f78c1"/><ellipse cx="479.8" cy="431.6" rx="1.2" ry="5.9" fill="#1f78c1"/><ellipse cx="449.9" cy="162.2" rx="1.3" ry="4.1" fill="#9ab43e"/><ellipse cx="505.1" cy="414.2" rx="0.9" ry="5.6" fill="#1f78c1"/><ellipse cx="543.3" cy="355.9" rx="1.2" ry="2.7" fill="#1f78c1"/><ellipse cx="538.2" cy="752.3" rx="1.1" ry="4.9" fill="#1f78c1"/><ellipse cx="527.6" cy="488.2" rx="1.1" ry="5.3" fill="#1f78c1"/><ellipse cx="535.0" cy="767.7" rx="1.4" ry="5.9" fill="#1f78c1"/><ellipse cx="518.7" cy="480.6" rx="1.0" ry="5.1" fill="#1f78c1"/><ellipse cx="447.5" cy="732.4" rx="1.3" ry="5.6" fill="#9ab43e"/><ellipse cx="542.6" cy="593.9" rx="1.4" ry="4.0" fill="#1f78c1"/><ellipse cx="467.5" cy="818.6" rx="1.0" ry="3.3" fill="#9ab43e"/><ellipse cx="477.7" cy="562.5" rx="1.3" ry="5.3" fill="#1f78c1"/><ellipse cx="460.0" cy="668.5" rx="1.8" ry="5.8" fill="#1f78c1"/><ellipse cx="476.0" cy="586.4" rx="1.3" ry="4.7" fill="#1f78c1"/><ellipse cx="510.2" cy="396.7" rx="1.0" ry="4.5" fill="#1f78c1"/><ellipse cx="458.8" cy="370.4" rx="1.7" ry="4.3" fill="#9ab43e"/><ellipse cx="468.0" cy="571.8" rx="1.6" ry="3.0" fill="#1f78c1"/><ellipse cx="468.8" cy="465.8" rx="1.0" ry="3.2" fill="#9ab43e"/><ellipse cx="454.5" cy="303.9" rx="1.3" ry="5.2" fill="#1f78c1"/><ellipse cx="484.4" cy="492.1" rx="1.6" ry="5.7" fill="#1f78c1"/><ellipse cx="486.8" cy="813.3" rx="1.8" ry="4.3" fill="#1f78c1"/><ellipse cx="515.0" cy="424.6" rx="1.0" ry="5.6" fill="#1f78c1"/><ellipse cx="479.6" cy="653.0" rx="1.4" ry="3.2" fill="#1f78c1"/><ellipse cx="459.5" cy="392.1" rx="1.4" ry="2.5" fill="#9ab43e"/><ellipse cx="518.2" cy="461.9" rx="1.1" ry="3.2" fill="#1f78c1"/><ellipse cx="530.5" cy="546.0" rx="1.1" ry="3.5" fill="#1f78c1"/><ellipse cx="470.8" cy="399.4" rx="1.6" ry="4.9" fill="#9ab43e"/><ellipse cx="537.3" cy="620.8" rx="0.9" ry="3.1" fill="#1f78c1"/><ellipse cx="468.4" cy="530.4" rx="1.4" ry="4.0" fill="#9ab43e"/><ellipse cx="466.6" cy="856.8" rx="1.2" ry="2.7" fill="#9ab43e"/><ellipse cx="548.0" cy="334.4" rx="1.0" ry="4.8" fill="#9ab43e"/><ellipse cx="479.2" cy="790.0" rx="1.0" ry="3.2" fill="#1f78c1"/><ellipse cx="528.6" cy="854.6" rx="1.5" ry="3.5" fill="#9ab43e"/><ellipse cx="470.0" cy="212.5" rx="0.9" ry="4.6" fill="#9ab43e"/><ellipse cx="406.1" cy="215.6" rx="3.1" ry="6.0" fill="#1f78c1"/><ellipse cx="414.7" cy="216.9" rx="2.5" ry="5.7" fill="#9ab43e"/><ellipse cx="426.8" cy="214.0" rx="2.1" ry="7.1" fill="#1f78c1"/><ellipse cx="434.6" cy="217.4" rx="3.1" ry="6.9" fill="#9ab43e"/><ellipse cx="442.2" cy="213.1" rx="2.2" ry="5.6" fill="#9ab43e"/><ellipse cx="453.7" cy="213.8" rx="2.2" ry="8.4" fill="#9ab43e"/><ellipse cx="419.9" cy="249.1" rx="2.9" ry="6.6" fill="#1f78c1"/><ellipse cx="428.0" cy="246.9" rx="2.0" ry="5.7" fill="#9ab43e"/><ellipse cx="439.2" cy="247.3" rx="2.6" ry="7.2" fill="#1f78c1"/><ellipse cx="449.5" cy="245.5" rx="2.3" ry="8.7" fill="#9ab43e"/><ellipse cx="412.3" cy="331.6" rx="2.6" ry="8.2" fill="#9ab43e"/><ellipse cx="422.8" cy="328.5" rx="1.9" ry="8.5" fill="#1f78c1"/><ellipse cx="433.5" cy="330.2" rx="1.9" ry="7.8" fill="#1f78c1"/><ellipse cx="427.0" cy="372.3" rx="2.2" ry="5.6" fill="#9ab43e"/><ellipse cx="438.5" cy="369.2" rx="2.3" ry="5.6" fill="#9ab43e"/><ellipse cx="450.5" cy="371.9" rx="2.3" ry="6.3" fill="#1f78c1"/><ellipse cx="415.1" cy="394.3" rx="2.3" ry="7.8" fill="#9ab43e"/><ellipse cx="424.6" cy="393.6" rx="2.6" ry="6.5" fill="#9ab43e"/><ellipse cx="434.1" cy="393.8" rx="2.2" ry="5.3" fill="#9ab43e"/><ellipse cx="428.8" cy="517.2" rx="2.9" ry="7.1" fill="#9ab43e"/><ellipse cx="440.2" cy="519.5" rx="2.6" ry="5.4" fill="#1f78c1"/><ellipse cx="451.7" cy="517.8" rx="2.7" ry="7.6" fill="#1f78c1"/><ellipse cx="446.2" cy="562.6" rx="1.9" ry="5.0" fill="#9ab43e"/><ellipse cx="453.9" cy="557.9" rx="2.5" ry="8.1" fill="#9ab43e"/><ellipse cx="540.5" cy="212.2" rx="3.1" ry="8.0" fill="#9ab43e"/><ellipse cx="551.3" cy="211.9" rx="2.2" ry="8.8" fill="#9ab43e"/><ellipse cx="562.6" cy="213.1" rx="2.2" ry="7.9" fill="#9ab43e"/><ellipse cx="571.2" cy="213.8" rx="2.3" ry="8.5" fill="#9ab43e"/><ellipse cx="581.8" cy="211.7" rx="2.6" ry="8.2" fill="#9ab43e"/><ellipse cx="542.2" cy="242.8" rx="1.8" ry="8.6" fill="#1f78c1"/><ellipse cx="553.2" cy="239.9" rx="3.0" ry="5.6" fill="#1f78c1"/><ellipse cx="562.0" cy="241.3" rx="3.0" ry="6.5" fill="#1f78c1"/><ellipse cx="574.9" cy="240.9" rx="1.9" ry="5.5" fill="#1f78c1"/><ellipse cx="540.0" cy="270.4" rx="2.3" ry="6.0" fill="#9ab43e"/><ellipse cx="550.8" cy="267.5" rx="3.1" ry="8.4" fill="#9ab43e"/><ellipse cx="560.6" cy="269.7" rx="2.2" ry="7.4" fill="#9ab43e"/><ellipse cx="569.1" cy="272.9" rx="3.1" ry="7.9" fill="#9ab43e"/><ellipse cx="580.3" cy="267.5" rx="2.0" ry="6.4" fill="#9ab43e"/><ellipse cx="586.8" cy="269.5" rx="3.2" ry="8.3" fill="#9ab43e"/><ellipse cx="546.8" cy="300.3" rx="2.1" ry="5.1" fill="#1f78c1"/><ellipse cx="554.1" cy="299.3" rx="2.5" ry="6.2" fill="#1f78c1"/><ellipse cx="550.7" cy="420.4" rx="2.6" ry="6.2" fill="#9ab43e"/><ellipse cx="560.9" cy="421.1" rx="2.8" ry="6.9" fill="#9ab43e"/><ellipse cx="569.9" cy="418.7" rx="1.9" ry="6.9" fill="#9ab43e"/><ellipse cx="545.5" cy="458.1" rx="3.0" ry="8.5" fill="#1f78c1"/><ellipse cx="556.4" cy="461.9" rx="2.5" ry="5.7" fill="#1f78c1"/><ellipse cx="544.9" cy="741.4" rx="3.2" ry="5.4" fill="#9ab43e"/><ellipse cx="555.5" cy="739.1" rx="2.3" ry="7.4" fill="#9ab43e"/><ellipse cx="567.6" cy="742.1" rx="2.3" ry="8.6" fill="#9ab43e"/><ellipse cx="579.3" cy="788.8" rx="2.0" ry="8.9" fill="#1f78c1"/><ellipse cx="590.4" cy="792.0" rx="1.9" ry="7.2" fill="#1f78c1"/><ellipse cx="600.9" cy="792.9" rx="3.1" ry="5.4" fill="#1f78c1"/><ellipse cx="609.5" cy="793.0" rx="2.5" ry="8.8" fill="#1f78c1"/><ellipse cx="619.0" cy="787.2" rx="3.1" ry="6.1" fill="#1f78c1"/><path d="M419.1,251.5 Q430.2,267.5 419.1,283.5 Q407.9,267.5 419.1,251.5Z" fill="#1f78c1"/><path d="M428.9,249.8 Q440.7,266.6 428.9,283.4 Q417.2,266.6 428.9,249.8Z" fill="#9ab43e"/><path d="M419.1,285.5 Q430.2,301.5 419.1,317.5 Q407.9,301.5 419.1,285.5Z" fill="#9ab43e"/><path d="M428.9,285.6 Q440.7,302.4 428.9,319.2 Q417.2,302.4 428.9,285.6Z" fill="#1f78c1"/><path d="M1333.4,269.7 Q1338.4,276.9 1333.4,284.1 Q1328.3,276.9 1333.4,269.7Z" fill="#1f78c1"/><path d="M1337.8,268.9 Q1343.1,276.5 1337.8,284.0 Q1332.5,276.5 1337.8,268.9Z" fill="#9ab43e"/><path d="M1333.4,284.9 Q1338.4,292.1 1333.4,299.3 Q1328.3,292.1 1333.4,284.9Z" fill="#9ab43e"/><path d="M1337.8,285.0 Q1343.1,292.5 1337.8,300.1 Q1332.5,292.5 1337.8,285.0Z" fill="#1f78c1"/><path d="M1368.5,251.5 Q1379.7,267.5 1368.5,283.5 Q1357.2,267.5 1368.5,251.5Z" fill="#1f78c1"/><path d="M1378.4,249.8 Q1390.1,266.6 1378.4,283.4 Q1366.6,266.6 1378.4,249.8Z" fill="#9ab43e"/><path d="M1368.5,285.5 Q1379.7,301.5 1368.5,317.5 Q1357.2,301.5 1368.5,285.5Z" fill="#9ab43e"/><path d="M1378.4,285.6 Q1390.1,302.4 1378.4,319.2 Q1366.6,302.4 1378.4,285.6Z" fill="#1f78c1"/><path d="M1512.3,251.5 Q1523.5,267.5 1512.3,283.5 Q1501.1,267.5 1512.3,251.5Z" fill="#1f78c1"/><path d="M1522.2,249.8 Q1534.0,266.6 1522.2,283.4 Q1510.5,266.6 1522.2,249.8Z" fill="#9ab43e"/><path d="M1512.3,285.5 Q1523.5,301.5 1512.3,317.5 Q1501.1,301.5 1512.3,285.5Z" fill="#9ab43e"/><path d="M1522.2,285.6 Q1534.0,302.4 1522.2,319.2 Q1510.5,302.4 1522.2,285.6Z" fill="#1f78c1"/><path d="M364.2,285.1 Q369.2,292.2 364.2,299.4 Q359.1,292.2 364.2,285.1Z" fill="#1f78c1"/><path d="M368.6,284.3 Q373.9,291.9 368.6,299.4 Q363.3,291.9 368.6,284.3Z" fill="#9ab43e"/><path d="M364.2,300.3 Q369.2,307.5 364.2,314.7 Q359.1,307.5 364.2,300.3Z" fill="#9ab43e"/><path d="M368.6,300.4 Q373.9,307.9 368.6,315.5 Q363.3,307.9 368.6,300.4Z" fill="#1f78c1"/><path d="M851.9,270.2 Q862.0,284.6 851.9,299.0 Q841.9,284.6 851.9,270.2Z" fill="#1f78c1"/><path d="M860.9,268.7 Q871.4,283.8 860.9,299.0 Q850.3,283.8 860.9,268.7Z" fill="#9ab43e"/><path d="M851.9,300.8 Q862.0,315.2 851.9,329.6 Q841.9,315.2 851.9,300.8Z" fill="#9ab43e"/><path d="M860.9,300.8 Q871.4,316.0 860.9,331.1 Q850.3,316.0 860.9,300.8Z" fill="#1f78c1"/><path d="M561.0,349.3 Q573.3,366.9 561.0,384.5 Q548.6,366.9 561.0,349.3Z" fill="#1f78c1"/><path d="M571.8,347.5 Q584.8,366.0 571.8,384.4 Q558.9,366.0 571.8,347.5Z" fill="#9ab43e"/><path d="M561.0,386.7 Q573.3,404.3 561.0,421.9 Q548.6,404.3 561.0,386.7Z" fill="#9ab43e"/><path d="M571.8,386.8 Q584.8,405.2 571.8,423.7 Q558.9,405.2 571.8,386.8Z" fill="#1f78c1"/><path d="M745.3,352.6 Q756.5,368.6 745.3,384.6 Q734.1,368.6 745.3,352.6Z" fill="#1f78c1"/><path d="M755.2,350.9 Q767.0,367.8 755.2,384.6 Q743.5,367.8 755.2,350.9Z" fill="#9ab43e"/><path d="M745.3,386.6 Q756.5,402.6 745.3,418.6 Q734.1,402.6 745.3,386.6Z" fill="#9ab43e"/><path d="M755.2,386.7 Q767.0,403.5 755.2,420.3 Q743.5,403.5 755.2,386.7Z" fill="#1f78c1"/><path d="M953.3,399.2 Q966.2,417.6 953.3,435.9 Q940.4,417.6 953.3,399.2Z" fill="#1f78c1"/><path d="M964.7,397.3 Q978.2,416.6 964.7,435.9 Q951.2,416.6 964.7,397.3Z" fill="#9ab43e"/><path d="M953.3,438.3 Q966.2,456.7 953.3,475.1 Q940.4,456.7 953.3,438.3Z" fill="#9ab43e"/><path d="M964.7,438.3 Q978.2,457.6 964.7,476.9 Q951.2,457.6 964.7,438.3Z" fill="#1f78c1"/><path d="M1034.1,400.8 Q1046.4,418.4 1034.1,436.0 Q1021.7,418.4 1034.1,400.8Z" fill="#1f78c1"/><path d="M1044.9,399.0 Q1057.9,417.5 1044.9,435.9 Q1032.0,417.5 1044.9,399.0Z" fill="#9ab43e"/><path d="M1034.1,438.2 Q1046.4,455.8 1034.1,473.4 Q1021.7,455.8 1034.1,438.2Z" fill="#9ab43e"/><path d="M1044.9,438.3 Q1057.9,456.7 1044.9,475.2 Q1032.0,456.7 1044.9,438.3Z" fill="#1f78c1"/><path d="M1132.0,410.7 Q1141.0,423.5 1132.0,436.3 Q1123.1,423.5 1132.0,410.7Z" fill="#1f78c1"/><path d="M1140.0,409.4 Q1149.4,422.8 1140.0,436.3 Q1130.6,422.8 1140.0,409.4Z" fill="#9ab43e"/><path d="M1132.0,437.9 Q1141.0,450.7 1132.0,463.5 Q1123.1,450.7 1132.0,437.9Z" fill="#9ab43e"/><path d="M1140.0,437.9 Q1149.4,451.4 1140.0,464.8 Q1130.6,451.4 1140.0,437.9Z" fill="#1f78c1"/><path d="M410.0,454.3 Q419.0,467.1 410.0,479.9 Q401.1,467.1 410.0,454.3Z" fill="#1f78c1"/><path d="M418.0,453.0 Q427.4,466.4 418.0,479.9 Q408.6,466.4 418.0,453.0Z" fill="#9ab43e"/><path d="M410.0,481.5 Q419.0,494.3 410.0,507.1 Q401.1,494.3 410.0,481.5Z" fill="#9ab43e"/><path d="M418.0,481.5 Q427.4,495.0 418.0,508.4 Q408.6,495.0 418.0,481.5Z" fill="#1f78c1"/><path d="M654.4,444.4 Q666.7,462.0 654.4,479.6 Q642.0,462.0 654.4,444.4Z" fill="#1f78c1"/><path d="M665.2,442.6 Q678.2,461.1 665.2,479.5 Q652.3,461.1 665.2,442.6Z" fill="#9ab43e"/><path d="M654.4,481.8 Q666.7,499.4 654.4,517.0 Q642.0,499.4 654.4,481.8Z" fill="#9ab43e"/><path d="M665.2,481.9 Q678.2,500.3 665.2,518.8 Q652.3,500.3 665.2,481.9Z" fill="#1f78c1"/><path d="M756.5,447.7 Q767.8,463.7 756.5,479.7 Q745.3,463.7 756.5,447.7Z" fill="#1f78c1"/><path d="M766.5,446.0 Q778.2,462.8 766.5,479.6 Q754.7,462.8 766.5,446.0Z" fill="#9ab43e"/><path d="M756.5,481.7 Q767.8,497.7 756.5,513.7 Q745.3,497.7 756.5,481.7Z" fill="#9ab43e"/><path d="M766.5,481.8 Q778.2,498.6 766.5,515.4 Q754.7,498.6 766.5,481.8Z" fill="#1f78c1"/><path d="M797.2,447.7 Q808.5,463.7 797.2,479.7 Q786.0,463.7 797.2,447.7Z" fill="#1f78c1"/><path d="M807.2,446.0 Q818.9,462.8 807.2,479.6 Q795.4,462.8 807.2,446.0Z" fill="#9ab43e"/><path d="M797.2,481.7 Q808.5,497.7 797.2,513.7 Q786.0,497.7 797.2,481.7Z" fill="#9ab43e"/><path d="M807.2,481.8 Q818.9,498.6 807.2,515.4 Q795.4,498.6 807.2,481.8Z" fill="#1f78c1"/><path d="M709.0,462.6 Q719.1,477.0 709.0,491.4 Q699.0,477.0 709.0,462.6Z" fill="#1f78c1"/><path d="M718.0,461.1 Q728.5,476.2 718.0,491.4 Q707.4,476.2 718.0,461.1Z" fill="#9ab43e"/><path d="M709.0,493.2 Q719.1,507.6 709.0,522.0 Q699.0,507.6 709.0,493.2Z" fill="#9ab43e"/><path d="M718.0,493.2 Q728.5,508.4 718.0,523.5 Q707.4,508.4 718.0,493.2Z" fill="#1f78c1"/><path d="M719.2,462.6 Q729.3,477.0 719.2,491.4 Q709.2,477.0 719.2,462.6Z" fill="#1f78c1"/><path d="M728.2,461.1 Q738.7,476.2 728.2,491.4 Q717.6,476.2 728.2,461.1Z" fill="#9ab43e"/><path d="M719.2,493.2 Q729.3,507.6 719.2,522.0 Q709.2,507.6 719.2,493.2Z" fill="#9ab43e"/><path d="M728.2,493.2 Q738.7,508.4 728.2,523.5 Q717.6,508.4 728.2,493.2Z" fill="#1f78c1"/><path d="M348.2,468.9 Q359.4,484.9 348.2,500.9 Q337.0,484.9 348.2,468.9Z" fill="#1f78c1"/><path d="M358.1,467.2 Q369.8,484.0 358.1,500.8 Q346.3,484.0 358.1,467.2Z" fill="#9ab43e"/><path d="M348.2,502.9 Q359.4,518.9 348.2,534.9 Q337.0,518.9 348.2,502.9Z" fill="#9ab43e"/><path d="M358.1,502.9 Q369.8,519.8 358.1,536.5 Q346.3,519.8 358.1,502.9Z" fill="#1f78c1"/><path d="M640.2,468.9 Q651.5,484.9 640.2,500.9 Q629.0,484.9 640.2,468.9Z" fill="#1f78c1"/><path d="M650.2,467.2 Q661.9,484.0 650.2,500.8 Q638.4,484.0 650.2,467.2Z" fill="#9ab43e"/><path d="M640.2,502.9 Q651.5,518.9 640.2,534.9 Q629.0,518.9 640.2,502.9Z" fill="#9ab43e"/><path d="M650.2,502.9 Q661.9,519.8 650.2,536.5 Q638.4,519.8 650.2,502.9Z" fill="#1f78c1"/><path d="M742.5,472.2 Q752.6,486.6 742.5,501.0 Q732.5,486.6 742.5,472.2Z" fill="#1f78c1"/><path d="M751.5,470.7 Q762.0,485.8 751.5,501.0 Q740.9,485.8 751.5,470.7Z" fill="#9ab43e"/><path d="M742.5,502.8 Q752.6,517.2 742.5,531.6 Q732.5,517.2 742.5,502.8Z" fill="#9ab43e"/><path d="M751.5,502.8 Q762.0,518.0 751.5,533.1 Q740.9,518.0 751.5,502.8Z" fill="#1f78c1"/><path d="M708.1,539.5 Q723.2,561.1 708.1,582.8 Q693.0,561.1 708.1,539.5Z" fill="#1f78c1"/><path d="M721.5,537.3 Q737.4,560.0 721.5,582.7 Q705.6,560.0 721.5,537.3Z" fill="#9ab43e"/><path d="M708.1,585.5 Q723.2,607.1 708.1,628.7 Q693.0,607.1 708.1,585.5Z" fill="#9ab43e"/><path d="M721.5,585.5 Q737.4,608.2 721.5,630.9 Q705.6,608.2 721.5,585.5Z" fill="#1f78c1"/><path d="M969.1,544.5 Q982.5,563.7 969.1,582.9 Q955.6,563.7 969.1,544.5Z" fill="#1f78c1"/><path d="M980.9,542.5 Q995.1,562.7 980.9,582.8 Q966.8,562.7 980.9,542.5Z" fill="#9ab43e"/><path d="M969.1,585.3 Q982.5,604.5 969.1,623.7 Q955.6,604.5 969.1,585.3Z" fill="#9ab43e"/><path d="M980.9,585.4 Q995.1,605.5 980.9,625.7 Q966.8,605.5 980.9,585.4Z" fill="#1f78c1"/><path d="M1083.9,544.5 Q1097.3,563.7 1083.9,582.9 Q1070.4,563.7 1083.9,544.5Z" fill="#1f78c1"/><path d="M1095.7,542.5 Q1109.9,562.7 1095.7,582.8 Q1081.6,562.7 1095.7,542.5Z" fill="#9ab43e"/><path d="M1083.9,585.3 Q1097.3,604.5 1083.9,623.7 Q1070.4,604.5 1083.9,585.3Z" fill="#9ab43e"/><path d="M1095.7,585.4 Q1109.9,605.5 1095.7,625.7 Q1081.6,605.5 1095.7,585.4Z" fill="#1f78c1"/><path d="M359.9,598.8 Q373.3,618.0 359.9,637.2 Q346.4,618.0 359.9,598.8Z" fill="#1f78c1"/><path d="M371.7,596.8 Q385.9,617.0 371.7,637.1 Q357.6,617.0 371.7,596.8Z" fill="#9ab43e"/><path d="M359.9,639.6 Q373.3,658.8 359.9,678.0 Q346.4,658.8 359.9,639.6Z" fill="#9ab43e"/><path d="M371.7,639.7 Q385.9,659.8 371.7,680.0 Q357.6,659.8 371.7,639.7Z" fill="#1f78c1"/><path d="M645.9,595.5 Q660.4,616.3 645.9,637.1 Q631.3,616.3 645.9,595.5Z" fill="#1f78c1"/><path d="M658.7,593.4 Q674.0,615.2 658.7,637.0 Q643.4,615.2 658.7,593.4Z" fill="#9ab43e"/><path d="M645.9,639.7 Q660.4,660.5 645.9,681.3 Q631.3,660.5 645.9,639.7Z" fill="#9ab43e"/><path d="M658.7,639.8 Q674.0,661.6 658.7,683.4 Q643.4,661.6 658.7,639.8Z" fill="#1f78c1"/><path d="M835.8,605.4 Q847.0,621.4 835.8,637.4 Q824.5,621.4 835.8,605.4Z" fill="#1f78c1"/><path d="M845.7,603.8 Q857.4,620.5 845.7,637.3 Q833.9,620.5 845.7,603.8Z" fill="#9ab43e"/><path d="M835.8,639.4 Q847.0,655.4 835.8,671.4 Q824.5,655.4 835.8,639.4Z" fill="#9ab43e"/><path d="M845.7,639.5 Q857.4,656.2 845.7,673.0 Q833.9,656.2 845.7,639.5Z" fill="#1f78c1"/><path d="M261.2,649.5 Q275.2,669.5 261.2,689.5 Q247.2,669.5 261.2,649.5Z" fill="#1f78c1"/><path d="M273.6,647.4 Q288.3,668.4 273.6,689.4 Q258.9,668.4 273.6,647.4Z" fill="#9ab43e"/><path d="M261.2,692.0 Q275.2,712.0 261.2,732.0 Q247.2,712.0 261.2,692.0Z" fill="#9ab43e"/><path d="M273.6,692.0 Q288.3,713.0 273.6,734.0 Q258.9,713.0 273.6,692.0Z" fill="#1f78c1"/><path d="M282.6,664.3 Q291.6,677.1 282.6,689.9 Q273.7,677.1 282.6,664.3Z" fill="#1f78c1"/><path d="M290.6,663.0 Q300.0,676.4 290.6,689.9 Q281.2,676.4 290.6,663.0Z" fill="#9ab43e"/><path d="M282.6,691.5 Q291.6,704.3 282.6,717.1 Q273.7,704.3 282.6,691.5Z" fill="#9ab43e"/><path d="M290.6,691.5 Q300.0,705.0 290.6,718.4 Q281.2,705.0 290.6,691.5Z" fill="#1f78c1"/><path d="M592.0,657.7 Q603.2,673.7 592.0,689.7 Q580.8,673.7 592.0,657.7Z" fill="#1f78c1"/><path d="M602.0,656.1 Q613.7,672.9 602.0,689.6 Q590.2,672.9 602.0,656.1Z" fill="#9ab43e"/><path d="M592.0,691.7 Q603.2,707.7 592.0,723.7 Q580.8,707.7 592.0,691.7Z" fill="#9ab43e"/><path d="M602.0,691.8 Q613.7,708.6 602.0,725.4 Q590.2,708.6 602.0,691.8Z" fill="#1f78c1"/><path d="M638.2,651.1 Q651.6,670.3 638.2,689.5 Q624.7,670.3 638.2,651.1Z" fill="#1f78c1"/><path d="M650.0,649.1 Q664.2,669.3 650.0,689.4 Q635.9,669.3 650.0,649.1Z" fill="#9ab43e"/><path d="M638.2,691.9 Q651.6,711.1 638.2,730.3 Q624.7,711.1 638.2,691.9Z" fill="#9ab43e"/><path d="M650.0,692.0 Q664.2,712.1 650.0,732.3 Q635.9,712.1 650.0,692.0Z" fill="#1f78c1"/><path d="M724.6,657.7 Q735.9,673.7 724.6,689.7 Q713.4,673.7 724.6,657.7Z" fill="#1f78c1"/><path d="M734.6,656.1 Q746.3,672.9 734.6,689.6 Q722.8,672.9 734.6,656.1Z" fill="#9ab43e"/><path d="M724.6,691.7 Q735.9,707.7 724.6,723.7 Q713.4,707.7 724.6,691.7Z" fill="#9ab43e"/><path d="M734.6,691.8 Q746.3,708.6 734.6,725.4 Q722.8,708.6 734.6,691.8Z" fill="#1f78c1"/><path d="M334.8,678.2 Q348.2,697.4 334.8,716.6 Q321.3,697.4 334.8,678.2Z" fill="#1f78c1"/><path d="M346.6,676.2 Q360.8,696.4 346.6,716.5 Q332.5,696.4 346.6,676.2Z" fill="#9ab43e"/><path d="M334.8,719.0 Q348.2,738.2 334.8,757.4 Q321.3,738.2 334.8,719.0Z" fill="#9ab43e"/><path d="M346.6,719.1 Q360.8,739.2 346.6,759.4 Q332.5,739.2 346.6,719.1Z" fill="#1f78c1"/><path d="M753.3,678.2 Q766.7,697.4 753.3,716.6 Q739.8,697.4 753.3,678.2Z" fill="#1f78c1"/><path d="M765.1,676.2 Q779.3,696.4 765.1,716.5 Q751.0,696.4 765.1,676.2Z" fill="#9ab43e"/><path d="M753.3,719.0 Q766.7,738.2 753.3,757.4 Q739.8,738.2 753.3,719.0Z" fill="#9ab43e"/><path d="M765.1,719.1 Q779.3,739.2 765.1,759.4 Q751.0,739.2 765.1,719.1Z" fill="#1f78c1"/><path d="M855.2,684.8 Q866.5,700.8 855.2,716.8 Q844.0,700.8 855.2,684.8Z" fill="#1f78c1"/><path d="M865.2,683.1 Q876.9,699.9 865.2,716.7 Q853.4,699.9 865.2,683.1Z" fill="#9ab43e"/><path d="M855.2,718.8 Q866.5,734.8 855.2,750.8 Q844.0,734.8 855.2,718.8Z" fill="#9ab43e"/><path d="M865.2,718.9 Q876.9,735.6 865.2,752.4 Q853.4,735.6 865.2,718.9Z" fill="#1f78c1"/><path d="M930.4,681.5 Q942.7,699.1 930.4,716.7 Q918.0,699.1 930.4,681.5Z" fill="#1f78c1"/><path d="M941.2,679.7 Q954.2,698.2 941.2,716.6 Q928.3,698.2 941.2,679.7Z" fill="#9ab43e"/><path d="M930.4,718.9 Q942.7,736.5 930.4,754.1 Q918.0,736.5 930.4,718.9Z" fill="#9ab43e"/><path d="M941.2,719.0 Q954.2,737.4 941.2,755.9 Q928.3,737.4 941.2,719.0Z" fill="#1f78c1"/><path d="M729.1,719.2 Q741.4,736.8 729.1,754.4 Q716.7,736.8 729.1,719.2Z" fill="#1f78c1"/><path d="M739.9,717.4 Q752.9,735.9 739.9,754.3 Q727.0,735.9 739.9,717.4Z" fill="#9ab43e"/><path d="M729.1,756.6 Q741.4,774.2 729.1,791.8 Q716.7,774.2 729.1,756.6Z" fill="#9ab43e"/><path d="M739.9,756.7 Q752.9,775.1 739.9,793.6 Q727.0,775.1 739.9,756.7Z" fill="#1f78c1"/><path d="M912.3,719.2 Q924.6,736.8 912.3,754.4 Q899.9,736.8 912.3,719.2Z" fill="#1f78c1"/><path d="M923.1,717.4 Q936.1,735.9 923.1,754.3 Q910.2,735.9 923.1,717.4Z" fill="#9ab43e"/><path d="M912.3,756.6 Q924.6,774.2 912.3,791.8 Q899.9,774.2 912.3,756.6Z" fill="#9ab43e"/><path d="M923.1,756.7 Q936.1,775.1 923.1,793.6 Q910.2,775.1 923.1,756.7Z" fill="#1f78c1"/><path d="M969.1,722.5 Q980.4,738.5 969.1,754.5 Q957.9,738.5 969.1,722.5Z" fill="#1f78c1"/><path d="M979.1,720.9 Q990.8,737.6 979.1,754.4 Q967.3,737.6 979.1,720.9Z" fill="#9ab43e"/><path d="M969.1,756.5 Q980.4,772.5 969.1,788.5 Q957.9,772.5 969.1,756.5Z" fill="#9ab43e"/><path d="M979.1,756.6 Q990.8,773.4 979.1,790.1 Q967.3,773.4 979.1,756.6Z" fill="#1f78c1"/><path d="M393.2,777.9 Q404.4,793.9 393.2,809.9 Q382.1,793.9 393.2,777.9Z" fill="#1f78c1"/><path d="M403.1,776.2 Q414.9,793.0 403.1,809.8 Q391.4,793.0 403.1,776.2Z" fill="#9ab43e"/><path d="M393.2,811.9 Q404.4,827.9 393.2,843.9 Q382.1,827.9 393.2,811.9Z" fill="#9ab43e"/><path d="M403.1,812.0 Q414.9,828.8 403.1,845.5 Q391.4,828.8 403.1,812.0Z" fill="#1f78c1"/><path d="M746.4,771.3 Q759.8,790.5 746.4,809.7 Q732.9,790.5 746.4,771.3Z" fill="#1f78c1"/><path d="M758.2,769.3 Q772.4,789.5 758.2,809.6 Q744.1,789.5 758.2,769.3Z" fill="#9ab43e"/><path d="M746.4,812.1 Q759.8,831.3 746.4,850.5 Q732.9,831.3 746.4,812.1Z" fill="#9ab43e"/><path d="M758.2,812.2 Q772.4,832.3 758.2,852.5 Q744.1,832.3 758.2,812.2Z" fill="#1f78c1"/><path d="M814.4,771.3 Q827.8,790.5 814.4,809.7 Q800.9,790.5 814.4,771.3Z" fill="#1f78c1"/><path d="M826.2,769.3 Q840.4,789.5 826.2,809.6 Q812.1,789.5 826.2,769.3Z" fill="#9ab43e"/><path d="M814.4,812.1 Q827.8,831.3 814.4,850.5 Q800.9,831.3 814.4,812.1Z" fill="#9ab43e"/><path d="M826.2,812.2 Q840.4,832.3 826.2,852.5 Q812.1,832.3 826.2,812.2Z" fill="#1f78c1"/><path d="M877.5,771.3 Q890.9,790.5 877.5,809.7 Q864.0,790.5 877.5,771.3Z" fill="#1f78c1"/><path d="M889.3,769.3 Q903.5,789.5 889.3,809.6 Q875.2,789.5 889.3,769.3Z" fill="#9ab43e"/><path d="M877.5,812.1 Q890.9,831.3 877.5,850.5 Q864.0,831.3 877.5,812.1Z" fill="#9ab43e"/><path d="M889.3,812.2 Q903.5,832.3 889.3,852.5 Q875.2,832.3 889.3,812.2Z" fill="#1f78c1"/><path d="M1134.5,777.9 Q1145.7,793.9 1134.5,809.9 Q1123.2,793.9 1134.5,777.9Z" fill="#1f78c1"/><path d="M1144.4,776.2 Q1156.1,793.0 1144.4,809.8 Q1132.6,793.0 1144.4,776.2Z" fill="#9ab43e"/><path d="M1134.5,811.9 Q1145.7,827.9 1134.5,843.9 Q1123.2,827.9 1134.5,811.9Z" fill="#9ab43e"/><path d="M1144.4,812.0 Q1156.1,828.8 1144.4,845.5 Q1132.6,828.8 1144.4,812.0Z" fill="#1f78c1"/><path d="M1195.0,797.7 Q1199.5,804.1 1195.0,810.5 Q1190.5,804.1 1195.0,797.7Z" fill="#1f78c1"/><path d="M1199.0,797.0 Q1203.7,803.8 1199.0,810.5 Q1194.3,803.8 1199.0,797.0Z" fill="#9ab43e"/><path d="M1195.0,811.3 Q1199.5,817.7 1195.0,824.1 Q1190.5,817.7 1195.0,811.3Z" fill="#9ab43e"/><path d="M1199.0,811.3 Q1203.7,818.0 1199.0,824.8 Q1194.3,818.0 1199.0,811.3Z" fill="#1f78c1"/><path d="M1437.2,781.2 Q1447.3,795.6 1437.2,810.0 Q1427.2,795.6 1437.2,781.2Z" fill="#1f78c1"/><path d="M1446.2,779.7 Q1456.7,794.8 1446.2,810.0 Q1435.6,794.8 1446.2,779.7Z" fill="#9ab43e"/><path d="M1437.2,811.8 Q1447.3,826.2 1437.2,840.6 Q1427.2,826.2 1437.2,811.8Z" fill="#9ab43e"/><path d="M1446.2,811.8 Q1456.7,827.0 1446.2,842.1 Q1435.6,827.0 1446.2,811.8Z" fill="#1f78c1"/><path d="M308.6,814.2 Q322.0,833.4 308.6,852.6 Q295.1,833.4 308.6,814.2Z" fill="#1f78c1"/><path d="M320.4,812.2 Q334.6,832.4 320.4,852.5 Q306.3,832.4 320.4,812.2Z" fill="#9ab43e"/><path d="M308.6,855.0 Q322.0,874.2 308.6,893.4 Q295.1,874.2 308.6,855.0Z" fill="#9ab43e"/><path d="M320.4,855.1 Q334.6,875.2 320.4,895.4 Q306.3,875.2 320.4,855.1Z" fill="#1f78c1"/><path d="M417.8,820.8 Q428.9,836.8 417.8,852.8 Q406.6,836.8 417.8,820.8Z" fill="#1f78c1"/><path d="M427.6,819.1 Q439.4,835.9 427.6,852.7 Q415.9,835.9 427.6,819.1Z" fill="#9ab43e"/><path d="M417.8,854.8 Q428.9,870.8 417.8,886.8 Q406.6,870.8 417.8,854.8Z" fill="#9ab43e"/><path d="M427.6,854.9 Q439.4,871.6 427.6,888.4 Q415.9,871.6 427.6,854.9Z" fill="#1f78c1"/><path d="M586.8,820.8 Q598.0,836.8 586.8,852.8 Q575.6,836.8 586.8,820.8Z" fill="#1f78c1"/><path d="M596.8,819.1 Q608.5,835.9 596.8,852.7 Q585.0,835.9 596.8,819.1Z" fill="#9ab43e"/><path d="M586.8,854.8 Q598.0,870.8 586.8,886.8 Q575.6,870.8 586.8,854.8Z" fill="#9ab43e"/><path d="M596.8,854.9 Q608.5,871.6 596.8,888.4 Q585.0,871.6 596.8,854.9Z" fill="#1f78c1"/><path d="M693.2,820.8 Q704.5,836.8 693.2,852.8 Q682.0,836.8 693.2,820.8Z" fill="#1f78c1"/><path d="M703.2,819.1 Q714.9,835.9 703.2,852.7 Q691.4,835.9 703.2,819.1Z" fill="#9ab43e"/><path d="M693.2,854.8 Q704.5,870.8 693.2,886.8 Q682.0,870.8 693.2,854.8Z" fill="#9ab43e"/><path d="M703.2,854.9 Q714.9,871.6 703.2,888.4 Q691.4,871.6 703.2,854.9Z" fill="#1f78c1"/><path d="M764.8,820.8 Q776.0,836.8 764.8,852.8 Q753.5,836.8 764.8,820.8Z" fill="#1f78c1"/><path d="M774.7,819.1 Q786.4,835.9 774.7,852.7 Q762.9,835.9 774.7,819.1Z" fill="#9ab43e"/><path d="M764.8,854.8 Q776.0,870.8 764.8,886.8 Q753.5,870.8 764.8,854.8Z" fill="#9ab43e"/><path d="M774.7,854.9 Q786.4,871.6 774.7,888.4 Q762.9,871.6 774.7,854.9Z" fill="#1f78c1"/><path d="M816.8,817.5 Q829.1,835.1 816.8,852.7 Q804.4,835.1 816.8,817.5Z" fill="#1f78c1"/><path d="M827.6,815.7 Q840.6,834.2 827.6,852.6 Q814.7,834.2 827.6,815.7Z" fill="#9ab43e"/><path d="M816.8,854.9 Q829.1,872.5 816.8,890.1 Q804.4,872.5 816.8,854.9Z" fill="#9ab43e"/><path d="M827.6,855.0 Q840.6,873.4 827.6,891.9 Q814.7,873.4 827.6,855.0Z" fill="#1f78c1"/><path d="M352.1,885.2 Q366.6,906.0 352.1,926.8 Q337.5,906.0 352.1,885.2Z" fill="#1f78c1"/><path d="M364.9,883.1 Q380.2,904.9 364.9,926.7 Q349.6,904.9 364.9,883.1Z" fill="#9ab43e"/><path d="M352.1,929.4 Q366.6,950.2 352.1,971.0 Q337.5,950.2 352.1,929.4Z" fill="#9ab43e"/><path d="M364.9,929.5 Q380.2,951.3 364.9,973.1 Q349.6,951.3 364.9,929.5Z" fill="#1f78c1"/><path d="M725.4,901.7 Q734.4,914.5 725.4,927.3 Q716.5,914.5 725.4,901.7Z" fill="#1f78c1"/><path d="M733.4,900.4 Q742.8,913.8 733.4,927.3 Q724.0,913.8 733.4,900.4Z" fill="#9ab43e"/><path d="M725.4,928.9 Q734.4,941.7 725.4,954.5 Q716.5,941.7 725.4,928.9Z" fill="#9ab43e"/><path d="M733.4,928.9 Q742.8,942.4 733.4,955.8 Q724.0,942.4 733.4,928.9Z" fill="#1f78c1"/><path d="M831.5,891.8 Q843.8,909.4 831.5,927.0 Q819.1,909.4 831.5,891.8Z" fill="#1f78c1"/><path d="M842.3,890.0 Q855.3,908.5 842.3,926.9 Q829.4,908.5 842.3,890.0Z" fill="#9ab43e"/><path d="M831.5,929.2 Q843.8,946.8 831.5,964.4 Q819.1,946.8 831.5,929.2Z" fill="#9ab43e"/><path d="M842.3,929.3 Q855.3,947.7 842.3,966.2 Q829.4,947.7 842.3,929.3Z" fill="#1f78c1"/><path d="M353.6,924.0 Q364.8,940.0 353.6,956.0 Q342.4,940.0 353.6,924.0Z" fill="#1f78c1"/><path d="M363.4,922.4 Q375.2,939.1 363.4,955.9 Q351.7,939.1 363.4,922.4Z" fill="#9ab43e"/><path d="M353.6,958.0 Q364.8,974.0 353.6,990.0 Q342.4,974.0 353.6,958.0Z" fill="#9ab43e"/><path d="M363.4,958.1 Q375.2,974.9 363.4,991.6 Q351.7,974.9 363.4,958.1Z" fill="#1f78c1"/><path d="M825.7,920.7 Q838.0,938.3 825.7,955.9 Q813.3,938.3 825.7,920.7Z" fill="#1f78c1"/><path d="M836.5,918.9 Q849.5,937.4 836.5,955.8 Q823.6,937.4 836.5,918.9Z" fill="#9ab43e"/><path d="M825.7,958.1 Q838.0,975.7 825.7,993.3 Q813.3,975.7 825.7,958.1Z" fill="#9ab43e"/><path d="M836.5,958.2 Q849.5,976.6 836.5,995.1 Q823.6,976.6 836.5,958.2Z" fill="#1f78c1"/><path d="M1066.9,930.6 Q1075.9,943.4 1066.9,956.2 Q1058.0,943.4 1066.9,930.6Z" fill="#1f78c1"/><path d="M1074.9,929.3 Q1084.3,942.7 1074.9,956.2 Q1065.5,942.7 1074.9,929.3Z" fill="#9ab43e"/><path d="M1066.9,957.8 Q1075.9,970.6 1066.9,983.4 Q1058.0,970.6 1066.9,957.8Z" fill="#9ab43e"/><path d="M1074.9,957.8 Q1084.3,971.3 1074.9,984.7 Q1065.5,971.3 1074.9,957.8Z" fill="#1f78c1"/><path d="M142.8,943.7 Q160.7,969.3 142.8,994.9 Q124.9,969.3 142.8,943.7Z" fill="#1f78c1"/><path d="M158.6,941.1 Q177.4,967.9 158.6,994.8 Q139.8,967.9 158.6,941.1Z" fill="#9ab43e"/><path d="M142.8,998.1 Q160.7,1023.7 142.8,1049.3 Q124.9,1023.7 142.8,998.1Z" fill="#9ab43e"/><path d="M158.6,998.2 Q177.4,1025.1 158.6,1051.9 Q139.8,1025.1 158.6,998.2Z" fill="#1f78c1"/><path d="M653.4,955.2 Q667.4,975.2 653.4,995.2 Q639.4,975.2 653.4,955.2Z" fill="#1f78c1"/><path d="M665.8,953.2 Q680.5,974.2 665.8,995.2 Q651.1,974.2 665.8,953.2Z" fill="#9ab43e"/><path d="M653.4,997.8 Q667.4,1017.8 653.4,1037.8 Q639.4,1017.8 653.4,997.8Z" fill="#9ab43e"/><path d="M665.8,997.8 Q680.5,1018.8 665.8,1039.8 Q651.1,1018.8 665.8,997.8Z" fill="#1f78c1"/></g><g id="corr"><line x1="424" y1="284.5" x2="1517.3" y2="284.5" stroke="#1a1a1a" stroke-width="3.4"/><circle cx="424" cy="284.5" r="5.4" fill="#0d0d0d"/><circle cx="1335.6" cy="284.5" r="5.4" fill="#0d0d0d"/><circle cx="1373.4" cy="284.5" r="5.4" fill="#0d0d0d"/><circle cx="1517.3" cy="284.5" r="5.4" fill="#0d0d0d"/><line x1="366.4" y1="299.9" x2="856.4" y2="299.9" stroke="#1a1a1a" stroke-width="3.4"/><circle cx="366.4" cy="299.9" r="5.4" fill="#0d0d0d"/><circle cx="856.4" cy="299.9" r="5.4" fill="#0d0d0d"/><line x1="566.4" y1="385.6" x2="750.3" y2="385.6" stroke="#1a1a1a" stroke-width="3.4"/><circle cx="566.4" cy="385.6" r="5.4" fill="#0d0d0d"/><circle cx="750.3" cy="385.6" r="5.4" fill="#0d0d0d"/><line x1="524.2" y1="437.1" x2="1136" y2="437.1" stroke="#1a1a1a" stroke-width="3.4"/><circle cx="524.2" cy="437.1" r="5.4" fill="#0d0d0d"/><circle cx="959" cy="437.1" r="5.4" fill="#0d0d0d"/><circle cx="1039.5" cy="437.1" r="5.4" fill="#0d0d0d"/><circle cx="1136" cy="437.1" r="5.4" fill="#0d0d0d"/><line x1="414" y1="480.7" x2="802.2" y2="480.7" stroke="#1a1a1a" stroke-width="3.4"/><circle cx="414" cy="480.7" r="5.4" fill="#0d0d0d"/><circle cx="659.8" cy="480.7" r="5.4" fill="#0d0d0d"/><circle cx="761.5" cy="480.7" r="5.4" fill="#0d0d0d"/><circle cx="802.2" cy="480.7" r="5.4" fill="#0d0d0d"/><line x1="472.3" y1="492.3" x2="764.4" y2="492.3" stroke="#1a1a1a" stroke-width="3.4"/><circle cx="472.3" cy="492.3" r="5.4" fill="#0d0d0d"/><circle cx="713.5" cy="492.3" r="5.4" fill="#0d0d0d"/><circle cx="723.7" cy="492.3" r="5.4" fill="#0d0d0d"/><circle cx="764.4" cy="492.3" r="5.4" fill="#0d0d0d"/><line x1="353.1" y1="501.9" x2="802.2" y2="501.9" stroke="#1a1a1a" stroke-width="3.4"/><circle cx="353.1" cy="501.9" r="5.4" fill="#0d0d0d"/><circle cx="645.2" cy="501.9" r="5.4" fill="#0d0d0d"/><circle cx="747" cy="501.9" r="5.4" fill="#0d0d0d"/><circle cx="802.2" cy="501.9" r="5.4" fill="#0d0d0d"/><line x1="714.8" y1="584.1" x2="1089.8" y2="584.1" stroke="#1a1a1a" stroke-width="3.4"/><circle cx="714.8" cy="584.1" r="5.4" fill="#0d0d0d"/><circle cx="975" cy="584.1" r="5.4" fill="#0d0d0d"/><circle cx="1089.8" cy="584.1" r="5.4" fill="#0d0d0d"/><line x1="365.8" y1="638.4" x2="840.7" y2="638.4" stroke="#1a1a1a" stroke-width="3.4"/><circle cx="365.8" cy="638.4" r="5.4" fill="#0d0d0d"/><circle cx="652.3" cy="638.4" r="5.4" fill="#0d0d0d"/><circle cx="840.7" cy="638.4" r="5.4" fill="#0d0d0d"/><line x1="267.4" y1="690.7" x2="736" y2="690.7" stroke="#1a1a1a" stroke-width="5.6"/><circle cx="267.4" cy="690.7" r="5.4" fill="#0d0d0d"/><circle cx="286.6" cy="690.7" r="5.4" fill="#0d0d0d"/><circle cx="644.1" cy="690.7" r="5.4" fill="#0d0d0d"/><circle cx="729.6" cy="690.7" r="5.4" fill="#0d0d0d"/><line x1="340.7" y1="717.8" x2="935.8" y2="717.8" stroke="#1a1a1a" stroke-width="3.4"/><circle cx="340.7" cy="717.8" r="5.4" fill="#0d0d0d"/><circle cx="759.2" cy="717.8" r="5.4" fill="#0d0d0d"/><circle cx="860.2" cy="717.8" r="5.4" fill="#0d0d0d"/><circle cx="935.8" cy="717.8" r="5.4" fill="#0d0d0d"/><line x1="471.7" y1="755.5" x2="974.1" y2="755.5" stroke="#1a1a1a" stroke-width="3.4"/><circle cx="471.7" cy="755.5" r="5.4" fill="#0d0d0d"/><circle cx="734.5" cy="755.5" r="5.4" fill="#0d0d0d"/><circle cx="917.7" cy="755.5" r="5.4" fill="#0d0d0d"/><circle cx="974.1" cy="755.5" r="5.4" fill="#0d0d0d"/><line x1="398.2" y1="810.9" x2="1441.7" y2="810.9" stroke="#1a1a1a" stroke-width="3.4"/><circle cx="398.2" cy="810.9" r="5.4" fill="#0d0d0d"/><circle cx="511.6" cy="810.9" r="5.4" fill="#0d0d0d"/><circle cx="752.3" cy="810.9" r="5.4" fill="#0d0d0d"/><circle cx="820.3" cy="810.9" r="5.4" fill="#0d0d0d"/><circle cx="883.4" cy="810.9" r="5.4" fill="#0d0d0d"/><circle cx="1139.4" cy="810.9" r="5.4" fill="#0d0d0d"/><circle cx="1197" cy="810.9" r="5.4" fill="#0d0d0d"/><circle cx="1441.7" cy="810.9" r="5.4" fill="#0d0d0d"/><line x1="478.5" y1="829.0" x2="820.3" y2="829.0" stroke="#1a1a1a" stroke-width="3.4"/><circle cx="478.5" cy="829.0" r="5.4" fill="#0d0d0d"/><circle cx="820.3" cy="829.0" r="5.4" fill="#0d0d0d"/><line x1="314.5" y1="853.8" x2="822.2" y2="853.8" stroke="#1a1a1a" stroke-width="3.4"/><circle cx="314.5" cy="853.8" r="5.4" fill="#0d0d0d"/><circle cx="422.7" cy="853.8" r="5.4" fill="#0d0d0d"/><circle cx="591.8" cy="853.8" r="5.4" fill="#0d0d0d"/><circle cx="698.2" cy="853.8" r="5.4" fill="#0d0d0d"/><circle cx="769.7" cy="853.8" r="5.4" fill="#0d0d0d"/><circle cx="822.2" cy="853.8" r="5.4" fill="#0d0d0d"/><line x1="358.5" y1="928.1" x2="836.9" y2="928.1" stroke="#1a1a1a" stroke-width="3.4"/><circle cx="358.5" cy="928.1" r="5.4" fill="#0d0d0d"/><circle cx="729.4" cy="928.1" r="5.4" fill="#0d0d0d"/><circle cx="836.9" cy="928.1" r="5.4" fill="#0d0d0d"/><line x1="358.5" y1="957.0" x2="1070.9" y2="957.0" stroke="#1a1a1a" stroke-width="3.4"/><circle cx="358.5" cy="957.0" r="5.4" fill="#0d0d0d"/><circle cx="831.1" cy="957.0" r="5.4" fill="#0d0d0d"/><circle cx="1070.9" cy="957.0" r="5.4" fill="#0d0d0d"/><line x1="150.7" y1="996.5" x2="659.6" y2="996.5" stroke="#1a1a1a" stroke-width="3.4"/><circle cx="150.7" cy="996.5" r="5.4" fill="#0d0d0d"/><circle cx="659.6" cy="996.5" r="5.4" fill="#0d0d0d"/></g><g id="frame"><path d="M117,148.7 L1587,146 L1587,1174.4 L117,1174.4 Z" fill="none" stroke="#1a1a1a" stroke-width="4.4"/><line x1="97" y1="193.5" x2="116" y2="193.5" stroke="#555" stroke-width="2"/><line x1="97" y1="282" x2="116" y2="282" stroke="#555" stroke-width="2"/><line x1="97" y1="458" x2="116" y2="458" stroke="#555" stroke-width="2"/><line x1="97" y1="547" x2="116" y2="547" stroke="#555" stroke-width="2"/><line x1="97" y1="634.5" x2="116" y2="634.5" stroke="#555" stroke-width="2"/><line x1="97" y1="723" x2="116" y2="723" stroke="#555" stroke-width="2"/><line x1="97" y1="899" x2="116" y2="899" stroke="#555" stroke-width="2"/><line x1="97" y1="988.6" x2="116" y2="988.6" stroke="#555" stroke-width="2"/><line x1="97" y1="1076.4" x2="116" y2="1076.4" stroke="#555" stroke-width="2"/><line x1="97" y1="1163.6" x2="116" y2="1163.6" stroke="#555" stroke-width="2"/><line x1="97" y1="369.7" x2="116" y2="369.7" stroke="#1a1a1a" stroke-width="4.2"/><line x1="97" y1="812.3" x2="116" y2="812.3" stroke="#1a1a1a" stroke-width="4.2"/><line x1="214" y1="1174" x2="214" y2="1210" stroke="#1a1a1a" stroke-width="4.2"/><line x1="350" y1="1174" x2="350" y2="1210" stroke="#1a1a1a" stroke-width="4.2"/><line x1="628.5" y1="1174" x2="628.5" y2="1210" stroke="#1a1a1a" stroke-width="4.2"/><line x1="906.7" y1="1174" x2="906.7" y2="1210" stroke="#1a1a1a" stroke-width="4.2"/><line x1="1185" y1="1174" x2="1185" y2="1210" stroke="#1a1a1a" stroke-width="4.2"/><line x1="1463.5" y1="1174" x2="1463.5" y2="1210" stroke="#1a1a1a" stroke-width="4.2"/><line x1="1574" y1="1174" x2="1574" y2="1210" stroke="#1a1a1a" stroke-width="4.2"/><line x1="158" y1="1174" x2="158" y2="1201" stroke="#555" stroke-width="2"/><line x1="238" y1="1174" x2="238" y2="1201" stroke="#555" stroke-width="2"/><line x1="294.6" y1="1174" x2="294.6" y2="1201" stroke="#555" stroke-width="2"/><line x1="406.5" y1="1174" x2="406.5" y2="1201" stroke="#555" stroke-width="2"/><line x1="461.7" y1="1174" x2="461.7" y2="1201" stroke="#555" stroke-width="2"/><line x1="517" y1="1174" x2="517" y2="1201" stroke="#555" stroke-width="2"/><line x1="573.7" y1="1174" x2="573.7" y2="1201" stroke="#555" stroke-width="2"/><line x1="684.3" y1="1174" x2="684.3" y2="1201" stroke="#555" stroke-width="2"/><line x1="741" y1="1174" x2="741" y2="1201" stroke="#555" stroke-width="2"/><line x1="796.2" y1="1174" x2="796.2" y2="1201" stroke="#555" stroke-width="2"/><line x1="851.5" y1="1174" x2="851.5" y2="1201" stroke="#555" stroke-width="2"/><line x1="962" y1="1174" x2="962" y2="1201" stroke="#555" stroke-width="2"/><line x1="1018.6" y1="1174" x2="1018.6" y2="1201" stroke="#555" stroke-width="2"/><line x1="1073.8" y1="1174" x2="1073.8" y2="1201" stroke="#555" stroke-width="2"/><line x1="1130" y1="1174" x2="1130" y2="1201" stroke="#555" stroke-width="2"/><line x1="1241" y1="1174" x2="1241" y2="1201" stroke="#555" stroke-width="2"/><line x1="1298" y1="1174" x2="1298" y2="1201" stroke="#555" stroke-width="2"/><line x1="1353" y1="1174" x2="1353" y2="1201" stroke="#555" stroke-width="2"/><line x1="1408" y1="1174" x2="1408" y2="1201" stroke="#555" stroke-width="2"/><line x1="1518.8" y1="1174" x2="1518.8" y2="1201" stroke="#555" stroke-width="2"/><rect x="219.8" y="128" width="8.4" height="32" fill="#fff"/><rect x="220.4" y="128" width="2.2" height="32" fill="#3a3a3a"/><rect x="225.4" y="128" width="2.2" height="32" fill="#3a3a3a"/><rect x="1475.8" y="127" width="8.4" height="32" fill="#fff"/><rect x="1476.4" y="127" width="2.2" height="32" fill="#3a3a3a"/><rect x="1481.4" y="127" width="2.2" height="32" fill="#3a3a3a"/><rect x="220.60000000000002" y="1152" width="8.4" height="41" fill="#fff"/><rect x="221.20000000000002" y="1152" width="2.2" height="41" fill="#3a3a3a"/><rect x="226.20000000000002" y="1152" width="2.2" height="41" fill="#3a3a3a"/><rect x="1475.8" y="1153" width="8.4" height="45" fill="#fff"/><rect x="1476.4" y="1153" width="2.2" height="45" fill="#3a3a3a"/><rect x="1481.4" y="1153" width="2.2" height="45" fill="#3a3a3a"/></g><line x1="1449" y1="369.7" x2="1467.2" y2="345.6" stroke="#f05a28" stroke-width="7" stroke-linecap="butt"/><polygon points="1497,304.2 1450.5,333.3 1484,358" fill="#f05a28"/><line x1="229.2" y1="1080.8" x2="211.8" y2="1057.5" stroke="#f05a28" stroke-width="7" stroke-linecap="butt"/><polygon points="181.2,1016.8 194.3,1070.6 229.2,1044.4" fill="#f05a28"/><g id="textA"><text transform="matrix(0.8933,0,0,1,19.64,0)" x="0" y="83.70" font-size="91.14" font-weight="normal" fill="#222">A)</text><text transform="matrix(1.0019,0,0,1,169.64,0)" x="0" y="1266.30" font-size="42.37" font-weight="normal" fill="#2b2b2b">6.0</text><text transform="matrix(1.0207,0,0,1,305.27,0)" x="0" y="1266.30" font-size="42.37" font-weight="normal" fill="#2b2b2b">5.0</text><text transform="matrix(0.9866,0,0,1,582.04,0)" x="0" y="1266.30" font-size="42.37" font-weight="normal" fill="#2b2b2b">4.5</text><text transform="matrix(0.9933,0,0,1,860.03,0)" x="0" y="1266.30" font-size="42.37" font-weight="normal" fill="#2b2b2b">4.0</text><text transform="matrix(0.9692,0,0,1,1137.64,0)" x="0" y="1266.30" font-size="42.37" font-weight="normal" fill="#2b2b2b">3.5</text><text transform="matrix(1.0030,0,0,1,1413.78,0)" x="0" y="1266.30" font-size="42.37" font-weight="normal" fill="#2b2b2b">3.0</text><text transform="matrix(0.9961,0,0,1,1539.78,0)" x="0" y="1266.30" font-size="42.37" font-weight="normal" fill="#2b2b2b">2.0</text><text transform="matrix(1.0653,0,0,1,44.48,0)" x="0" y="394.20" font-size="42.65" font-weight="normal" fill="#2b2b2b">-2</text><text transform="matrix(0.8344,0,0,1,51.85,0)" x="0" y="831.50" font-size="41.86" font-weight="normal" fill="#2b2b2b">-1</text><text transform="matrix(1.0767,0,0,1,757.56,0)" x="0" y="1365.10" font-size="44.50" font-weight="normal" fill="#2b2b2b">ω</text><text transform="matrix(1.3458,0,0,1,793.41,0)" x="0" y="1383.40" font-size="23.49" font-weight="normal" fill="#2b2b2b">2</text><text transform="matrix(1.0678,0,0,1,822.18,0)" x="0" y="1365.10" font-size="51.02" font-weight="normal" fill="#2b2b2b">-</text><text transform="matrix(0.7613,0,0,1,853.71,0)" x="0" y="1343.80" font-size="22.24" font-weight="normal" fill="#2b2b2b">1</text><text transform="matrix(0.9288,0,0,1,867.35,0)" x="0" y="1365.10" font-size="53.20" font-weight="normal" fill="#2b2b2b">H</text><text transform="matrix(1.0150,0,0,1,913.85,0)" x="0" y="1365.10" font-size="53.20" font-weight="normal" fill="#2b2b2b">(ppm)</text><g transform="translate(62.7,766.5) rotate(-90)"><text transform="matrix(1.5684,0,0,1,-2.79,0)" x="0" y="-1.00" font-size="43.95" font-weight="normal" fill="#2b2b2b">ω</text><text transform="matrix(0.4313,0,0,1,49.12,0)" x="0" y="18.50" font-size="26.89" font-weight="normal" fill="#2b2b2b">1</text><text transform="matrix(0.6062,0,0,1,65.45,0)" x="0" y="0.00" font-size="50.00" font-weight="normal" fill="#2b2b2b">-</text><text transform="matrix(0.8646,0,0,1,94.57,0)" x="0" y="-18.70" font-size="28.20" font-weight="normal" fill="#2b2b2b">31</text><text transform="matrix(0.8004,0,0,1,128.42,0)" x="0" y="0.00" font-size="50.00" font-weight="normal" fill="#2b2b2b">P</text><text transform="matrix(1.1418,0,0,1,166.16,0)" x="0" y="0.00" font-size="50.00" font-weight="normal" fill="#2b2b2b">(ppm)</text></g><text transform="matrix(0.7043,0,0,1,1279.87,0)" x="0" y="442.30" font-size="67.59" font-weight="bold" fill="#1a1a1a">T4P-T4H4′</text><text transform="matrix(0.7609,0,0,1,129.82,0)" x="0" y="1146.20" font-size="63.37" font-weight="bold" fill="#1a1a1a">G12P-G11H3′</text><text transform="matrix(0.6443,0,0,1,1701.41,0)" x="0" y="84.00" font-size="68.75" font-weight="normal" fill="#141414">T4</text><text transform="matrix(0.6518,0,0,1,1708.58,0)" x="0" y="143.10" font-size="67.74" font-weight="normal" fill="#141414">G13</text><text transform="matrix(0.6305,0,0,1,1706.55,0)" x="0" y="204.30" font-size="67.74" font-weight="normal" fill="#141414">G11</text><text transform="matrix(0.7019,0,0,1,1715.51,0)" x="0" y="263.40" font-size="66.72" font-weight="normal" fill="#141414">A10</text><text transform="matrix(0.6499,0,0,1,1727.22,0)" x="0" y="324.70" font-size="66.74" font-weight="normal" fill="#141414">G7</text><text transform="matrix(0.6565,0,0,1,1746.73,0)" x="0" y="384.50" font-size="65.74" font-weight="normal" fill="#141414">G6</text><text transform="matrix(0.6307,0,0,1,1746.81,0)" x="0" y="445.00" font-size="65.74" font-weight="normal" fill="#141414">G3</text><text transform="matrix(0.6622,0,0,1,1763.41,0)" x="0" y="504.80" font-size="66.72" font-weight="normal" fill="#141414">A5</text><text transform="matrix(0.6701,0,0,1,1727.22,0)" x="0" y="561.20" font-size="64.73" font-weight="normal" fill="#141414">G2</text><text transform="matrix(0.6953,0,0,1,1772.37,0)" x="0" y="609.90" font-size="63.73" font-weight="normal" fill="#141414">G22</text><text transform="matrix(0.6417,0,0,1,1772.51,0)" x="0" y="670.40" font-size="64.73" font-weight="normal" fill="#141414">G21</text><text transform="matrix(0.6835,0,0,1,1771.49,0)" x="0" y="722.60" font-size="65.70" font-weight="normal" fill="#141414">T23</text><text transform="matrix(0.7022,0,0,1,1729.91,0)" x="0" y="776.10" font-size="67.01" font-weight="normal" fill="#141414">A19</text><text transform="matrix(0.6967,0,0,1,1767.78,0)" x="0" y="834.30" font-size="63.45" font-weight="normal" fill="#141414">G20</text><text transform="matrix(0.6849,0,0,1,1774.27,0)" x="0" y="892.70" font-size="64.02" font-weight="normal" fill="#141414">C18</text><text transform="matrix(0.7021,0,0,1,1767.74,0)" x="0" y="949.60" font-size="63.87" font-weight="normal" fill="#141414">G14</text><text transform="matrix(0.7138,0,0,1,1768.31,0)" x="0" y="1016.10" font-size="65.55" font-weight="normal" fill="#141414">A15</text><text transform="matrix(0.6960,0,0,1,1761.81,0)" x="0" y="1092.50" font-size="66.13" font-weight="normal" fill="#141414">A17</text><text transform="matrix(0.6632,0,0,1,1749.93,0)" x="0" y="1155.80" font-size="65.16" font-weight="normal" fill="#141414">G8</text><text transform="matrix(0.6976,0,0,1,1733.67,0)" x="0" y="1220.80" font-size="62.87" font-weight="normal" fill="#141414">C16</text><text transform="matrix(0.6792,0,0,1,1723.93,0)" x="0" y="1282.50" font-size="62.87" font-weight="normal" fill="#141414">C9</text><text transform="matrix(0.7091,0,0,1,1706.06,0)" x="0" y="1349.00" font-size="62.73" font-weight="normal" fill="#141414">G12</text></g><polyline points="1601.4,147.1 1595.6,153.0 1596.8,157.2 1598.8,161.4 1599.2,165.0 1599.5,168.6 1595.6,173.8 1601.4,180.3 1596.2,186.8 1598.4,190.7 1601.2,194.5 1603.4,198.4 1603.9,202.0 1604.0,205.6 1599.1,209.8 1595.6,214.0 1601.4,219.2 1596.2,225.1 1597.1,229.0 1599.5,232.9 1604.0,237.4 1605.5,241.3 1606.0,245.2 1603.3,250.4 1601.4,255.6 1606.0,260.8 1613.8,267.3 1611.2,272.5 1614.0,276.2 1617.7,280.0 1621.1,284.2 1623.0,288.5 1623.5,293.1 1624.0,297.8 1614.7,303.3 1614.0,307.6 1612.2,312.0 1611.0,316.3 1609.1,320.0 1606.2,323.8 1604.9,327.5 1602.6,331.2 1602.3,335.5 1600.8,339.9 1599.8,344.2 1601.5,347.9 1602.6,351.6 1603.6,355.3 1602.6,359.0 1603.3,362.8 1602.6,366.5 1607.2,370.6 1611.2,374.7 1615.2,378.7 1621.0,382.8 1624.9,386.9 1620.2,391.2 1616.0,395.6 1611.0,399.9 1611.4,403.6 1610.9,407.3 1611.0,411.0 1610.1,414.7 1612.0,418.4 1614.7,422.1 1616.2,425.9 1618.4,429.6 1625.6,434.2 1631.4,438.8 1628.5,442.5 1623.8,446.2 1620.4,450.0 1617.5,453.7 1618.0,457.4 1620.1,461.1 1620.2,464.8 1621.4,468.5 1622.1,472.2 1629.2,476.9 1637.0,481.5 1648.1,483.4 1651.4,488.0 1654.6,492.7 1651.2,497.4 1648.1,502.0 1638.0,505.7 1628.4,509.4 1618.4,513.1 1618.3,517.3 1618.6,521.5 1618.0,525.6 1617.5,529.8 1616.8,535.0 1614.7,540.2 1617.9,547.0 1615.6,551.6 1617.3,555.5 1618.7,559.4 1619.0,563.3 1623.4,568.0 1627.2,572.6 1638.8,579.5 1637.7,583.0 1628.4,588.8 1628.1,592.8 1629.5,596.9 1630.0,601.0 1629.5,605.0 1630.7,608.5 1630.8,612.0 1631.6,615.5 1631.9,619.0 1634.9,623.7 1638.8,628.4 1649.3,633.0 1652.8,638.8 1648.7,642.9 1643.5,647.0 1641.0,651.6 1638.3,656.3 1638.8,661.5 1640.0,666.7 1641.7,671.4 1644.7,676.0 1652.8,680.1 1659.8,684.2 1671.6,688.9 1681.9,693.5 1675.0,697.8 1670.0,702.0 1663.3,706.3 1667.2,710.5 1670.9,714.8 1675.5,719.0 1668.4,723.0 1662.0,727.0 1653.7,731.5 1644.5,736.0 1647.3,739.6 1648.2,743.1 1651.3,746.7 1652.6,750.2 1655.5,753.8 1652.9,757.9 1649.3,762.0 1647.2,766.0 1644.4,770.1 1640.7,774.2 1640.1,778.5 1640.2,782.9 1638.8,787.2 1642.2,791.0 1646.3,794.7 1657.7,799.4 1670.4,804.0 1672.0,807.7 1672.5,811.4 1674.1,815.1 1676.0,818.8 1671.5,822.5 1667.5,826.2 1663.0,829.9 1659.6,834.1 1656.7,838.2 1655.2,842.4 1651.8,846.6 1655.2,850.3 1660.0,854.1 1663.0,857.8 1653.1,862.1 1641.7,866.5 1631.4,870.8 1629.5,874.8 1627.7,878.7 1626.1,882.7 1624.1,886.7 1622.2,890.7 1620.4,894.6 1618.4,898.6 1620.2,902.7 1620.7,906.8 1621.6,910.8 1623.2,914.9 1624.0,919.0 1628.2,922.7 1632.9,926.5 1637.9,930.2 1635.9,934.4 1632.4,938.5 1629.7,942.7 1626.8,946.9 1630.7,950.6 1635.9,954.3 1640.7,958.0 1634.1,962.2 1626.5,966.4 1620.7,970.5 1613.8,974.7 1615.6,978.3 1616.3,981.9 1618.8,985.5 1620.2,989.2 1622.2,992.8 1623.2,996.4 1625.1,1000.0 1623.4,1005.8 1615.1,1010.0 1611.2,1013.8 1606.7,1017.5 1606.8,1021.4 1605.4,1025.3 1605.9,1029.2 1603.7,1033.4 1603.2,1037.6 1602.2,1041.7 1600.0,1045.9 1602.6,1050.1 1605.9,1054.3 1602.1,1058.8 1598.4,1063.4 1598.8,1067.3 1598.6,1071.2 1599.2,1075.1 1600.0,1078.8 1601.0,1082.6 1602.1,1086.3 1603.4,1090.1 1600.0,1096.0 1601.0,1099.6 1601.3,1103.2 1602.5,1106.8 1600.9,1110.7 1600.2,1114.6 1598.4,1118.5 1596.8,1123.1 1596.7,1127.7 1598.9,1131.9 1600.9,1136.1 1598.3,1140.7 1595.0,1145.2 1598.4,1149.0 1602.5,1152.8 1598.3,1156.5 1595.0,1160.3 1597.5,1163.9 1598.5,1167.5 1600.9,1171.1" fill="none" stroke="#333" stroke-width="2.5" stroke-linejoin="round"/><polyline points="1637.9,285.7 1649,285.7 1687.1,56.4 1697.6,56.4" fill="none" stroke="#3a3a3a" stroke-width="2"/><polyline points="1641.6,300 1651.8,300 1694.1,122.2 1703.8,122.2" fill="none" stroke="#3a3a3a" stroke-width="2"/><polyline points="1641.6,383.1 1652.7,383.1 1692.7,190.4 1703.1,190.4" fill="none" stroke="#3a3a3a" stroke-width="2"/><polyline points="1644.4,441.5 1655.5,441.5 1698.9,255.1 1709.4,255.1" fill="none" stroke="#3a3a3a" stroke-width="2"/><polyline points="1660.1,480.4 1671.3,480.4 1712.7,312.9 1722.4,312.9" fill="none" stroke="#3a3a3a" stroke-width="2"/><polyline points="1666.6,491.6 1675,491.6 1705,420 1732.2,369.2 1741.9,369.2" fill="none" stroke="#3a3a3a" stroke-width="2"/><polyline points="1666.6,497.1 1675,497.1 1732.2,429 1741.9,429" fill="none" stroke="#3a3a3a" stroke-width="2"/><polyline points="1654.5,580.1 1666.2,580.1 1747.5,488.1 1757.2,488.1" fill="none" stroke="#3a3a3a" stroke-width="2"/><polyline points="1665.6,638.3 1677.8,638.3 1719.7,554.5" fill="none" stroke="#3a3a3a" stroke-width="2"/><polyline points="1695.3,688.5 1705,688.5 1757.2,595.7 1767.6,595.7" fill="none" stroke="#3a3a3a" stroke-width="2"/><polyline points="1705,688.5 1757.2,645.4 1767.6,645.4" fill="none" stroke="#3a3a3a" stroke-width="2"/><polyline points="1691.1,719.8 1705,718 1769,701" fill="none" stroke="#3a3a3a" stroke-width="2"/><polyline points="1671,754.7 1724.5,760.1" fill="none" stroke="#3a3a3a" stroke-width="2"/><polyline points="1692,801.8 1705,803 1761.9,818" fill="none" stroke="#3a3a3a" stroke-width="2"/><polyline points="1692,810 1701.9,811.3 1762,862 1768.4,868.4" fill="none" stroke="#3a3a3a" stroke-width="2"/><polyline points="1701.9,811.3 1753.8,925.2 1761.9,925.2" fill="none" stroke="#3a3a3a" stroke-width="2"/><polyline points="1685.6,829.4 1695.3,829.4 1753.8,999.9 1761.9,999.9" fill="none" stroke="#3a3a3a" stroke-width="2"/><polyline points="1679,857 1688.8,857 1745.6,1064.9 1755.4,1064.9" fill="none" stroke="#3a3a3a" stroke-width="2"/><polyline points="1688.8,857 1739.1,1131.4 1747.3,1131.4" fill="none" stroke="#3a3a3a" stroke-width="2"/><polyline points="1654.7,925.2 1666.1,925.2 1721.3,1196.4 1731,1196.4" fill="none" stroke="#3a3a3a" stroke-width="2"/><polyline points="1654.7,954.4 1666.1,954.4 1711.5,1263 1721.3,1263" fill="none" stroke="#3a3a3a" stroke-width="2"/><polyline points="1645,998.3 1656.3,998.3 1692,1336 1703.4,1336" fill="none" stroke="#3a3a3a" stroke-width="2"/><g id="mol"><polyline points="268.8,1604.4 278.6,1641.9" fill="none" stroke="#111111" stroke-width="15.6" stroke-linecap="round" stroke-linejoin="round"/><polyline points="267.6,1602.8 277.4,1640.3" fill="none" stroke="#3c3c3c" stroke-width="4.4" stroke-linecap="round" stroke-linejoin="round" opacity="0.8"/><polyline points="278.6,1648.4 229.8,1680.9" fill="none" stroke="#8a898d" stroke-width="14.399999999999999" stroke-linecap="round" stroke-linejoin="round"/><polyline points="277.4,1646.8 228.6,1679.3" fill="none" stroke="#c8c7cb" stroke-width="4.0" stroke-linecap="round" stroke-linejoin="round" opacity="0.8"/><polyline points="278.6,1648.4 327.4,1679.3 376.3,1658.1" fill="none" stroke="#5d5c60" stroke-width="14.399999999999999" stroke-linecap="round" stroke-linejoin="round"/><polyline points="277.4,1646.8 326.2,1677.7 375.1,1656.5" fill="none" stroke="#9d9ca0" stroke-width="4.0" stroke-linecap="round" stroke-linejoin="round" opacity="0.8"/><polyline points="377.9,1640.2 376.3,1658.1" fill="none" stroke="#3a393d" stroke-width="14.399999999999999" stroke-linecap="round" stroke-linejoin="round"/><polyline points="376.7,1638.6 375.1,1656.5" fill="none" stroke="#6c6b6f" stroke-width="4.0" stroke-linecap="round" stroke-linejoin="round" opacity="0.8"/><polyline points="376.3,1658.1 389.3,1677.7 410.5,1697.2 392.6,1736.3" fill="none" stroke="#5d5c60" stroke-width="14.399999999999999" stroke-linecap="round" stroke-linejoin="round"/><polyline points="375.1,1656.5 388.1,1676.1 409.3,1695.6 391.4,1734.7" fill="none" stroke="#9d9ca0" stroke-width="4.0" stroke-linecap="round" stroke-linejoin="round" opacity="0.8"/><polyline points="229.8,1684.0 223.3,1715.1" fill="none" stroke="#111111" stroke-width="16.8" stroke-linecap="round" stroke-linejoin="round"/><polyline points="228.6,1682.4 222.1,1713.5" fill="none" stroke="#3c3c3c" stroke-width="4.7" stroke-linecap="round" stroke-linejoin="round" opacity="0.8"/><polyline points="223.3,1718.4 177.7,1724.9" fill="none" stroke="#5d5c60" stroke-width="14.399999999999999" stroke-linecap="round" stroke-linejoin="round"/><polyline points="222.1,1716.8 176.5,1723.3" fill="none" stroke="#9d9ca0" stroke-width="4.0" stroke-linecap="round" stroke-linejoin="round" opacity="0.8"/><polyline points="223.3,1718.4 241.2,1770.5" fill="none" stroke="#5d5c60" stroke-width="14.399999999999999" stroke-linecap="round" stroke-linejoin="round"/><polyline points="222.1,1716.8 240.0,1768.9" fill="none" stroke="#9d9ca0" stroke-width="4.0" stroke-linecap="round" stroke-linejoin="round" opacity="0.8"/><polyline points="241.2,1770.5 212.1,1809.5" fill="none" stroke="#3a393d" stroke-width="14.399999999999999" stroke-linecap="round" stroke-linejoin="round"/><polyline points="240.0,1768.9 210.9,1807.9" fill="none" stroke="#6c6b6f" stroke-width="4.0" stroke-linecap="round" stroke-linejoin="round" opacity="0.8"/><polyline points="212.1,1809.5 180.5,1785.3" fill="none" stroke="#3a393d" stroke-width="14.399999999999999" stroke-linecap="round" stroke-linejoin="round"/><polyline points="210.9,1807.9 179.3,1783.7" fill="none" stroke="#6c6b6f" stroke-width="4.0" stroke-linecap="round" stroke-linejoin="round" opacity="0.8"/><polyline points="212.1,1809.5 193.5,1848.6 152.6,1846.7" fill="none" stroke="#5d5c60" stroke-width="14.399999999999999" stroke-linecap="round" stroke-linejoin="round"/><polyline points="210.9,1807.9 192.3,1847.0 151.4,1845.1" fill="none" stroke="#9d9ca0" stroke-width="4.0" stroke-linecap="round" stroke-linejoin="round" opacity="0.8"/><polyline points="122.8,1802.1 152.6,1843.0" fill="none" stroke="#5d5c60" stroke-width="14.399999999999999" stroke-linecap="round" stroke-linejoin="round"/><polyline points="121.6,1800.5 151.4,1841.4" fill="none" stroke="#9d9ca0" stroke-width="4.0" stroke-linecap="round" stroke-linejoin="round" opacity="0.8"/><polyline points="128.4,1820.7 122.8,1872.8" fill="none" stroke="#5d5c60" stroke-width="14.399999999999999" stroke-linecap="round" stroke-linejoin="round"/><polyline points="127.2,1819.1 121.6,1871.2" fill="none" stroke="#9d9ca0" stroke-width="4.0" stroke-linecap="round" stroke-linejoin="round" opacity="0.8"/><polyline points="87.4,1871.0 122.8,1872.8" fill="none" stroke="#3a393d" stroke-width="14.399999999999999" stroke-linecap="round" stroke-linejoin="round"/><polyline points="86.2,1869.4 121.6,1871.2" fill="none" stroke="#6c6b6f" stroke-width="4.0" stroke-linecap="round" stroke-linejoin="round" opacity="0.8"/><polyline points="122.8,1872.8 100.5,1913.7 104.2,1969.5 87.4,1993.7" fill="none" stroke="#5d5c60" stroke-width="14.399999999999999" stroke-linecap="round" stroke-linejoin="round"/><polyline points="121.6,1871.2 99.3,1912.1 103.0,1967.9 86.2,1992.1" fill="none" stroke="#9d9ca0" stroke-width="4.0" stroke-linecap="round" stroke-linejoin="round" opacity="0.8"/><polyline points="152.6,1846.7 130.2,1897.0" fill="none" stroke="#8a898d" stroke-width="14.399999999999999" stroke-linecap="round" stroke-linejoin="round"/><polyline points="151.4,1845.1 129.0,1895.4" fill="none" stroke="#c8c7cb" stroke-width="4.0" stroke-linecap="round" stroke-linejoin="round" opacity="0.8"/><polyline points="193.5,1852.0 217.7,1904.4" fill="none" stroke="#8a898d" stroke-width="14.399999999999999" stroke-linecap="round" stroke-linejoin="round"/><polyline points="192.3,1850.4 216.5,1902.8" fill="none" stroke="#c8c7cb" stroke-width="4.0" stroke-linecap="round" stroke-linejoin="round" opacity="0.8"/><polyline points="193.5,1884.0 171.2,1893.3" fill="none" stroke="#5d5c60" stroke-width="14.399999999999999" stroke-linecap="round" stroke-linejoin="round"/><polyline points="192.3,1882.4 170.0,1891.7" fill="none" stroke="#9d9ca0" stroke-width="4.0" stroke-linecap="round" stroke-linejoin="round" opacity="0.8"/><polyline points="197.2,1876.5 282.8,1861.6" fill="none" stroke="#5d5c60" stroke-width="14.399999999999999" stroke-linecap="round" stroke-linejoin="round"/><polyline points="196.0,1874.9 281.6,1860.0" fill="none" stroke="#9d9ca0" stroke-width="4.0" stroke-linecap="round" stroke-linejoin="round" opacity="0.8"/><polyline points="282.8,1861.6 316.3,1891.4" fill="none" stroke="#111111" stroke-width="15.6" stroke-linecap="round" stroke-linejoin="round"/><polyline points="281.6,1860.0 315.1,1889.8" fill="none" stroke="#3c3c3c" stroke-width="4.4" stroke-linecap="round" stroke-linejoin="round" opacity="0.8"/><polyline points="241.2,1770.5 295.8,1772.3 299.5,1848.6" fill="none" stroke="#4a8ed6" stroke-width="14.399999999999999" stroke-linecap="round" stroke-linejoin="round"/><polyline points="240.0,1768.9 294.6,1770.7 298.3,1847.0" fill="none" stroke="#9cc8f0" stroke-width="4.0" stroke-linecap="round" stroke-linejoin="round" opacity="0.8"/><polyline points="249.3,1790.9 243.7,1861.6" fill="none" stroke="#2e64ad" stroke-width="14.399999999999999" stroke-linecap="round" stroke-linejoin="round"/><polyline points="248.1,1789.3 242.5,1860.0" fill="none" stroke="#6fa3df" stroke-width="4.0" stroke-linecap="round" stroke-linejoin="round" opacity="0.8"/><polyline points="223.3,1815.1 320.0,1817.0" fill="none" stroke="#1d4388" stroke-width="14.399999999999999" stroke-linecap="round" stroke-linejoin="round"/><polyline points="222.1,1813.5 318.8,1815.4" fill="none" stroke="#4f7fc4" stroke-width="4.0" stroke-linecap="round" stroke-linejoin="round" opacity="0.8"/><polyline points="320.0,1812.0 400.0,1812.0 470.0,1822.0 552.0,1828.0" fill="none" stroke="#1d4388" stroke-width="16.8" stroke-linecap="round" stroke-linejoin="round"/><polyline points="318.8,1810.4 398.8,1810.4 468.8,1820.4 550.8,1826.4" fill="none" stroke="#4f7fc4" stroke-width="4.7" stroke-linecap="round" stroke-linejoin="round" opacity="0.8"/><polyline points="380.0,1826.0 470.0,1838.0" fill="none" stroke="#1d4388" stroke-width="13.2" stroke-linecap="round" stroke-linejoin="round"/><polyline points="378.8,1824.4 468.8,1836.4" fill="none" stroke="#4f7fc4" stroke-width="3.7" stroke-linecap="round" stroke-linejoin="round" opacity="0.8"/><polyline points="519.0,1812.0 519.0,1828.0" fill="none" stroke="#1d4388" stroke-width="13.2" stroke-linecap="round" stroke-linejoin="round"/><polyline points="517.8,1810.4 517.8,1826.4" fill="none" stroke="#4f7fc4" stroke-width="3.7" stroke-linecap="round" stroke-linejoin="round" opacity="0.8"/><polyline points="180.0,1893.3 202.7,1877.6 284.7,1854.9" fill="none" stroke="#5d5c60" stroke-width="14.399999999999999" stroke-linecap="round" stroke-linejoin="round"/><polyline points="178.8,1891.7 201.5,1876.0 283.5,1853.3" fill="none" stroke="#9d9ca0" stroke-width="4.0" stroke-linecap="round" stroke-linejoin="round" opacity="0.8"/><polyline points="202.7,1886.3 220.1,1907.2" fill="none" stroke="#8a898d" stroke-width="14.399999999999999" stroke-linecap="round" stroke-linejoin="round"/><polyline points="201.5,1884.7 218.9,1905.6" fill="none" stroke="#c8c7cb" stroke-width="4.0" stroke-linecap="round" stroke-linejoin="round" opacity="0.8"/><polyline points="242.8,1872.3 246.3,1903.7" fill="none" stroke="#5d5c60" stroke-width="14.399999999999999" stroke-linecap="round" stroke-linejoin="round"/><polyline points="241.6,1870.7 245.1,1902.1" fill="none" stroke="#9d9ca0" stroke-width="4.0" stroke-linecap="round" stroke-linejoin="round" opacity="0.8"/><polyline points="256.7,1881.0 262.0,1893.3" fill="none" stroke="#8a898d" stroke-width="14.399999999999999" stroke-linecap="round" stroke-linejoin="round"/><polyline points="255.5,1879.4 260.8,1891.7" fill="none" stroke="#c8c7cb" stroke-width="4.0" stroke-linecap="round" stroke-linejoin="round" opacity="0.8"/><polyline points="282.9,1856.6 319.5,1893.3 337.0,1875.8" fill="none" stroke="#111111" stroke-width="15.6" stroke-linecap="round" stroke-linejoin="round"/><polyline points="281.7,1855.0 318.3,1891.7 335.8,1874.2" fill="none" stroke="#3c3c3c" stroke-width="4.4" stroke-linecap="round" stroke-linejoin="round" opacity="0.8"/><polyline points="319.5,1893.3 290.0,1935.0" fill="none" stroke="#111111" stroke-width="15.6" stroke-linecap="round" stroke-linejoin="round"/><polyline points="318.3,1891.7 288.8,1933.4" fill="none" stroke="#3c3c3c" stroke-width="4.4" stroke-linecap="round" stroke-linejoin="round" opacity="0.8"/><polyline points="228.8,1931.6 282.9,1952.6 345.7,1968.3 389.3,1957.8 427.7,1933.4 410.0,1911.0 354.4,1914.2 302.0,1922.9 228.8,1931.6" fill="none" stroke="#111111" stroke-width="15.6" stroke-linecap="round" stroke-linejoin="round"/><polyline points="227.6,1930.0 281.7,1951.0 344.5,1966.7 388.1,1956.2 426.5,1931.8 408.8,1909.4 353.2,1912.6 300.8,1921.3 227.6,1930.0" fill="none" stroke="#3c3c3c" stroke-width="4.4" stroke-linecap="round" stroke-linejoin="round" opacity="0.8"/><polyline points="302.0,1922.9 345.7,1940.0 389.3,1957.8" fill="none" stroke="#111111" stroke-width="13.2" stroke-linecap="round" stroke-linejoin="round"/><polyline points="300.8,1921.3 344.5,1938.4 388.1,1956.2" fill="none" stroke="#3c3c3c" stroke-width="3.7" stroke-linecap="round" stroke-linejoin="round" opacity="0.8"/><polyline points="345.7,1940.0 354.4,1914.2" fill="none" stroke="#111111" stroke-width="13.2" stroke-linecap="round" stroke-linejoin="round"/><polyline points="344.5,1938.4 353.2,1912.6" fill="none" stroke="#3c3c3c" stroke-width="3.7" stroke-linecap="round" stroke-linejoin="round" opacity="0.8"/><polyline points="389.3,1957.8 428.0,1976.0" fill="none" stroke="#111111" stroke-width="15.6" stroke-linecap="round" stroke-linejoin="round"/><polyline points="388.1,1956.2 426.8,1974.4" fill="none" stroke="#3c3c3c" stroke-width="4.4" stroke-linecap="round" stroke-linejoin="round" opacity="0.8"/><polyline points="345.7,1968.3 342.2,1982.0" fill="none" stroke="#111111" stroke-width="15.6" stroke-linecap="round" stroke-linejoin="round"/><polyline points="344.5,1966.7 341.0,1980.4" fill="none" stroke="#3c3c3c" stroke-width="4.4" stroke-linecap="round" stroke-linejoin="round" opacity="0.8"/><polyline points="262.0,1944.0 258.5,1962.0" fill="none" stroke="#111111" stroke-width="15.6" stroke-linecap="round" stroke-linejoin="round"/><polyline points="260.8,1942.4 257.3,1960.4" fill="none" stroke="#3c3c3c" stroke-width="4.4" stroke-linecap="round" stroke-linejoin="round" opacity="0.8"/><polyline points="410.0,1911.0 418.0,1906.0" fill="none" stroke="#111111" stroke-width="15.6" stroke-linecap="round" stroke-linejoin="round"/><polyline points="408.8,1909.4 416.8,1904.4" fill="none" stroke="#3c3c3c" stroke-width="4.4" stroke-linecap="round" stroke-linejoin="round" opacity="0.8"/><polyline points="241.9,1872.8 245.6,1908.1" fill="none" stroke="#5d5c60" stroke-width="14.399999999999999" stroke-linecap="round" stroke-linejoin="round"/><polyline points="240.7,1871.2 244.4,1906.5" fill="none" stroke="#9d9ca0" stroke-width="4.0" stroke-linecap="round" stroke-linejoin="round" opacity="0.8"/><polyline points="212.1,1924.9 245.6,1908.1 279.1,1928.6" fill="none" stroke="#8a898d" stroke-width="14.399999999999999" stroke-linecap="round" stroke-linejoin="round"/><polyline points="210.9,1923.3 244.4,1906.5 277.9,1927.0" fill="none" stroke="#c8c7cb" stroke-width="4.0" stroke-linecap="round" stroke-linejoin="round" opacity="0.8"/><polyline points="340.0,1670.8 378.4,1655.1" fill="none" stroke="#3a393d" stroke-width="14.399999999999999" stroke-linecap="round" stroke-linejoin="round"/><polyline points="338.8,1669.2 377.2,1653.5" fill="none" stroke="#6c6b6f" stroke-width="4.0" stroke-linecap="round" stroke-linejoin="round" opacity="0.8"/><polyline points="451.6,1693.5 472.6,1662.1" fill="none" stroke="#8a898d" stroke-width="14.399999999999999" stroke-linecap="round" stroke-linejoin="round"/><polyline points="450.4,1691.9 471.4,1660.5" fill="none" stroke="#c8c7cb" stroke-width="4.0" stroke-linecap="round" stroke-linejoin="round" opacity="0.8"/><polyline points="472.6,1662.1 497.0,1662.1 519.7,1653.4" fill="none" stroke="#3a393d" stroke-width="14.399999999999999" stroke-linecap="round" stroke-linejoin="round"/><polyline points="471.4,1660.5 495.8,1660.5 518.5,1651.8" fill="none" stroke="#6c6b6f" stroke-width="4.0" stroke-linecap="round" stroke-linejoin="round" opacity="0.8"/><polyline points="519.7,1653.4 542.3,1627.2" fill="none" stroke="#5d5c60" stroke-width="14.399999999999999" stroke-linecap="round" stroke-linejoin="round"/><polyline points="518.5,1651.8 541.1,1625.6" fill="none" stroke="#9d9ca0" stroke-width="4.0" stroke-linecap="round" stroke-linejoin="round" opacity="0.8"/><polyline points="519.7,1653.4 549.3,1697.0 587.7,1698.7" fill="none" stroke="#5d5c60" stroke-width="14.399999999999999" stroke-linecap="round" stroke-linejoin="round"/><polyline points="518.5,1651.8 548.1,1695.4 586.5,1697.1" fill="none" stroke="#9d9ca0" stroke-width="4.0" stroke-linecap="round" stroke-linejoin="round" opacity="0.8"/><polyline points="451.6,1697.0 470.1,1730.7" fill="none" stroke="#5d5c60" stroke-width="14.399999999999999" stroke-linecap="round" stroke-linejoin="round"/><polyline points="450.4,1695.4 468.9,1729.1" fill="none" stroke="#9d9ca0" stroke-width="4.0" stroke-linecap="round" stroke-linejoin="round" opacity="0.8"/><polyline points="451.6,1697.0 416.3,1703.3 392.6,1736.3" fill="none" stroke="#5d5c60" stroke-width="14.399999999999999" stroke-linecap="round" stroke-linejoin="round"/><polyline points="450.4,1695.4 415.1,1701.7 391.4,1734.7" fill="none" stroke="#9d9ca0" stroke-width="4.0" stroke-linecap="round" stroke-linejoin="round" opacity="0.8"/><polyline points="604.4,1692.3 627.1,1674.9" fill="none" stroke="#3a393d" stroke-width="14.399999999999999" stroke-linecap="round" stroke-linejoin="round"/><polyline points="603.2,1690.7 625.9,1673.3" fill="none" stroke="#6c6b6f" stroke-width="4.0" stroke-linecap="round" stroke-linejoin="round" opacity="0.8"/><polyline points="395.8,1670.8 480.0,1640.0 558.0,1609.8 584.2,1590.6" fill="none" stroke="#d8441a" stroke-width="19.2" stroke-linecap="round" stroke-linejoin="round"/><polyline points="394.6,1669.2 478.8,1638.4 556.8,1608.2 583.0,1589.0" fill="none" stroke="#f58a4e" stroke-width="5.4" stroke-linecap="round" stroke-linejoin="round" opacity="0.8"/><polyline points="381.9,1691.8 462.1,1662.1" fill="none" stroke="#d8441a" stroke-width="14.399999999999999" stroke-linecap="round" stroke-linejoin="round"/><polyline points="380.7,1690.2 460.9,1660.5" fill="none" stroke="#f58a4e" stroke-width="4.0" stroke-linecap="round" stroke-linejoin="round" opacity="0.8"/><polyline points="584.2,1590.6 591.2,1550.5" fill="none" stroke="#d8441a" stroke-width="14.399999999999999" stroke-linecap="round" stroke-linejoin="round"/><polyline points="583.0,1589.0 590.0,1548.9" fill="none" stroke="#f58a4e" stroke-width="4.0" stroke-linecap="round" stroke-linejoin="round" opacity="0.8"/><polyline points="584.2,1590.6 619.1,1618.5" fill="none" stroke="#d8441a" stroke-width="14.399999999999999" stroke-linecap="round" stroke-linejoin="round"/><polyline points="583.0,1589.0 617.9,1616.9" fill="none" stroke="#f58a4e" stroke-width="4.0" stroke-linecap="round" stroke-linejoin="round" opacity="0.8"/><polyline points="362.7,1608.0 395.8,1625.5 423.7,1599.3" fill="none" stroke="#d8441a" stroke-width="14.399999999999999" stroke-linecap="round" stroke-linejoin="round"/><polyline points="361.5,1606.4 394.6,1623.9 422.5,1597.7" fill="none" stroke="#f58a4e" stroke-width="4.0" stroke-linecap="round" stroke-linejoin="round" opacity="0.8"/><polyline points="395.8,1625.5 413.3,1658.6" fill="none" stroke="#d8441a" stroke-width="14.399999999999999" stroke-linecap="round" stroke-linejoin="round"/><polyline points="394.6,1623.9 412.1,1657.0" fill="none" stroke="#f58a4e" stroke-width="4.0" stroke-linecap="round" stroke-linejoin="round" opacity="0.8"/><polyline points="449.2,1784.8 540.0,1760.0 632.3,1737.7" fill="none" stroke="#7eab28" stroke-width="15.6" stroke-linecap="round" stroke-linejoin="round"/><polyline points="448.0,1783.2 538.8,1758.4 631.1,1736.1" fill="none" stroke="#b8dc60" stroke-width="4.4" stroke-linecap="round" stroke-linejoin="round" opacity="0.8"/><polyline points="541.6,1741.2 620.0,1727.0 691.6,1713.3" fill="none" stroke="#7eab28" stroke-width="14.399999999999999" stroke-linecap="round" stroke-linejoin="round"/><polyline points="540.4,1739.6 618.8,1725.4 690.4,1711.7" fill="none" stroke="#b8dc60" stroke-width="4.0" stroke-linecap="round" stroke-linejoin="round" opacity="0.8"/><polyline points="541.6,1762.1 604.4,1744.7" fill="none" stroke="#7eab28" stroke-width="13.2" stroke-linecap="round" stroke-linejoin="round"/><polyline points="540.4,1760.5 603.2,1743.1" fill="none" stroke="#b8dc60" stroke-width="3.7" stroke-linecap="round" stroke-linejoin="round" opacity="0.8"/><polyline points="541.6,1741.2 541.6,1762.1" fill="none" stroke="#7eab28" stroke-width="12.0" stroke-linecap="round" stroke-linejoin="round"/><polyline points="540.4,1739.6 540.4,1760.5" fill="none" stroke="#b8dc60" stroke-width="3.4" stroke-linecap="round" stroke-linejoin="round" opacity="0.8"/><polyline points="566.0,1659.2 597.5,1681.9 634.1,1667.9" fill="none" stroke="#7eab28" stroke-width="14.399999999999999" stroke-linecap="round" stroke-linejoin="round"/><polyline points="564.8,1657.6 596.3,1680.3 632.9,1666.3" fill="none" stroke="#b8dc60" stroke-width="4.0" stroke-linecap="round" stroke-linejoin="round" opacity="0.8"/><polyline points="597.5,1681.9 592.2,1727.2" fill="none" stroke="#7eab28" stroke-width="14.399999999999999" stroke-linecap="round" stroke-linejoin="round"/><polyline points="596.3,1680.3 591.0,1725.6" fill="none" stroke="#b8dc60" stroke-width="4.0" stroke-linecap="round" stroke-linejoin="round" opacity="0.8"/><polyline points="592.2,1727.2 604.4,1767.3" fill="none" stroke="#6f9a22" stroke-width="15.6" stroke-linecap="round" stroke-linejoin="round"/><polyline points="591.0,1725.6 603.2,1765.7" fill="none" stroke="#a6cf56" stroke-width="4.4" stroke-linecap="round" stroke-linejoin="round" opacity="0.8"/><polyline points="592.2,1774.3 603.0,1768.0" fill="none" stroke="#3a393d" stroke-width="14.399999999999999" stroke-linecap="round" stroke-linejoin="round"/><polyline points="591.0,1772.7 601.8,1766.4" fill="none" stroke="#6c6b6f" stroke-width="4.0" stroke-linecap="round" stroke-linejoin="round" opacity="0.8"/><polyline points="621.9,1753.4 670.7,1758.6 677.7,1797.0" fill="none" stroke="#5d5c60" stroke-width="14.399999999999999" stroke-linecap="round" stroke-linejoin="round"/><polyline points="620.7,1751.8 669.5,1757.0 676.5,1795.4" fill="none" stroke="#9d9ca0" stroke-width="4.0" stroke-linecap="round" stroke-linejoin="round" opacity="0.8"/><polyline points="670.7,1758.6 702.1,1730.7 760.9,1739.5 788.1,1715.3" fill="none" stroke="#5d5c60" stroke-width="14.399999999999999" stroke-linecap="round" stroke-linejoin="round"/><polyline points="669.5,1757.0 700.9,1729.1 759.7,1737.9 786.9,1713.7" fill="none" stroke="#9d9ca0" stroke-width="4.0" stroke-linecap="round" stroke-linejoin="round" opacity="0.8"/><polyline points="760.9,1739.5 770.0,1824.2 800.2,1809.1" fill="none" stroke="#5d5c60" stroke-width="14.399999999999999" stroke-linecap="round" stroke-linejoin="round"/><polyline points="759.7,1737.9 768.8,1822.6 799.0,1807.5" fill="none" stroke="#9d9ca0" stroke-width="4.0" stroke-linecap="round" stroke-linejoin="round" opacity="0.8"/><polyline points="770.0,1824.2 776.0,1881.6 812.3,1927.0" fill="none" stroke="#5d5c60" stroke-width="14.399999999999999" stroke-linecap="round" stroke-linejoin="round"/><polyline points="768.8,1822.6 774.8,1880.0 811.1,1925.4" fill="none" stroke="#9d9ca0" stroke-width="4.0" stroke-linecap="round" stroke-linejoin="round" opacity="0.8"/><polyline points="776.0,1881.6 845.6,1887.7" fill="none" stroke="#8a898d" stroke-width="14.399999999999999" stroke-linecap="round" stroke-linejoin="round"/><polyline points="774.8,1880.0 844.4,1886.1" fill="none" stroke="#c8c7cb" stroke-width="4.0" stroke-linecap="round" stroke-linejoin="round" opacity="0.8"/><polyline points="696.8,1795.7 722.9,1835.8 752.6,1827.1" fill="none" stroke="#7eab28" stroke-width="14.399999999999999" stroke-linecap="round" stroke-linejoin="round"/><polyline points="695.6,1794.1 721.7,1834.2 751.4,1825.5" fill="none" stroke="#b8dc60" stroke-width="4.0" stroke-linecap="round" stroke-linejoin="round" opacity="0.8"/><polyline points="752.6,1827.1 770.0,1824.2" fill="none" stroke="#5d5c60" stroke-width="14.399999999999999" stroke-linecap="round" stroke-linejoin="round"/><polyline points="751.4,1825.5 768.8,1822.6" fill="none" stroke="#9d9ca0" stroke-width="4.0" stroke-linecap="round" stroke-linejoin="round" opacity="0.8"/><polyline points="722.9,1835.8 691.5,1875.9" fill="none" stroke="#7eab28" stroke-width="14.399999999999999" stroke-linecap="round" stroke-linejoin="round"/><polyline points="721.7,1834.2 690.3,1874.3" fill="none" stroke="#b8dc60" stroke-width="4.0" stroke-linecap="round" stroke-linejoin="round" opacity="0.8"/><polyline points="675.8,1858.5 691.5,1875.9" fill="none" stroke="#7eab28" stroke-width="14.399999999999999" stroke-linecap="round" stroke-linejoin="round"/><polyline points="674.6,1856.9 690.3,1874.3" fill="none" stroke="#b8dc60" stroke-width="4.0" stroke-linecap="round" stroke-linejoin="round" opacity="0.8"/><polyline points="691.5,1875.9 731.6,1907.3 752.6,1895.1" fill="none" stroke="#7eab28" stroke-width="14.399999999999999" stroke-linecap="round" stroke-linejoin="round"/><polyline points="690.3,1874.3 730.4,1905.7 751.4,1893.5" fill="none" stroke="#b8dc60" stroke-width="4.0" stroke-linecap="round" stroke-linejoin="round" opacity="0.8"/><polyline points="752.6,1895.1 773.0,1884.7" fill="none" stroke="#5d5c60" stroke-width="14.399999999999999" stroke-linecap="round" stroke-linejoin="round"/><polyline points="751.4,1893.5 771.8,1883.1" fill="none" stroke="#9d9ca0" stroke-width="4.0" stroke-linecap="round" stroke-linejoin="round" opacity="0.8"/><polyline points="592.1,1909.1 527.6,1926.5 527.6,1956.2 539.8,1963.2 588.6,1944.0 592.1,1909.1" fill="none" stroke="#7eab28" stroke-width="14.399999999999999" stroke-linecap="round" stroke-linejoin="round"/><polyline points="590.9,1907.5 526.4,1924.9 526.4,1954.6 538.6,1961.6 587.4,1942.4 590.9,1907.5" fill="none" stroke="#b8dc60" stroke-width="4.0" stroke-linecap="round" stroke-linejoin="round" opacity="0.8"/><polyline points="527.6,1926.5 545.0,1902.1" fill="none" stroke="#7eab28" stroke-width="14.399999999999999" stroke-linecap="round" stroke-linejoin="round"/><polyline points="526.4,1924.9 543.8,1900.5" fill="none" stroke="#b8dc60" stroke-width="4.0" stroke-linecap="round" stroke-linejoin="round" opacity="0.8"/><polyline points="527.6,1926.5 490.9,1937.0" fill="none" stroke="#7eab28" stroke-width="14.399999999999999" stroke-linecap="round" stroke-linejoin="round"/><polyline points="526.4,1924.9 489.7,1935.4" fill="none" stroke="#b8dc60" stroke-width="4.0" stroke-linecap="round" stroke-linejoin="round" opacity="0.8"/><polyline points="527.6,1956.2 487.4,1968.4" fill="none" stroke="#7eab28" stroke-width="14.399999999999999" stroke-linecap="round" stroke-linejoin="round"/><polyline points="526.4,1954.6 486.2,1966.8" fill="none" stroke="#b8dc60" stroke-width="4.0" stroke-linecap="round" stroke-linejoin="round" opacity="0.8"/><polyline points="539.8,1963.2 515.4,1992.8" fill="none" stroke="#7eab28" stroke-width="14.399999999999999" stroke-linecap="round" stroke-linejoin="round"/><polyline points="538.6,1961.6 514.2,1991.2" fill="none" stroke="#b8dc60" stroke-width="4.0" stroke-linecap="round" stroke-linejoin="round" opacity="0.8"/><polyline points="592.1,1909.1 653.1,1898.6 658.4,1912.6 618.3,1944.0 588.6,1944.0" fill="none" stroke="#7eab28" stroke-width="14.399999999999999" stroke-linecap="round" stroke-linejoin="round"/><polyline points="590.9,1907.5 651.9,1897.0 657.2,1911.0 617.1,1942.4 587.4,1942.4" fill="none" stroke="#b8dc60" stroke-width="4.0" stroke-linecap="round" stroke-linejoin="round" opacity="0.8"/><polyline points="658.4,1912.6 695.0,1909.0" fill="none" stroke="#7eab28" stroke-width="14.399999999999999" stroke-linecap="round" stroke-linejoin="round"/><polyline points="657.2,1911.0 693.8,1907.4" fill="none" stroke="#b8dc60" stroke-width="4.0" stroke-linecap="round" stroke-linejoin="round" opacity="0.8"/><polyline points="653.1,1898.6 691.5,1875.9" fill="none" stroke="#7eab28" stroke-width="14.399999999999999" stroke-linecap="round" stroke-linejoin="round"/><polyline points="651.9,1897.0 690.3,1874.3" fill="none" stroke="#b8dc60" stroke-width="4.0" stroke-linecap="round" stroke-linejoin="round" opacity="0.8"/><polyline points="773.0,1886.0 803.3,1946.5" fill="none" stroke="#5d5c60" stroke-width="14.399999999999999" stroke-linecap="round" stroke-linejoin="round"/><polyline points="771.8,1884.4 802.1,1944.9" fill="none" stroke="#9d9ca0" stroke-width="4.0" stroke-linecap="round" stroke-linejoin="round" opacity="0.8"/><polyline points="770.0,1934.4 863.7,1932.9" fill="none" stroke="#5d5c60" stroke-width="14.399999999999999" stroke-linecap="round" stroke-linejoin="round"/><polyline points="768.8,1932.8 862.5,1931.3" fill="none" stroke="#9d9ca0" stroke-width="4.0" stroke-linecap="round" stroke-linejoin="round" opacity="0.8"/><polyline points="809.3,1901.2 845.6,1889.0" fill="none" stroke="#8a898d" stroke-width="14.399999999999999" stroke-linecap="round" stroke-linejoin="round"/><polyline points="808.1,1899.6 844.4,1887.4" fill="none" stroke="#c8c7cb" stroke-width="4.0" stroke-linecap="round" stroke-linejoin="round" opacity="0.8"/><polyline points="525.1,2022.1 573.5,2028.1 579.5,2049.3 531.2,2073.5 482.8,2064.4 479.8,2043.3 525.1,2022.1" fill="none" stroke="#7eab28" stroke-width="14.399999999999999" stroke-linecap="round" stroke-linejoin="round"/><polyline points="523.9,2020.5 572.3,2026.5 578.3,2047.7 530.0,2071.9 481.6,2062.8 478.6,2041.7 523.9,2020.5" fill="none" stroke="#b8dc60" stroke-width="4.0" stroke-linecap="round" stroke-linejoin="round" opacity="0.8"/><polyline points="525.1,2004.0 525.1,2022.1" fill="none" stroke="#7eab28" stroke-width="14.399999999999999" stroke-linecap="round" stroke-linejoin="round"/><polyline points="523.9,2002.4 523.9,2020.5" fill="none" stroke="#b8dc60" stroke-width="4.0" stroke-linecap="round" stroke-linejoin="round" opacity="0.8"/><polyline points="573.5,2028.1 612.8,2010.0 649.1,2016.0" fill="none" stroke="#7eab28" stroke-width="14.399999999999999" stroke-linecap="round" stroke-linejoin="round"/><polyline points="572.3,2026.5 611.6,2008.4 647.9,2014.4" fill="none" stroke="#b8dc60" stroke-width="4.0" stroke-linecap="round" stroke-linejoin="round" opacity="0.8"/><polyline points="612.8,2010.0 609.8,1988.8" fill="none" stroke="#7eab28" stroke-width="14.399999999999999" stroke-linecap="round" stroke-linejoin="round"/><polyline points="611.6,2008.4 608.6,1987.2" fill="none" stroke="#b8dc60" stroke-width="4.0" stroke-linecap="round" stroke-linejoin="round" opacity="0.8"/><polyline points="437.4,2043.3 479.8,2043.3" fill="none" stroke="#7eab28" stroke-width="14.399999999999999" stroke-linecap="round" stroke-linejoin="round"/><polyline points="436.2,2041.7 478.6,2041.7" fill="none" stroke="#b8dc60" stroke-width="4.0" stroke-linecap="round" stroke-linejoin="round" opacity="0.8"/><polyline points="482.8,2064.4 443.5,2094.7 467.7,2109.8 510.0,2100.7 531.2,2073.5" fill="none" stroke="#7eab28" stroke-width="14.399999999999999" stroke-linecap="round" stroke-linejoin="round"/><polyline points="481.6,2062.8 442.3,2093.1 466.5,2108.2 508.8,2099.1 530.0,2071.9" fill="none" stroke="#b8dc60" stroke-width="4.0" stroke-linecap="round" stroke-linejoin="round" opacity="0.8"/><polyline points="467.7,2109.8 449.5,2130.9" fill="none" stroke="#7eab28" stroke-width="14.399999999999999" stroke-linecap="round" stroke-linejoin="round"/><polyline points="466.5,2108.2 448.3,2129.3" fill="none" stroke="#b8dc60" stroke-width="4.0" stroke-linecap="round" stroke-linejoin="round" opacity="0.8"/><polyline points="510.0,2100.7 561.4,2112.8 597.7,2073.5" fill="none" stroke="#7eab28" stroke-width="14.399999999999999" stroke-linecap="round" stroke-linejoin="round"/><polyline points="508.8,2099.1 560.2,2111.2 596.5,2071.9" fill="none" stroke="#b8dc60" stroke-width="4.0" stroke-linecap="round" stroke-linejoin="round" opacity="0.8"/><polyline points="561.4,2112.8 564.4,2160.0" fill="none" stroke="#7eab28" stroke-width="14.399999999999999" stroke-linecap="round" stroke-linejoin="round"/><polyline points="560.2,2111.2 563.2,2158.4" fill="none" stroke="#b8dc60" stroke-width="4.0" stroke-linecap="round" stroke-linejoin="round" opacity="0.8"/><polyline points="576.5,2115.8 603.7,2165.0" fill="none" stroke="#7eab28" stroke-width="14.399999999999999" stroke-linecap="round" stroke-linejoin="round"/><polyline points="575.3,2114.2 602.5,2163.4" fill="none" stroke="#b8dc60" stroke-width="4.0" stroke-linecap="round" stroke-linejoin="round" opacity="0.8"/><polyline points="525.1,2197.4 564.4,2176.3 579.5,2194.4" fill="none" stroke="#5d5c60" stroke-width="14.399999999999999" stroke-linecap="round" stroke-linejoin="round"/><polyline points="523.9,2195.8 563.2,2174.7 578.3,2192.8" fill="none" stroke="#9d9ca0" stroke-width="4.0" stroke-linecap="round" stroke-linejoin="round" opacity="0.8"/><polyline points="564.4,2160.0 564.4,2176.3" fill="none" stroke="#3a393d" stroke-width="14.399999999999999" stroke-linecap="round" stroke-linejoin="round"/><polyline points="563.2,2158.4 563.2,2174.7" fill="none" stroke="#6c6b6f" stroke-width="4.0" stroke-linecap="round" stroke-linejoin="round" opacity="0.8"/><polyline points="564.4,2176.3 609.8,2182.3 649.1,2173.3" fill="none" stroke="#5d5c60" stroke-width="14.399999999999999" stroke-linecap="round" stroke-linejoin="round"/><polyline points="563.2,2174.7 608.6,2180.7 647.9,2171.7" fill="none" stroke="#9d9ca0" stroke-width="4.0" stroke-linecap="round" stroke-linejoin="round" opacity="0.8"/><polyline points="603.7,2165.0 609.8,2182.3" fill="none" stroke="#3a393d" stroke-width="14.399999999999999" stroke-linecap="round" stroke-linejoin="round"/><polyline points="602.5,2163.4 608.6,2180.7" fill="none" stroke="#6c6b6f" stroke-width="4.0" stroke-linecap="round" stroke-linejoin="round" opacity="0.8"/><polyline points="609.8,2182.3 615.8,2242.8 573.5,2264.0" fill="none" stroke="#5d5c60" stroke-width="14.399999999999999" stroke-linecap="round" stroke-linejoin="round"/><polyline points="608.6,2180.7 614.6,2241.2 572.3,2262.4" fill="none" stroke="#9d9ca0" stroke-width="4.0" stroke-linecap="round" stroke-linejoin="round" opacity="0.8"/><polyline points="615.8,2242.8 646.0,2260.9 652.1,2315.4 600.7,2342.6" fill="none" stroke="#5d5c60" stroke-width="14.399999999999999" stroke-linecap="round" stroke-linejoin="round"/><polyline points="614.6,2241.2 644.8,2259.3 650.9,2313.8 599.5,2341.0" fill="none" stroke="#9d9ca0" stroke-width="4.0" stroke-linecap="round" stroke-linejoin="round" opacity="0.8"/><polyline points="652.1,2315.4 694.4,2345.6" fill="none" stroke="#5d5c60" stroke-width="14.399999999999999" stroke-linecap="round" stroke-linejoin="round"/><polyline points="650.9,2313.8 693.2,2344.0" fill="none" stroke="#9d9ca0" stroke-width="4.0" stroke-linecap="round" stroke-linejoin="round" opacity="0.8"/><polyline points="48.4,1975.1 87.4,1993.7" fill="none" stroke="#8a898d" stroke-width="14.399999999999999" stroke-linecap="round" stroke-linejoin="round"/><polyline points="47.2,1973.5 86.2,1992.1" fill="none" stroke="#c8c7cb" stroke-width="4.0" stroke-linecap="round" stroke-linejoin="round" opacity="0.8"/><polyline points="87.4,1993.7 107.9,1973.3 154.4,1982.6" fill="none" stroke="#8a898d" stroke-width="14.399999999999999" stroke-linecap="round" stroke-linejoin="round"/><polyline points="86.2,1992.1 106.7,1971.7 153.2,1981.0" fill="none" stroke="#c8c7cb" stroke-width="4.0" stroke-linecap="round" stroke-linejoin="round" opacity="0.8"/><polyline points="87.4,1993.7 83.7,2066.3" fill="none" stroke="#5d5c60" stroke-width="14.399999999999999" stroke-linecap="round" stroke-linejoin="round"/><polyline points="86.2,1992.1 82.5,2064.7" fill="none" stroke="#9d9ca0" stroke-width="4.0" stroke-linecap="round" stroke-linejoin="round" opacity="0.8"/><polyline points="26.0,2064.4 83.7,2058.8" fill="none" stroke="#5d5c60" stroke-width="14.399999999999999" stroke-linecap="round" stroke-linejoin="round"/><polyline points="24.8,2062.8 82.5,2057.2" fill="none" stroke="#9d9ca0" stroke-width="4.0" stroke-linecap="round" stroke-linejoin="round" opacity="0.8"/><polyline points="130.2,1993.7 122.8,2112.8" fill="none" stroke="#111111" stroke-width="15.6" stroke-linecap="round" stroke-linejoin="round"/><polyline points="129.0,1992.1 121.6,2111.2" fill="none" stroke="#3c3c3c" stroke-width="4.4" stroke-linecap="round" stroke-linejoin="round" opacity="0.8"/><polyline points="96.7,2025.3 178.6,2016.0" fill="none" stroke="#111111" stroke-width="15.6" stroke-linecap="round" stroke-linejoin="round"/><polyline points="95.5,2023.7 177.4,2014.4" fill="none" stroke="#3c3c3c" stroke-width="4.4" stroke-linecap="round" stroke-linejoin="round" opacity="0.8"/><polyline points="87.4,2049.5 167.4,2079.3" fill="none" stroke="#111111" stroke-width="15.6" stroke-linecap="round" stroke-linejoin="round"/><polyline points="86.2,2047.9 166.2,2077.7" fill="none" stroke="#3c3c3c" stroke-width="4.4" stroke-linecap="round" stroke-linejoin="round" opacity="0.8"/><polyline points="154.4,1982.6 178.6,1993.7 223.3,1990.0 249.3,2010.5 314.0,2016.0 340.1,2008.2" fill="none" stroke="#111111" stroke-width="15.6" stroke-linecap="round" stroke-linejoin="round"/><polyline points="153.2,1981.0 177.4,1992.1 222.1,1988.4 248.1,2008.9 312.8,2014.4 338.9,2006.6" fill="none" stroke="#3c3c3c" stroke-width="4.4" stroke-linecap="round" stroke-linejoin="round" opacity="0.8"/><polyline points="178.6,1993.7 178.6,2016.0 228.8,2027.2 249.3,2047.7" fill="none" stroke="#111111" stroke-width="15.6" stroke-linecap="round" stroke-linejoin="round"/><polyline points="177.4,1992.1 177.4,2014.4 227.6,2025.6 248.1,2046.1" fill="none" stroke="#3c3c3c" stroke-width="4.4" stroke-linecap="round" stroke-linejoin="round" opacity="0.8"/><polyline points="249.3,2010.5 232.9,2029.1" fill="none" stroke="#111111" stroke-width="14.399999999999999" stroke-linecap="round" stroke-linejoin="round"/><polyline points="248.1,2008.9 231.7,2027.5" fill="none" stroke="#3c3c3c" stroke-width="4.0" stroke-linecap="round" stroke-linejoin="round" opacity="0.8"/><polyline points="314.0,2016.0 329.7,2042.2 376.8,2044.8" fill="none" stroke="#111111" stroke-width="15.6" stroke-linecap="round" stroke-linejoin="round"/><polyline points="312.8,2014.4 328.5,2040.6 375.6,2043.2" fill="none" stroke="#3c3c3c" stroke-width="4.4" stroke-linecap="round" stroke-linejoin="round" opacity="0.8"/><polyline points="329.7,2042.2 319.2,2057.9 253.8,2050.0 249.3,2047.7" fill="none" stroke="#111111" stroke-width="15.6" stroke-linecap="round" stroke-linejoin="round"/><polyline points="328.5,2040.6 318.0,2056.3 252.6,2048.4 248.1,2046.1" fill="none" stroke="#3c3c3c" stroke-width="4.4" stroke-linecap="round" stroke-linejoin="round" opacity="0.8"/><polyline points="319.2,2057.9 329.7,2076.2 376.8,2078.8" fill="none" stroke="#111111" stroke-width="15.6" stroke-linecap="round" stroke-linejoin="round"/><polyline points="318.0,2056.3 328.5,2074.6 375.6,2077.2" fill="none" stroke="#3c3c3c" stroke-width="4.4" stroke-linecap="round" stroke-linejoin="round" opacity="0.8"/><polyline points="329.7,2076.2 311.4,2091.9" fill="none" stroke="#111111" stroke-width="15.6" stroke-linecap="round" stroke-linejoin="round"/><polyline points="328.5,2074.6 310.2,2090.3" fill="none" stroke="#3c3c3c" stroke-width="4.4" stroke-linecap="round" stroke-linejoin="round" opacity="0.8"/><polyline points="1137.0,1670.9 1152.1,1698.1" fill="none" stroke="#5d5c60" stroke-width="14.399999999999999" stroke-linecap="round" stroke-linejoin="round"/><polyline points="1135.8,1669.3 1150.9,1696.5" fill="none" stroke="#9d9ca0" stroke-width="4.0" stroke-linecap="round" stroke-linejoin="round" opacity="0.8"/><polyline points="1118.8,1698.1 1152.1,1698.1" fill="none" stroke="#3a393d" stroke-width="14.399999999999999" stroke-linecap="round" stroke-linejoin="round"/><polyline points="1117.6,1696.5 1150.9,1696.5" fill="none" stroke="#6c6b6f" stroke-width="4.0" stroke-linecap="round" stroke-linejoin="round" opacity="0.8"/><polyline points="1152.1,1698.1 1218.6,1680.0 1245.8,1704.2" fill="none" stroke="#8a898d" stroke-width="14.399999999999999" stroke-linecap="round" stroke-linejoin="round"/><polyline points="1150.9,1696.5 1217.4,1678.4 1244.6,1702.6" fill="none" stroke="#c8c7cb" stroke-width="4.0" stroke-linecap="round" stroke-linejoin="round" opacity="0.8"/><polyline points="1245.8,1704.2 1291.2,1740.5" fill="none" stroke="#5d5c60" stroke-width="14.399999999999999" stroke-linecap="round" stroke-linejoin="round"/><polyline points="1244.6,1702.6 1290.0,1738.9" fill="none" stroke="#9d9ca0" stroke-width="4.0" stroke-linecap="round" stroke-linejoin="round" opacity="0.8"/><polyline points="1245.8,1704.2 1221.6,1734.4" fill="none" stroke="#5d5c60" stroke-width="14.399999999999999" stroke-linecap="round" stroke-linejoin="round"/><polyline points="1244.6,1702.6 1220.4,1732.8" fill="none" stroke="#9d9ca0" stroke-width="4.0" stroke-linecap="round" stroke-linejoin="round" opacity="0.8"/><polyline points="1152.1,1698.1 1161.2,1764.7 1130.9,1807.0 1085.6,1800.9" fill="none" stroke="#5d5c60" stroke-width="14.399999999999999" stroke-linecap="round" stroke-linejoin="round"/><polyline points="1150.9,1696.5 1160.0,1763.1 1129.7,1805.4 1084.4,1799.3" fill="none" stroke="#9d9ca0" stroke-width="4.0" stroke-linecap="round" stroke-linejoin="round" opacity="0.8"/><polyline points="1130.9,1807.0 1114.0,1885.0" fill="none" stroke="#8a898d" stroke-width="14.399999999999999" stroke-linecap="round" stroke-linejoin="round"/><polyline points="1129.7,1805.4 1112.8,1883.4" fill="none" stroke="#c8c7cb" stroke-width="4.0" stroke-linecap="round" stroke-linejoin="round" opacity="0.8"/><polyline points="1114.0,1885.0 1061.4,1890.2 1025.1,1944.7" fill="none" stroke="#5d5c60" stroke-width="14.399999999999999" stroke-linecap="round" stroke-linejoin="round"/><polyline points="1112.8,1883.4 1060.2,1888.6 1023.9,1943.1" fill="none" stroke="#9d9ca0" stroke-width="4.0" stroke-linecap="round" stroke-linejoin="round" opacity="0.8"/><polyline points="1114.0,1885.0 1112.8,1905.3" fill="none" stroke="#3a393d" stroke-width="14.399999999999999" stroke-linecap="round" stroke-linejoin="round"/><polyline points="1112.8,1883.4 1111.6,1903.7" fill="none" stroke="#6c6b6f" stroke-width="4.0" stroke-linecap="round" stroke-linejoin="round" opacity="0.8"/><polyline points="1130.9,1807.0 1143.0,1849.3" fill="none" stroke="#3a393d" stroke-width="14.399999999999999" stroke-linecap="round" stroke-linejoin="round"/><polyline points="1129.7,1805.4 1141.8,1847.7" fill="none" stroke="#6c6b6f" stroke-width="4.0" stroke-linecap="round" stroke-linejoin="round" opacity="0.8"/><polyline points="1291.2,1740.5 1321.4,1719.3" fill="none" stroke="#5d5c60" stroke-width="14.399999999999999" stroke-linecap="round" stroke-linejoin="round"/><polyline points="1290.0,1738.9 1320.2,1717.7" fill="none" stroke="#9d9ca0" stroke-width="4.0" stroke-linecap="round" stroke-linejoin="round" opacity="0.8"/><polyline points="1291.2,1740.5 1279.0,1788.8 1248.8,1813.0" fill="none" stroke="#5d5c60" stroke-width="14.399999999999999" stroke-linecap="round" stroke-linejoin="round"/><polyline points="1290.0,1738.9 1277.8,1787.2 1247.6,1811.4" fill="none" stroke="#9d9ca0" stroke-width="4.0" stroke-linecap="round" stroke-linejoin="round" opacity="0.8"/><polyline points="1279.0,1788.8 1324.4,1831.2" fill="none" stroke="#5d5c60" stroke-width="14.399999999999999" stroke-linecap="round" stroke-linejoin="round"/><polyline points="1277.8,1787.2 1323.2,1829.6" fill="none" stroke="#9d9ca0" stroke-width="4.0" stroke-linecap="round" stroke-linejoin="round" opacity="0.8"/><polyline points="979.8,1884.2 967.7,1932.6 952.6,1999.1" fill="none" stroke="#5d5c60" stroke-width="14.399999999999999" stroke-linecap="round" stroke-linejoin="round"/><polyline points="978.6,1882.6 966.5,1931.0 951.4,1997.5" fill="none" stroke="#9d9ca0" stroke-width="4.0" stroke-linecap="round" stroke-linejoin="round" opacity="0.8"/><polyline points="925.3,1929.5 1010.0,1935.6 1025.1,1944.7" fill="none" stroke="#5d5c60" stroke-width="14.399999999999999" stroke-linecap="round" stroke-linejoin="round"/><polyline points="924.1,1927.9 1008.8,1934.0 1023.9,1943.1" fill="none" stroke="#9d9ca0" stroke-width="4.0" stroke-linecap="round" stroke-linejoin="round" opacity="0.8"/><polyline points="952.6,1999.1 910.2,2008.1" fill="none" stroke="#5d5c60" stroke-width="14.399999999999999" stroke-linecap="round" stroke-linejoin="round"/><polyline points="951.4,1997.5 909.0,2006.5" fill="none" stroke="#9d9ca0" stroke-width="4.0" stroke-linecap="round" stroke-linejoin="round" opacity="0.8"/><polyline points="952.6,1999.1 934.4,2017.2" fill="none" stroke="#3a393d" stroke-width="14.399999999999999" stroke-linecap="round" stroke-linejoin="round"/><polyline points="951.4,1997.5 933.2,2015.6" fill="none" stroke="#6c6b6f" stroke-width="4.0" stroke-linecap="round" stroke-linejoin="round" opacity="0.8"/><polyline points="1025.1,1944.7 1061.4,1990.0" fill="none" stroke="#5d5c60" stroke-width="14.399999999999999" stroke-linecap="round" stroke-linejoin="round"/><polyline points="1023.9,1943.1 1060.2,1988.4" fill="none" stroke="#9d9ca0" stroke-width="4.0" stroke-linecap="round" stroke-linejoin="round" opacity="0.8"/><polyline points="952.6,1999.1 985.0,2013.0" fill="none" stroke="#8a898d" stroke-width="14.399999999999999" stroke-linecap="round" stroke-linejoin="round"/><polyline points="951.4,1997.5 983.8,2011.4" fill="none" stroke="#c8c7cb" stroke-width="4.0" stroke-linecap="round" stroke-linejoin="round" opacity="0.8"/><polyline points="985.0,2013.0 1007.0,2023.3" fill="none" stroke="#7eab28" stroke-width="14.399999999999999" stroke-linecap="round" stroke-linejoin="round"/><polyline points="983.8,2011.4 1005.8,2021.7" fill="none" stroke="#b8dc60" stroke-width="4.0" stroke-linecap="round" stroke-linejoin="round" opacity="0.8"/><polyline points="1416.0,2003.5 1386.0,2060.4 1349.8,2063.7" fill="none" stroke="#5d5c60" stroke-width="14.399999999999999" stroke-linecap="round" stroke-linejoin="round"/><polyline points="1414.8,2001.9 1384.8,2058.8 1348.6,2062.1" fill="none" stroke="#9d9ca0" stroke-width="4.0" stroke-linecap="round" stroke-linejoin="round" opacity="0.8"/><polyline points="1386.0,2060.4 1428.9,2103.3 1402.5,2162.6 1349.8,2172.5" fill="none" stroke="#8a898d" stroke-width="14.399999999999999" stroke-linecap="round" stroke-linejoin="round"/><polyline points="1384.8,2058.8 1427.7,2101.7 1401.3,2161.0 1348.6,2170.9" fill="none" stroke="#c8c7cb" stroke-width="4.0" stroke-linecap="round" stroke-linejoin="round" opacity="0.8"/><polyline points="1402.5,2162.6 1452.0,2202.2" fill="none" stroke="#5d5c60" stroke-width="14.399999999999999" stroke-linecap="round" stroke-linejoin="round"/><polyline points="1401.3,2161.0 1450.8,2200.6" fill="none" stroke="#9d9ca0" stroke-width="4.0" stroke-linecap="round" stroke-linejoin="round" opacity="0.8"/><polyline points="1685.5,1674.3 1734.1,1714.1 1780.5,1709.7 1838.0,1720.7" fill="none" stroke="#5d5c60" stroke-width="14.399999999999999" stroke-linecap="round" stroke-linejoin="round"/><polyline points="1684.3,1672.7 1732.9,1712.5 1779.3,1708.1 1836.8,1719.1" fill="none" stroke="#9d9ca0" stroke-width="4.0" stroke-linecap="round" stroke-linejoin="round" opacity="0.8"/><polyline points="1820.3,1681.0 1789.3,1791.4" fill="none" stroke="#5d5c60" stroke-width="14.399999999999999" stroke-linecap="round" stroke-linejoin="round"/><polyline points="1819.1,1679.4 1788.1,1789.8" fill="none" stroke="#9d9ca0" stroke-width="4.0" stroke-linecap="round" stroke-linejoin="round" opacity="0.8"/><polyline points="1734.1,1714.1 1796.0,1753.8 1833.5,1787.0" fill="none" stroke="#8a898d" stroke-width="14.399999999999999" stroke-linecap="round" stroke-linejoin="round"/><polyline points="1732.9,1712.5 1794.8,1752.2 1832.3,1785.4" fill="none" stroke="#c8c7cb" stroke-width="4.0" stroke-linecap="round" stroke-linejoin="round" opacity="0.8"/><polyline points="1831.3,1740.6 1773.9,1773.7" fill="none" stroke="#5d5c60" stroke-width="14.399999999999999" stroke-linecap="round" stroke-linejoin="round"/><polyline points="1830.1,1739.0 1772.7,1772.1" fill="none" stroke="#9d9ca0" stroke-width="4.0" stroke-linecap="round" stroke-linejoin="round" opacity="0.8"/><polyline points="1734.1,1714.1 1707.6,1776.0 1634.7,1809.1 1617.0,1822.3 1603.7,1850.0" fill="none" stroke="#5d5c60" stroke-width="14.399999999999999" stroke-linecap="round" stroke-linejoin="round"/><polyline points="1732.9,1712.5 1706.4,1774.4 1633.5,1807.5 1615.8,1820.7 1602.5,1848.4" fill="none" stroke="#9d9ca0" stroke-width="4.0" stroke-linecap="round" stroke-linejoin="round" opacity="0.8"/><polyline points="1634.7,1809.1 1581.6,1753.8 1546.3,1817.9" fill="none" stroke="#8a898d" stroke-width="14.399999999999999" stroke-linecap="round" stroke-linejoin="round"/><polyline points="1633.5,1807.5 1580.4,1752.2 1545.1,1816.3" fill="none" stroke="#c8c7cb" stroke-width="4.0" stroke-linecap="round" stroke-linejoin="round" opacity="0.8"/><polyline points="1541.9,1769.3 1643.5,1842.2" fill="none" stroke="#5d5c60" stroke-width="14.399999999999999" stroke-linecap="round" stroke-linejoin="round"/><polyline points="1540.7,1767.7 1642.3,1840.6" fill="none" stroke="#9d9ca0" stroke-width="4.0" stroke-linecap="round" stroke-linejoin="round" opacity="0.8"/><polyline points="1663.4,1804.7 1674.4,1848.9" fill="none" stroke="#8a898d" stroke-width="14.399999999999999" stroke-linecap="round" stroke-linejoin="round"/><polyline points="1662.2,1803.1 1673.2,1847.3" fill="none" stroke="#c8c7cb" stroke-width="4.0" stroke-linecap="round" stroke-linejoin="round" opacity="0.8"/><polyline points="1639.0,1764.9 1654.5,1791.4" fill="none" stroke="#3a393d" stroke-width="14.399999999999999" stroke-linecap="round" stroke-linejoin="round"/><polyline points="1637.8,1763.3 1653.3,1789.8" fill="none" stroke="#6c6b6f" stroke-width="4.0" stroke-linecap="round" stroke-linejoin="round" opacity="0.8"/><polyline points="1248.8,1652.8 1279.0,1671.6 1291.9,1633.3" fill="none" stroke="#7eab28" stroke-width="14.399999999999999" stroke-linecap="round" stroke-linejoin="round"/><polyline points="1247.6,1651.2 1277.8,1670.0 1290.7,1631.7" fill="none" stroke="#b8dc60" stroke-width="4.0" stroke-linecap="round" stroke-linejoin="round" opacity="0.8"/><polyline points="1279.0,1671.6 1325.1,1699.8 1361.0,1676.7" fill="none" stroke="#7eab28" stroke-width="14.399999999999999" stroke-linecap="round" stroke-linejoin="round"/><polyline points="1277.8,1670.0 1323.9,1698.2 1359.8,1675.1" fill="none" stroke="#b8dc60" stroke-width="4.0" stroke-linecap="round" stroke-linejoin="round" opacity="0.8"/><polyline points="1250.9,1653.7 1279.0,1671.6" fill="none" stroke="#6f9a22" stroke-width="14.399999999999999" stroke-linecap="round" stroke-linejoin="round"/><polyline points="1249.7,1652.1 1277.8,1670.0" fill="none" stroke="#a6cf56" stroke-width="4.0" stroke-linecap="round" stroke-linejoin="round" opacity="0.8"/><polyline points="1248.4,1730.5 1322.6,1712.6 1414.7,1715.1 1480.0,1725.0 1504.2,1722.8 1519.5,1740.7" fill="none" stroke="#7eab28" stroke-width="15.6" stroke-linecap="round" stroke-linejoin="round"/><polyline points="1247.2,1728.9 1321.4,1711.0 1413.5,1713.5 1478.8,1723.4 1503.0,1721.2 1518.3,1739.1" fill="none" stroke="#b8dc60" stroke-width="4.4" stroke-linecap="round" stroke-linejoin="round" opacity="0.8"/><polyline points="1330.2,1720.2 1355.8,1738.1 1453.0,1748.4 1407.0,1727.9" fill="none" stroke="#7eab28" stroke-width="14.399999999999999" stroke-linecap="round" stroke-linejoin="round"/><polyline points="1329.0,1718.6 1354.6,1736.5 1451.8,1746.8 1405.8,1726.3" fill="none" stroke="#b8dc60" stroke-width="4.0" stroke-linecap="round" stroke-linejoin="round" opacity="0.8"/><polyline points="1361.0,1738.0 1361.0,1756.0" fill="none" stroke="#7eab28" stroke-width="13.2" stroke-linecap="round" stroke-linejoin="round"/><polyline points="1359.8,1736.4 1359.8,1754.4" fill="none" stroke="#b8dc60" stroke-width="3.7" stroke-linecap="round" stroke-linejoin="round" opacity="0.8"/><polyline points="1294.4,1743.3 1330.2,1753.5" fill="none" stroke="#7eab28" stroke-width="13.2" stroke-linecap="round" stroke-linejoin="round"/><polyline points="1293.2,1741.7 1329.0,1751.9" fill="none" stroke="#b8dc60" stroke-width="3.7" stroke-linecap="round" stroke-linejoin="round" opacity="0.8"/><polyline points="1499.1,1768.8 1534.9,1776.5" fill="none" stroke="#7eab28" stroke-width="13.2" stroke-linecap="round" stroke-linejoin="round"/><polyline points="1497.9,1767.2 1533.7,1774.9" fill="none" stroke="#b8dc60" stroke-width="3.7" stroke-linecap="round" stroke-linejoin="round" opacity="0.8"/><polyline points="1497.7,1771.5 1537.4,1773.7" fill="none" stroke="#7eab28" stroke-width="13.2" stroke-linecap="round" stroke-linejoin="round"/><polyline points="1496.5,1769.9 1536.2,1772.1" fill="none" stroke="#b8dc60" stroke-width="3.7" stroke-linecap="round" stroke-linejoin="round" opacity="0.8"/><polyline points="1583.8,1747.2 1634.7,1742.8 1663.4,1731.8" fill="none" stroke="#7eab28" stroke-width="14.399999999999999" stroke-linecap="round" stroke-linejoin="round"/><polyline points="1582.6,1745.6 1633.5,1741.2 1662.2,1730.2" fill="none" stroke="#b8dc60" stroke-width="4.0" stroke-linecap="round" stroke-linejoin="round" opacity="0.8"/><polyline points="1640.0,1745.0 1667.8,1756.0 1701.0,1753.8" fill="none" stroke="#7eab28" stroke-width="14.399999999999999" stroke-linecap="round" stroke-linejoin="round"/><polyline points="1638.8,1743.4 1666.6,1754.4 1699.8,1752.2" fill="none" stroke="#b8dc60" stroke-width="4.0" stroke-linecap="round" stroke-linejoin="round" opacity="0.8"/><polyline points="1583.8,1769.3 1656.8,1767.1" fill="none" stroke="#7eab28" stroke-width="13.2" stroke-linecap="round" stroke-linejoin="round"/><polyline points="1582.6,1767.7 1655.6,1765.5" fill="none" stroke="#b8dc60" stroke-width="3.7" stroke-linecap="round" stroke-linejoin="round" opacity="0.8"/><polyline points="1583.8,1791.4 1639.0,1787.0" fill="none" stroke="#7eab28" stroke-width="13.2" stroke-linecap="round" stroke-linejoin="round"/><polyline points="1582.6,1789.8 1637.8,1785.4" fill="none" stroke="#b8dc60" stroke-width="3.7" stroke-linecap="round" stroke-linejoin="round" opacity="0.8"/><polyline points="1599.3,1804.7 1630.2,1809.1" fill="none" stroke="#7eab28" stroke-width="13.2" stroke-linecap="round" stroke-linejoin="round"/><polyline points="1598.1,1803.1 1629.0,1807.5" fill="none" stroke="#b8dc60" stroke-width="3.7" stroke-linecap="round" stroke-linejoin="round" opacity="0.8"/><polyline points="1729.7,1681.0 1751.8,1700.8" fill="none" stroke="#7eab28" stroke-width="14.399999999999999" stroke-linecap="round" stroke-linejoin="round"/><polyline points="1728.5,1679.4 1750.6,1699.2" fill="none" stroke="#b8dc60" stroke-width="4.0" stroke-linecap="round" stroke-linejoin="round" opacity="0.8"/><polyline points="1734.1,1734.0 1731.9,1753.8 1754.0,1787.0 1778.3,1778.2" fill="none" stroke="#7eab28" stroke-width="14.399999999999999" stroke-linecap="round" stroke-linejoin="round"/><polyline points="1732.9,1732.4 1730.7,1752.2 1752.8,1785.4 1777.1,1776.6" fill="none" stroke="#b8dc60" stroke-width="4.0" stroke-linecap="round" stroke-linejoin="round" opacity="0.8"/><polyline points="1146.0,1813.0 1172.1,1810.2 1174.2,1847.9 1165.8,1889.8 1193.0,1917.0" fill="none" stroke="#7eab28" stroke-width="14.399999999999999" stroke-linecap="round" stroke-linejoin="round"/><polyline points="1144.8,1811.4 1170.9,1808.6 1173.0,1846.3 1164.6,1888.2 1191.8,1915.4" fill="none" stroke="#b8dc60" stroke-width="4.0" stroke-linecap="round" stroke-linejoin="round" opacity="0.8"/><polyline points="1165.8,1889.8 1151.2,1935.8" fill="none" stroke="#7eab28" stroke-width="14.399999999999999" stroke-linecap="round" stroke-linejoin="round"/><polyline points="1164.6,1888.2 1150.0,1934.2" fill="none" stroke="#b8dc60" stroke-width="4.0" stroke-linecap="round" stroke-linejoin="round" opacity="0.8"/><polyline points="1119.8,1885.6 1165.8,1889.8" fill="none" stroke="#7eab28" stroke-width="14.399999999999999" stroke-linecap="round" stroke-linejoin="round"/><polyline points="1118.6,1884.0 1164.6,1888.2" fill="none" stroke="#b8dc60" stroke-width="4.0" stroke-linecap="round" stroke-linejoin="round" opacity="0.8"/><polyline points="1147.0,1856.3 1260.0,1852.1 1357.7,1867.4" fill="none" stroke="#7eab28" stroke-width="15.6" stroke-linecap="round" stroke-linejoin="round"/><polyline points="1145.8,1854.7 1258.8,1850.5 1356.5,1865.8" fill="none" stroke="#b8dc60" stroke-width="4.4" stroke-linecap="round" stroke-linejoin="round" opacity="0.8"/><polyline points="1151.2,1864.6 1260.0,1868.8" fill="none" stroke="#7eab28" stroke-width="13.2" stroke-linecap="round" stroke-linejoin="round"/><polyline points="1150.0,1863.0 1258.8,1867.2" fill="none" stroke="#b8dc60" stroke-width="3.7" stroke-linecap="round" stroke-linejoin="round" opacity="0.8"/><polyline points="1063.2,1984.0 1172.1,1988.1 1245.3,1990.2" fill="none" stroke="#7eab28" stroke-width="15.6" stroke-linecap="round" stroke-linejoin="round"/><polyline points="1062.0,1982.4 1170.9,1986.5 1244.1,1988.6" fill="none" stroke="#b8dc60" stroke-width="4.4" stroke-linecap="round" stroke-linejoin="round" opacity="0.8"/><polyline points="1019.3,1965.1 1029.8,1986.0 1004.6,2021.6 998.4,2057.2" fill="none" stroke="#7eab28" stroke-width="14.399999999999999" stroke-linecap="round" stroke-linejoin="round"/><polyline points="1018.1,1963.5 1028.6,1984.4 1003.4,2020.0 997.2,2055.6" fill="none" stroke="#b8dc60" stroke-width="4.0" stroke-linecap="round" stroke-linejoin="round" opacity="0.8"/><polyline points="1004.6,2021.6 1023.5,2038.4" fill="none" stroke="#7eab28" stroke-width="14.399999999999999" stroke-linecap="round" stroke-linejoin="round"/><polyline points="1003.4,2020.0 1022.3,2036.8" fill="none" stroke="#b8dc60" stroke-width="4.0" stroke-linecap="round" stroke-linejoin="round" opacity="0.8"/><polyline points="1245.3,1990.2 1394.0,1993.0" fill="none" stroke="#111111" stroke-width="15.6" stroke-linecap="round" stroke-linejoin="round"/><polyline points="1244.1,1988.6 1392.8,1991.4" fill="none" stroke="#3c3c3c" stroke-width="4.4" stroke-linecap="round" stroke-linejoin="round" opacity="0.8"/><polyline points="1340.5,1962.8 1461.9,1961.5 1532.3,1959.9" fill="none" stroke="#111111" stroke-width="15.6" stroke-linecap="round" stroke-linejoin="round"/><polyline points="1339.3,1961.2 1460.7,1959.9 1531.1,1958.3" fill="none" stroke="#3c3c3c" stroke-width="4.4" stroke-linecap="round" stroke-linejoin="round" opacity="0.8"/><polyline points="1238.7,1991.9 1392.8,1986.0 1468.4,1986.0 1532.3,1959.9" fill="none" stroke="#111111" stroke-width="15.6" stroke-linecap="round" stroke-linejoin="round"/><polyline points="1237.5,1990.3 1391.6,1984.4 1467.2,1984.4 1531.1,1958.3" fill="none" stroke="#3c3c3c" stroke-width="4.4" stroke-linecap="round" stroke-linejoin="round" opacity="0.8"/><polyline points="1346.3,1976.0 1420.0,1972.0 1470.0,1975.0" fill="none" stroke="#111111" stroke-width="13.2" stroke-linecap="round" stroke-linejoin="round"/><polyline points="1345.1,1974.4 1418.8,1970.4 1468.8,1973.4" fill="none" stroke="#3c3c3c" stroke-width="3.7" stroke-linecap="round" stroke-linejoin="round" opacity="0.8"/><polyline points="1387.0,1896.0 1459.7,1942.4 1497.4,1922.1" fill="none" stroke="#111111" stroke-width="15.6" stroke-linecap="round" stroke-linejoin="round"/><polyline points="1385.8,1894.4 1458.5,1940.8 1496.2,1920.5" fill="none" stroke="#3c3c3c" stroke-width="4.4" stroke-linecap="round" stroke-linejoin="round" opacity="0.8"/><polyline points="1430.6,1881.4 1392.8,1939.5" fill="none" stroke="#111111" stroke-width="15.6" stroke-linecap="round" stroke-linejoin="round"/><polyline points="1429.4,1879.8 1391.6,1937.9" fill="none" stroke="#3c3c3c" stroke-width="4.4" stroke-linecap="round" stroke-linejoin="round" opacity="0.8"/><polyline points="1387.0,1846.5 1514.9,1846.5 1549.8,1861.0 1605.0,1878.5" fill="none" stroke="#111111" stroke-width="15.6" stroke-linecap="round" stroke-linejoin="round"/><polyline points="1385.8,1844.9 1513.7,1844.9 1548.6,1859.4 1603.8,1876.9" fill="none" stroke="#3c3c3c" stroke-width="4.4" stroke-linecap="round" stroke-linejoin="round" opacity="0.8"/><polyline points="1416.0,1865.4 1491.6,1869.8 1549.8,1884.3 1593.4,1895.9 1663.1,1898.8" fill="none" stroke="#111111" stroke-width="15.6" stroke-linecap="round" stroke-linejoin="round"/><polyline points="1414.8,1863.8 1490.4,1868.2 1548.6,1882.7 1592.2,1894.3 1661.9,1897.2" fill="none" stroke="#3c3c3c" stroke-width="4.4" stroke-linecap="round" stroke-linejoin="round" opacity="0.8"/><polyline points="1549.8,1861.0 1549.8,1884.3" fill="none" stroke="#111111" stroke-width="13.2" stroke-linecap="round" stroke-linejoin="round"/><polyline points="1548.6,1859.4 1548.6,1882.7" fill="none" stroke="#3c3c3c" stroke-width="3.7" stroke-linecap="round" stroke-linejoin="round" opacity="0.8"/><polyline points="1474.2,1890.1 1491.6,1869.8" fill="none" stroke="#111111" stroke-width="15.6" stroke-linecap="round" stroke-linejoin="round"/><polyline points="1473.0,1888.5 1490.4,1868.2" fill="none" stroke="#3c3c3c" stroke-width="4.4" stroke-linecap="round" stroke-linejoin="round" opacity="0.8"/><polyline points="1433.5,1829.0 1433.5,1846.0" fill="none" stroke="#111111" stroke-width="15.6" stroke-linecap="round" stroke-linejoin="round"/><polyline points="1432.3,1827.4 1432.3,1844.4" fill="none" stroke="#3c3c3c" stroke-width="4.4" stroke-linecap="round" stroke-linejoin="round" opacity="0.8"/><polyline points="1616.6,1875.6 1683.5,1832.0 1715.5,1861.0" fill="none" stroke="#111111" stroke-width="15.6" stroke-linecap="round" stroke-linejoin="round"/><polyline points="1615.4,1874.0 1682.3,1830.4 1714.3,1859.4" fill="none" stroke="#3c3c3c" stroke-width="4.4" stroke-linecap="round" stroke-linejoin="round" opacity="0.8"/><polyline points="1683.5,1832.0 1689.3,1823.3" fill="none" stroke="#111111" stroke-width="15.6" stroke-linecap="round" stroke-linejoin="round"/><polyline points="1682.3,1830.4 1688.1,1821.7" fill="none" stroke="#3c3c3c" stroke-width="4.4" stroke-linecap="round" stroke-linejoin="round" opacity="0.8"/><polyline points="1631.2,1887.2 1651.5,1919.2" fill="none" stroke="#111111" stroke-width="15.6" stroke-linecap="round" stroke-linejoin="round"/><polyline points="1630.0,1885.6 1650.3,1917.6" fill="none" stroke="#3c3c3c" stroke-width="4.4" stroke-linecap="round" stroke-linejoin="round" opacity="0.8"/><polyline points="1645.7,1805.8 1642.8,1840.7" fill="none" stroke="#111111" stroke-width="15.6" stroke-linecap="round" stroke-linejoin="round"/><polyline points="1644.5,1804.2 1641.6,1839.1" fill="none" stroke="#3c3c3c" stroke-width="4.4" stroke-linecap="round" stroke-linejoin="round" opacity="0.8"/><polyline points="1605.0,1878.5 1616.6,1832.0" fill="none" stroke="#5d5c60" stroke-width="14.399999999999999" stroke-linecap="round" stroke-linejoin="round"/><polyline points="1603.8,1876.9 1615.4,1830.4" fill="none" stroke="#9d9ca0" stroke-width="4.0" stroke-linecap="round" stroke-linejoin="round" opacity="0.8"/><polyline points="1247.4,1811.6 1282.3,1800.0 1325.9,1832.0 1314.3,1884.3 1267.8,1919.2" fill="none" stroke="#5d5c60" stroke-width="14.399999999999999" stroke-linecap="round" stroke-linejoin="round"/><polyline points="1246.2,1810.0 1281.1,1798.4 1324.7,1830.4 1313.1,1882.7 1266.6,1917.6" fill="none" stroke="#9d9ca0" stroke-width="4.0" stroke-linecap="round" stroke-linejoin="round" opacity="0.8"/><polyline points="1314.3,1884.3 1369.5,1930.8 1416.0,2003.5" fill="none" stroke="#5d5c60" stroke-width="14.399999999999999" stroke-linecap="round" stroke-linejoin="round"/><polyline points="1313.1,1882.7 1368.3,1929.2 1414.8,2001.9" fill="none" stroke="#9d9ca0" stroke-width="4.0" stroke-linecap="round" stroke-linejoin="round" opacity="0.8"/></g><line x1="146.5" y1="1657.7" x2="345.4" y2="1721.2" stroke="#f05a28" stroke-width="5.5" stroke-linecap="butt"/><polygon points="387.2,1732.3 351.9,1702.2 338.8,1740.2" fill="#f05a28"/><line x1="1256.4" y1="2124.5" x2="1317.6" y2="2009.7" stroke="#f05a28" stroke-width="5.5" stroke-linecap="butt"/><polygon points="1339.5,1971.9 1301.7,1999.1 1333.5,2020.2" fill="#f05a28"/><g id="textB"><text transform="matrix(0.8728,0,0,1,18.12,0)" x="0" y="1517.50" font-size="82.12" font-weight="normal" fill="#262626">B) G3-T4-A5 loop</text><text transform="matrix(0.9556,0,0,1,919.49,0)" x="0" y="1519.00" font-size="78.49" font-weight="normal" fill="#262626">C) V loop</text><text transform="matrix(0.7248,0,0,1,469.04,0)" x="0" y="1596.10" font-size="56.25" font-weight="bold" fill="#e05a2b">T4</text><text transform="matrix(0.7448,0,0,1,26.03,0)" x="0" y="1656.80" font-size="56.11" font-weight="bold" fill="#1a1a1a">T4 H4′</text><text transform="matrix(0.7691,0,0,1,691.58,0)" x="0" y="1687.20" font-size="51.41" font-weight="bold" fill="#8cad47">G3</text><text transform="matrix(0.7209,0,0,1,327.59,0)" x="0" y="1792.20" font-size="56.25" font-weight="bold" fill="#2277c0">A5</text><text transform="matrix(0.7540,0,0,1,437.33,0)" x="0" y="1913.40" font-size="54.14" font-weight="bold" fill="#1a1a1a">G6</text><text transform="matrix(0.7998,0,0,1,214.18,0)" x="0" y="2123.30" font-size="52.42" font-weight="bold" fill="#1a1a1a">G20</text><text transform="matrix(0.7661,0,0,1,676.17,0)" x="0" y="1993.40" font-size="51.99" font-weight="bold" fill="#8cad47">G2</text><text transform="matrix(0.7425,0,0,1,635.29,0)" x="0" y="2100.70" font-size="56.28" font-weight="bold" fill="#8cad47">G12</text><text transform="matrix(0.7149,0,0,1,1388.80,0)" x="0" y="1689.40" font-size="58.15" font-weight="bold" fill="#8cad47">G12</text><text transform="matrix(0.6602,0,0,1,1575.33,0)" x="0" y="1722.40" font-size="58.15" font-weight="bold" fill="#8cad47">G2</text><text transform="matrix(0.8021,0,0,1,993.19,0)" x="0" y="1856.90" font-size="51.99" font-weight="bold" fill="#8cad47">G13</text><text transform="matrix(0.6439,0,0,1,1677.90,0)" x="0" y="1950.00" font-size="56.71" font-weight="bold" fill="#1a1a1a">G1</text><text transform="matrix(0.7029,0,0,1,1493.17,0)" x="0" y="2045.60" font-size="56.71" font-weight="bold" fill="#1a1a1a">G11</text><text transform="matrix(0.7285,0,0,1,1071.82,0)" x="0" y="2068.60" font-size="56.28" font-weight="bold" fill="#8cad47">G14</text><text transform="matrix(0.7204,0,0,1,1162.47,0)" x="0" y="2177.40" font-size="58.43" font-weight="bold" fill="#1a1a1a">G11 H3′</text></g></svg></body></html>
